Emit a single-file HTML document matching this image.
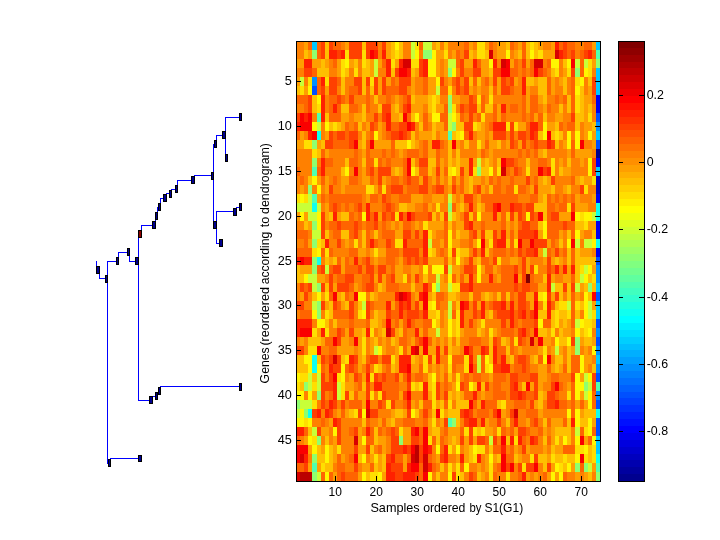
<!DOCTYPE html>
<html><head><meta charset="utf-8"><title>figure</title>
<style>
html,body{margin:0;padding:0;background:#fff}
body{width:720px;height:540px;overflow:hidden}
svg{display:block}
text{font-family:"Liberation Sans",sans-serif;font-size:13.33px;fill:#000;filter:brightness(1)}
.c0{fill:#00008f}
.c1{fill:#0000ef}
.c2{fill:#0050ff}
.c3{fill:#0090ff}
.c4{fill:#00c8ff}
.c5{fill:#10ffef}
.c6{fill:#50ffaf}
.c7{fill:#8fff6f}
.c8{fill:#c8ff38}
.c9{fill:#fff700}
.ca{fill:#ffdf00}
.cb{fill:#ffbf00}
.cc{fill:#ff9f00}
.cd{fill:#ff8000}
.ce{fill:#ff6400}
.cf{fill:#ff4000}
.cg{fill:#ff2000}
.ch{fill:#fa0000}
.ci{fill:#d70000}
.cj{fill:#bb0000}
.ck{fill:#800000}
.cz{fill:#0000bf}
.ln{fill:#0000ff}
.mk{fill:#00008f;stroke:#000;stroke-width:1}
.mr{fill:#8f0000;stroke:#000;stroke-width:1}
.k{fill:#000}
</style></head><body>
<svg width="720" height="540" viewBox="0 0 720 540" shape-rendering="crispEdges">
<rect x="0" y="0" width="720" height="540" fill="#fff"/>
<g id="heat">
<rect class="cd" x="296" y="41" width="8" height="9"/>
<rect class="cc" x="304" y="41" width="4" height="9"/>
<rect class="ce" x="308" y="41" width="4" height="9"/>
<rect class="c4" x="312" y="41" width="5" height="9"/>
<rect class="ce" x="317" y="41" width="4" height="9"/>
<rect class="cf" x="321" y="41" width="4" height="9"/>
<rect class="cb" x="325" y="41" width="4" height="9"/>
<rect class="cf" x="329" y="41" width="4" height="9"/>
<rect class="ce" x="333" y="41" width="8" height="9"/>
<rect class="cd" x="341" y="41" width="4" height="9"/>
<rect class="cc" x="345" y="41" width="4" height="9"/>
<rect class="cf" x="349" y="41" width="13" height="9"/>
<rect class="cb" x="362" y="41" width="4" height="9"/>
<rect class="cf" x="366" y="41" width="12" height="9"/>
<rect class="cd" x="378" y="41" width="4" height="9"/>
<rect class="cf" x="382" y="41" width="4" height="9"/>
<rect class="cc" x="386" y="41" width="5" height="9"/>
<rect class="cb" x="391" y="41" width="4" height="9"/>
<rect class="c9" x="395" y="41" width="4" height="9"/>
<rect class="cb" x="399" y="41" width="4" height="9"/>
<rect class="cd" x="403" y="41" width="8" height="9"/>
<rect class="c8" x="411" y="41" width="4" height="9"/>
<rect class="ca" x="415" y="41" width="4" height="9"/>
<rect class="ce" x="419" y="41" width="4" height="9"/>
<rect class="c8" x="423" y="41" width="9" height="9"/>
<rect class="cc" x="432" y="41" width="4" height="9"/>
<rect class="cb" x="436" y="41" width="4" height="9"/>
<rect class="cd" x="440" y="41" width="4" height="9"/>
<rect class="cb" x="444" y="41" width="4" height="9"/>
<rect class="cd" x="448" y="41" width="16" height="9"/>
<rect class="ce" x="464" y="41" width="5" height="9"/>
<rect class="cc" x="469" y="41" width="4" height="9"/>
<rect class="cd" x="473" y="41" width="4" height="9"/>
<rect class="ca" x="477" y="41" width="8" height="9"/>
<rect class="cc" x="485" y="41" width="4" height="9"/>
<rect class="ce" x="489" y="41" width="4" height="9"/>
<rect class="cd" x="493" y="41" width="4" height="9"/>
<rect class="cc" x="497" y="41" width="9" height="9"/>
<rect class="cb" x="506" y="41" width="4" height="9"/>
<rect class="ce" x="510" y="41" width="4" height="9"/>
<rect class="cd" x="514" y="41" width="4" height="9"/>
<rect class="cc" x="518" y="41" width="4" height="9"/>
<rect class="ce" x="522" y="41" width="4" height="9"/>
<rect class="cb" x="526" y="41" width="4" height="9"/>
<rect class="ca" x="530" y="41" width="4" height="9"/>
<rect class="cb" x="534" y="41" width="4" height="9"/>
<rect class="cc" x="538" y="41" width="5" height="9"/>
<rect class="cd" x="543" y="41" width="8" height="9"/>
<rect class="cc" x="551" y="41" width="4" height="9"/>
<rect class="cg" x="555" y="41" width="4" height="9"/>
<rect class="ce" x="559" y="41" width="4" height="9"/>
<rect class="cf" x="563" y="41" width="4" height="9"/>
<rect class="ce" x="567" y="41" width="8" height="9"/>
<rect class="cd" x="575" y="41" width="9" height="9"/>
<rect class="ce" x="584" y="41" width="8" height="9"/>
<rect class="cc" x="592" y="41" width="4" height="9"/>
<rect class="c4" x="596" y="41" width="4" height="9"/>
<rect class="cd" x="296" y="50" width="8" height="9"/>
<rect class="cb" x="304" y="50" width="4" height="9"/>
<rect class="cc" x="308" y="50" width="4" height="9"/>
<rect class="c7" x="312" y="50" width="5" height="9"/>
<rect class="ce" x="317" y="50" width="4" height="9"/>
<rect class="cf" x="321" y="50" width="4" height="9"/>
<rect class="cb" x="325" y="50" width="4" height="9"/>
<rect class="cg" x="329" y="50" width="8" height="9"/>
<rect class="cf" x="337" y="50" width="4" height="9"/>
<rect class="cg" x="341" y="50" width="4" height="9"/>
<rect class="ca" x="345" y="50" width="4" height="9"/>
<rect class="cf" x="349" y="50" width="13" height="9"/>
<rect class="ca" x="362" y="50" width="4" height="9"/>
<rect class="cf" x="366" y="50" width="4" height="9"/>
<rect class="ch" x="370" y="50" width="4" height="9"/>
<rect class="cg" x="374" y="50" width="4" height="9"/>
<rect class="cd" x="378" y="50" width="4" height="9"/>
<rect class="cg" x="382" y="50" width="4" height="9"/>
<rect class="cc" x="386" y="50" width="5" height="9"/>
<rect class="cb" x="391" y="50" width="4" height="9"/>
<rect class="ca" x="395" y="50" width="4" height="9"/>
<rect class="cb" x="399" y="50" width="4" height="9"/>
<rect class="cd" x="403" y="50" width="8" height="9"/>
<rect class="c8" x="411" y="50" width="4" height="9"/>
<rect class="c9" x="415" y="50" width="4" height="9"/>
<rect class="cd" x="419" y="50" width="4" height="9"/>
<rect class="c7" x="423" y="50" width="9" height="9"/>
<rect class="c9" x="432" y="50" width="4" height="9"/>
<rect class="cc" x="436" y="50" width="8" height="9"/>
<rect class="ca" x="444" y="50" width="4" height="9"/>
<rect class="cd" x="448" y="50" width="4" height="9"/>
<rect class="cc" x="452" y="50" width="4" height="9"/>
<rect class="ce" x="456" y="50" width="4" height="9"/>
<rect class="cd" x="460" y="50" width="4" height="9"/>
<rect class="cf" x="464" y="50" width="5" height="9"/>
<rect class="cb" x="469" y="50" width="4" height="9"/>
<rect class="cc" x="473" y="50" width="4" height="9"/>
<rect class="ca" x="477" y="50" width="8" height="9"/>
<rect class="cb" x="485" y="50" width="4" height="9"/>
<rect class="ci" x="489" y="50" width="4" height="9"/>
<rect class="cd" x="493" y="50" width="4" height="9"/>
<rect class="cc" x="497" y="50" width="9" height="9"/>
<rect class="c9" x="506" y="50" width="4" height="9"/>
<rect class="cd" x="510" y="50" width="4" height="9"/>
<rect class="cc" x="514" y="50" width="4" height="9"/>
<rect class="cb" x="518" y="50" width="4" height="9"/>
<rect class="ce" x="522" y="50" width="4" height="9"/>
<rect class="cb" x="526" y="50" width="4" height="9"/>
<rect class="c9" x="530" y="50" width="4" height="9"/>
<rect class="cb" x="534" y="50" width="4" height="9"/>
<rect class="ca" x="538" y="50" width="5" height="9"/>
<rect class="cc" x="543" y="50" width="12" height="9"/>
<rect class="ci" x="555" y="50" width="4" height="9"/>
<rect class="cg" x="559" y="50" width="4" height="9"/>
<rect class="cf" x="563" y="50" width="4" height="9"/>
<rect class="ce" x="567" y="50" width="4" height="9"/>
<rect class="cf" x="571" y="50" width="4" height="9"/>
<rect class="cd" x="575" y="50" width="5" height="9"/>
<rect class="ce" x="580" y="50" width="4" height="9"/>
<rect class="cf" x="584" y="50" width="4" height="9"/>
<rect class="cg" x="588" y="50" width="4" height="9"/>
<rect class="ce" x="592" y="50" width="4" height="9"/>
<rect class="c6" x="596" y="50" width="4" height="9"/>
<rect class="cc" x="296" y="59" width="8" height="9"/>
<rect class="cg" x="304" y="59" width="8" height="9"/>
<rect class="cc" x="312" y="59" width="9" height="9"/>
<rect class="cb" x="321" y="59" width="4" height="9"/>
<rect class="cc" x="325" y="59" width="4" height="9"/>
<rect class="cd" x="329" y="59" width="4" height="9"/>
<rect class="ce" x="333" y="59" width="4" height="9"/>
<rect class="cc" x="337" y="59" width="4" height="9"/>
<rect class="ca" x="341" y="59" width="4" height="9"/>
<rect class="c9" x="345" y="59" width="4" height="9"/>
<rect class="cc" x="349" y="59" width="5" height="9"/>
<rect class="cb" x="354" y="59" width="4" height="9"/>
<rect class="cd" x="358" y="59" width="4" height="9"/>
<rect class="ca" x="362" y="59" width="4" height="9"/>
<rect class="cb" x="366" y="59" width="4" height="9"/>
<rect class="cc" x="370" y="59" width="4" height="9"/>
<rect class="c8" x="374" y="59" width="4" height="9"/>
<rect class="cc" x="378" y="59" width="4" height="9"/>
<rect class="ce" x="382" y="59" width="4" height="9"/>
<rect class="cg" x="386" y="59" width="5" height="9"/>
<rect class="ca" x="391" y="59" width="4" height="9"/>
<rect class="cc" x="395" y="59" width="4" height="9"/>
<rect class="cg" x="399" y="59" width="4" height="9"/>
<rect class="ci" x="403" y="59" width="8" height="9"/>
<rect class="ca" x="411" y="59" width="8" height="9"/>
<rect class="cf" x="419" y="59" width="4" height="9"/>
<rect class="cg" x="423" y="59" width="5" height="9"/>
<rect class="c9" x="428" y="59" width="8" height="9"/>
<rect class="cc" x="436" y="59" width="4" height="9"/>
<rect class="cd" x="440" y="59" width="4" height="9"/>
<rect class="cc" x="444" y="59" width="4" height="9"/>
<rect class="c8" x="448" y="59" width="8" height="9"/>
<rect class="ce" x="456" y="59" width="4" height="9"/>
<rect class="cf" x="460" y="59" width="4" height="9"/>
<rect class="cc" x="464" y="59" width="9" height="9"/>
<rect class="cg" x="473" y="59" width="4" height="9"/>
<rect class="ce" x="477" y="59" width="4" height="9"/>
<rect class="cc" x="481" y="59" width="8" height="9"/>
<rect class="c9" x="489" y="59" width="4" height="9"/>
<rect class="cg" x="493" y="59" width="4" height="9"/>
<rect class="cd" x="497" y="59" width="4" height="9"/>
<rect class="ci" x="501" y="59" width="5" height="9"/>
<rect class="ch" x="506" y="59" width="4" height="9"/>
<rect class="cc" x="510" y="59" width="4" height="9"/>
<rect class="ce" x="514" y="59" width="4" height="9"/>
<rect class="cd" x="518" y="59" width="4" height="9"/>
<rect class="cf" x="522" y="59" width="4" height="9"/>
<rect class="cc" x="526" y="59" width="4" height="9"/>
<rect class="ce" x="530" y="59" width="4" height="9"/>
<rect class="ci" x="534" y="59" width="9" height="9"/>
<rect class="cd" x="543" y="59" width="4" height="9"/>
<rect class="ce" x="547" y="59" width="4" height="9"/>
<rect class="c9" x="551" y="59" width="8" height="9"/>
<rect class="cd" x="559" y="59" width="4" height="9"/>
<rect class="cb" x="563" y="59" width="4" height="9"/>
<rect class="c9" x="567" y="59" width="4" height="9"/>
<rect class="ch" x="571" y="59" width="4" height="9"/>
<rect class="c8" x="575" y="59" width="5" height="9"/>
<rect class="ce" x="580" y="59" width="4" height="9"/>
<rect class="c8" x="584" y="59" width="4" height="9"/>
<rect class="ca" x="588" y="59" width="4" height="9"/>
<rect class="cc" x="592" y="59" width="4" height="9"/>
<rect class="c7" x="596" y="59" width="4" height="9"/>
<rect class="cd" x="296" y="68" width="8" height="9"/>
<rect class="cf" x="304" y="68" width="8" height="9"/>
<rect class="ce" x="312" y="68" width="5" height="9"/>
<rect class="cb" x="317" y="68" width="12" height="9"/>
<rect class="cd" x="329" y="68" width="8" height="9"/>
<rect class="cc" x="337" y="68" width="4" height="9"/>
<rect class="ca" x="341" y="68" width="4" height="9"/>
<rect class="cb" x="345" y="68" width="4" height="9"/>
<rect class="cd" x="349" y="68" width="5" height="9"/>
<rect class="ca" x="354" y="68" width="4" height="9"/>
<rect class="cd" x="358" y="68" width="4" height="9"/>
<rect class="cb" x="362" y="68" width="8" height="9"/>
<rect class="cc" x="370" y="68" width="4" height="9"/>
<rect class="c8" x="374" y="68" width="4" height="9"/>
<rect class="cd" x="378" y="68" width="8" height="9"/>
<rect class="cg" x="386" y="68" width="5" height="9"/>
<rect class="cb" x="391" y="68" width="4" height="9"/>
<rect class="cf" x="395" y="68" width="4" height="9"/>
<rect class="ch" x="399" y="68" width="8" height="9"/>
<rect class="cg" x="407" y="68" width="4" height="9"/>
<rect class="cb" x="411" y="68" width="4" height="9"/>
<rect class="cc" x="415" y="68" width="4" height="9"/>
<rect class="cf" x="419" y="68" width="4" height="9"/>
<rect class="cg" x="423" y="68" width="5" height="9"/>
<rect class="c9" x="428" y="68" width="8" height="9"/>
<rect class="cc" x="436" y="68" width="4" height="9"/>
<rect class="cd" x="440" y="68" width="4" height="9"/>
<rect class="cc" x="444" y="68" width="4" height="9"/>
<rect class="c7" x="448" y="68" width="4" height="9"/>
<rect class="c9" x="452" y="68" width="4" height="9"/>
<rect class="cd" x="456" y="68" width="4" height="9"/>
<rect class="cf" x="460" y="68" width="4" height="9"/>
<rect class="cd" x="464" y="68" width="9" height="9"/>
<rect class="cf" x="473" y="68" width="8" height="9"/>
<rect class="cc" x="481" y="68" width="8" height="9"/>
<rect class="cb" x="489" y="68" width="4" height="9"/>
<rect class="cf" x="493" y="68" width="8" height="9"/>
<rect class="ch" x="501" y="68" width="9" height="9"/>
<rect class="ce" x="510" y="68" width="8" height="9"/>
<rect class="cd" x="518" y="68" width="4" height="9"/>
<rect class="ce" x="522" y="68" width="4" height="9"/>
<rect class="cd" x="526" y="68" width="4" height="9"/>
<rect class="ce" x="530" y="68" width="4" height="9"/>
<rect class="ch" x="534" y="68" width="4" height="9"/>
<rect class="cf" x="538" y="68" width="5" height="9"/>
<rect class="ce" x="543" y="68" width="4" height="9"/>
<rect class="cd" x="547" y="68" width="4" height="9"/>
<rect class="cb" x="551" y="68" width="4" height="9"/>
<rect class="ca" x="555" y="68" width="4" height="9"/>
<rect class="cd" x="559" y="68" width="4" height="9"/>
<rect class="cc" x="563" y="68" width="4" height="9"/>
<rect class="ca" x="567" y="68" width="4" height="9"/>
<rect class="cf" x="571" y="68" width="4" height="9"/>
<rect class="c7" x="575" y="68" width="5" height="9"/>
<rect class="ce" x="580" y="68" width="4" height="9"/>
<rect class="c9" x="584" y="68" width="4" height="9"/>
<rect class="ca" x="588" y="68" width="4" height="9"/>
<rect class="cd" x="592" y="68" width="4" height="9"/>
<rect class="c4" x="596" y="68" width="4" height="9"/>
<rect class="cc" x="296" y="77" width="4" height="9"/>
<rect class="c8" x="300" y="77" width="4" height="9"/>
<rect class="cd" x="304" y="77" width="4" height="9"/>
<rect class="ca" x="308" y="77" width="4" height="9"/>
<rect class="c3" x="312" y="77" width="5" height="9"/>
<rect class="ce" x="317" y="77" width="4" height="9"/>
<rect class="cg" x="321" y="77" width="4" height="9"/>
<rect class="ca" x="325" y="77" width="4" height="9"/>
<rect class="cf" x="329" y="77" width="8" height="9"/>
<rect class="ce" x="337" y="77" width="4" height="9"/>
<rect class="cb" x="341" y="77" width="4" height="9"/>
<rect class="cd" x="345" y="77" width="9" height="9"/>
<rect class="cf" x="354" y="77" width="8" height="9"/>
<rect class="cb" x="362" y="77" width="4" height="9"/>
<rect class="cf" x="366" y="77" width="4" height="9"/>
<rect class="ca" x="370" y="77" width="4" height="9"/>
<rect class="cf" x="374" y="77" width="4" height="9"/>
<rect class="cc" x="378" y="77" width="4" height="9"/>
<rect class="cf" x="382" y="77" width="4" height="9"/>
<rect class="cc" x="386" y="77" width="5" height="9"/>
<rect class="ce" x="391" y="77" width="4" height="9"/>
<rect class="cd" x="395" y="77" width="4" height="9"/>
<rect class="cf" x="399" y="77" width="12" height="9"/>
<rect class="cc" x="411" y="77" width="4" height="9"/>
<rect class="cd" x="415" y="77" width="8" height="9"/>
<rect class="ce" x="423" y="77" width="5" height="9"/>
<rect class="cc" x="428" y="77" width="8" height="9"/>
<rect class="c9" x="436" y="77" width="4" height="9"/>
<rect class="cf" x="440" y="77" width="4" height="9"/>
<rect class="cd" x="444" y="77" width="4" height="9"/>
<rect class="cc" x="448" y="77" width="4" height="9"/>
<rect class="ce" x="452" y="77" width="4" height="9"/>
<rect class="cf" x="456" y="77" width="4" height="9"/>
<rect class="cd" x="460" y="77" width="4" height="9"/>
<rect class="cf" x="464" y="77" width="5" height="9"/>
<rect class="cb" x="469" y="77" width="4" height="9"/>
<rect class="ce" x="473" y="77" width="4" height="9"/>
<rect class="cb" x="477" y="77" width="4" height="9"/>
<rect class="cd" x="481" y="77" width="4" height="9"/>
<rect class="ce" x="485" y="77" width="4" height="9"/>
<rect class="cc" x="489" y="77" width="4" height="9"/>
<rect class="cf" x="493" y="77" width="4" height="9"/>
<rect class="cc" x="497" y="77" width="4" height="9"/>
<rect class="cf" x="501" y="77" width="5" height="9"/>
<rect class="ce" x="506" y="77" width="4" height="9"/>
<rect class="cf" x="510" y="77" width="4" height="9"/>
<rect class="cc" x="514" y="77" width="4" height="9"/>
<rect class="cd" x="518" y="77" width="4" height="9"/>
<rect class="cg" x="522" y="77" width="4" height="9"/>
<rect class="cb" x="526" y="77" width="8" height="9"/>
<rect class="cc" x="534" y="77" width="4" height="9"/>
<rect class="cb" x="538" y="77" width="9" height="9"/>
<rect class="ce" x="547" y="77" width="4" height="9"/>
<rect class="cc" x="551" y="77" width="4" height="9"/>
<rect class="cd" x="555" y="77" width="4" height="9"/>
<rect class="cc" x="559" y="77" width="4" height="9"/>
<rect class="cb" x="563" y="77" width="4" height="9"/>
<rect class="cd" x="567" y="77" width="4" height="9"/>
<rect class="ce" x="571" y="77" width="4" height="9"/>
<rect class="ca" x="575" y="77" width="5" height="9"/>
<rect class="c9" x="580" y="77" width="4" height="9"/>
<rect class="cd" x="584" y="77" width="4" height="9"/>
<rect class="cb" x="588" y="77" width="4" height="9"/>
<rect class="cf" x="592" y="77" width="4" height="9"/>
<rect class="c4" x="596" y="77" width="4" height="9"/>
<rect class="cb" x="296" y="86" width="4" height="9"/>
<rect class="ca" x="300" y="86" width="4" height="9"/>
<rect class="cc" x="304" y="86" width="4" height="9"/>
<rect class="c9" x="308" y="86" width="4" height="9"/>
<rect class="c2" x="312" y="86" width="5" height="9"/>
<rect class="ce" x="317" y="86" width="4" height="9"/>
<rect class="cf" x="321" y="86" width="4" height="9"/>
<rect class="cc" x="325" y="86" width="4" height="9"/>
<rect class="cf" x="329" y="86" width="8" height="9"/>
<rect class="cd" x="337" y="86" width="4" height="9"/>
<rect class="cb" x="341" y="86" width="4" height="9"/>
<rect class="cd" x="345" y="86" width="4" height="9"/>
<rect class="ce" x="349" y="86" width="9" height="9"/>
<rect class="cf" x="358" y="86" width="4" height="9"/>
<rect class="cb" x="362" y="86" width="4" height="9"/>
<rect class="ce" x="366" y="86" width="4" height="9"/>
<rect class="cb" x="370" y="86" width="4" height="9"/>
<rect class="cf" x="374" y="86" width="4" height="9"/>
<rect class="cc" x="378" y="86" width="4" height="9"/>
<rect class="cf" x="382" y="86" width="4" height="9"/>
<rect class="ce" x="386" y="86" width="13" height="9"/>
<rect class="cf" x="399" y="86" width="8" height="9"/>
<rect class="cd" x="407" y="86" width="4" height="9"/>
<rect class="cc" x="411" y="86" width="4" height="9"/>
<rect class="cd" x="415" y="86" width="8" height="9"/>
<rect class="ce" x="423" y="86" width="5" height="9"/>
<rect class="cc" x="428" y="86" width="8" height="9"/>
<rect class="c8" x="436" y="86" width="4" height="9"/>
<rect class="ce" x="440" y="86" width="8" height="9"/>
<rect class="ca" x="448" y="86" width="4" height="9"/>
<rect class="cd" x="452" y="86" width="4" height="9"/>
<rect class="cf" x="456" y="86" width="4" height="9"/>
<rect class="ce" x="460" y="86" width="4" height="9"/>
<rect class="cf" x="464" y="86" width="5" height="9"/>
<rect class="cc" x="469" y="86" width="4" height="9"/>
<rect class="cd" x="473" y="86" width="4" height="9"/>
<rect class="cc" x="477" y="86" width="4" height="9"/>
<rect class="cd" x="481" y="86" width="8" height="9"/>
<rect class="cb" x="489" y="86" width="4" height="9"/>
<rect class="ce" x="493" y="86" width="4" height="9"/>
<rect class="cc" x="497" y="86" width="4" height="9"/>
<rect class="cf" x="501" y="86" width="9" height="9"/>
<rect class="ce" x="510" y="86" width="4" height="9"/>
<rect class="cd" x="514" y="86" width="8" height="9"/>
<rect class="cg" x="522" y="86" width="4" height="9"/>
<rect class="cc" x="526" y="86" width="4" height="9"/>
<rect class="cd" x="530" y="86" width="8" height="9"/>
<rect class="cb" x="538" y="86" width="9" height="9"/>
<rect class="ce" x="547" y="86" width="4" height="9"/>
<rect class="cc" x="551" y="86" width="4" height="9"/>
<rect class="cd" x="555" y="86" width="8" height="9"/>
<rect class="cb" x="563" y="86" width="4" height="9"/>
<rect class="cd" x="567" y="86" width="4" height="9"/>
<rect class="ce" x="571" y="86" width="4" height="9"/>
<rect class="c9" x="575" y="86" width="5" height="9"/>
<rect class="cb" x="580" y="86" width="4" height="9"/>
<rect class="cd" x="584" y="86" width="4" height="9"/>
<rect class="cc" x="588" y="86" width="4" height="9"/>
<rect class="cf" x="592" y="86" width="4" height="9"/>
<rect class="c4" x="596" y="86" width="4" height="9"/>
<rect class="ce" x="296" y="95" width="12" height="9"/>
<rect class="cf" x="308" y="95" width="4" height="9"/>
<rect class="cb" x="312" y="95" width="5" height="9"/>
<rect class="c9" x="317" y="95" width="4" height="9"/>
<rect class="cg" x="321" y="95" width="4" height="9"/>
<rect class="cd" x="325" y="95" width="4" height="9"/>
<rect class="ce" x="329" y="95" width="8" height="9"/>
<rect class="cf" x="337" y="95" width="4" height="9"/>
<rect class="ce" x="341" y="95" width="4" height="9"/>
<rect class="cd" x="345" y="95" width="4" height="9"/>
<rect class="cf" x="349" y="95" width="5" height="9"/>
<rect class="cd" x="354" y="95" width="12" height="9"/>
<rect class="ce" x="366" y="95" width="4" height="9"/>
<rect class="cd" x="370" y="95" width="4" height="9"/>
<rect class="cb" x="374" y="95" width="4" height="9"/>
<rect class="cd" x="378" y="95" width="8" height="9"/>
<rect class="ce" x="386" y="95" width="5" height="9"/>
<rect class="cd" x="391" y="95" width="4" height="9"/>
<rect class="cc" x="395" y="95" width="4" height="9"/>
<rect class="cd" x="399" y="95" width="4" height="9"/>
<rect class="ce" x="403" y="95" width="4" height="9"/>
<rect class="cf" x="407" y="95" width="4" height="9"/>
<rect class="cb" x="411" y="95" width="4" height="9"/>
<rect class="cc" x="415" y="95" width="13" height="9"/>
<rect class="cb" x="428" y="95" width="4" height="9"/>
<rect class="ca" x="432" y="95" width="4" height="9"/>
<rect class="cb" x="436" y="95" width="4" height="9"/>
<rect class="cd" x="440" y="95" width="8" height="9"/>
<rect class="c7" x="448" y="95" width="4" height="9"/>
<rect class="cc" x="452" y="95" width="8" height="9"/>
<rect class="cd" x="460" y="95" width="9" height="9"/>
<rect class="cf" x="469" y="95" width="4" height="9"/>
<rect class="ce" x="473" y="95" width="4" height="9"/>
<rect class="ca" x="477" y="95" width="4" height="9"/>
<rect class="ce" x="481" y="95" width="4" height="9"/>
<rect class="cd" x="485" y="95" width="4" height="9"/>
<rect class="ca" x="489" y="95" width="4" height="9"/>
<rect class="cd" x="493" y="95" width="29" height="9"/>
<rect class="ce" x="522" y="95" width="4" height="9"/>
<rect class="cc" x="526" y="95" width="4" height="9"/>
<rect class="ce" x="530" y="95" width="8" height="9"/>
<rect class="cc" x="538" y="95" width="5" height="9"/>
<rect class="cb" x="543" y="95" width="4" height="9"/>
<rect class="cd" x="547" y="95" width="8" height="9"/>
<rect class="ce" x="555" y="95" width="4" height="9"/>
<rect class="cd" x="559" y="95" width="4" height="9"/>
<rect class="ce" x="563" y="95" width="4" height="9"/>
<rect class="cb" x="567" y="95" width="4" height="9"/>
<rect class="ce" x="571" y="95" width="4" height="9"/>
<rect class="ca" x="575" y="95" width="5" height="9"/>
<rect class="cb" x="580" y="95" width="4" height="9"/>
<rect class="cc" x="584" y="95" width="8" height="9"/>
<rect class="ce" x="592" y="95" width="4" height="9"/>
<rect class="c1" x="596" y="95" width="4" height="9"/>
<rect class="cd" x="296" y="104" width="8" height="9"/>
<rect class="ce" x="304" y="104" width="4" height="9"/>
<rect class="cf" x="308" y="104" width="4" height="9"/>
<rect class="cb" x="312" y="104" width="5" height="9"/>
<rect class="ca" x="317" y="104" width="4" height="9"/>
<rect class="cg" x="321" y="104" width="4" height="9"/>
<rect class="cd" x="325" y="104" width="4" height="9"/>
<rect class="ce" x="329" y="104" width="4" height="9"/>
<rect class="cg" x="333" y="104" width="4" height="9"/>
<rect class="ce" x="337" y="104" width="4" height="9"/>
<rect class="cb" x="341" y="104" width="8" height="9"/>
<rect class="ce" x="349" y="104" width="9" height="9"/>
<rect class="cd" x="358" y="104" width="4" height="9"/>
<rect class="cb" x="362" y="104" width="4" height="9"/>
<rect class="ce" x="366" y="104" width="4" height="9"/>
<rect class="cd" x="370" y="104" width="8" height="9"/>
<rect class="cb" x="378" y="104" width="4" height="9"/>
<rect class="cf" x="382" y="104" width="9" height="9"/>
<rect class="cc" x="391" y="104" width="4" height="9"/>
<rect class="cb" x="395" y="104" width="4" height="9"/>
<rect class="cd" x="399" y="104" width="4" height="9"/>
<rect class="cf" x="403" y="104" width="4" height="9"/>
<rect class="cg" x="407" y="104" width="4" height="9"/>
<rect class="cc" x="411" y="104" width="12" height="9"/>
<rect class="cd" x="423" y="104" width="5" height="9"/>
<rect class="cb" x="428" y="104" width="4" height="9"/>
<rect class="ca" x="432" y="104" width="4" height="9"/>
<rect class="cc" x="436" y="104" width="8" height="9"/>
<rect class="ce" x="444" y="104" width="4" height="9"/>
<rect class="c7" x="448" y="104" width="4" height="9"/>
<rect class="ca" x="452" y="104" width="4" height="9"/>
<rect class="cd" x="456" y="104" width="4" height="9"/>
<rect class="cf" x="460" y="104" width="4" height="9"/>
<rect class="ce" x="464" y="104" width="5" height="9"/>
<rect class="cf" x="469" y="104" width="8" height="9"/>
<rect class="cb" x="477" y="104" width="4" height="9"/>
<rect class="ce" x="481" y="104" width="4" height="9"/>
<rect class="cb" x="485" y="104" width="8" height="9"/>
<rect class="ce" x="493" y="104" width="4" height="9"/>
<rect class="cc" x="497" y="104" width="4" height="9"/>
<rect class="cg" x="501" y="104" width="5" height="9"/>
<rect class="cd" x="506" y="104" width="4" height="9"/>
<rect class="ce" x="510" y="104" width="8" height="9"/>
<rect class="cd" x="518" y="104" width="4" height="9"/>
<rect class="ce" x="522" y="104" width="4" height="9"/>
<rect class="cc" x="526" y="104" width="4" height="9"/>
<rect class="ce" x="530" y="104" width="8" height="9"/>
<rect class="cd" x="538" y="104" width="5" height="9"/>
<rect class="cc" x="543" y="104" width="4" height="9"/>
<rect class="ce" x="547" y="104" width="4" height="9"/>
<rect class="cd" x="551" y="104" width="8" height="9"/>
<rect class="cb" x="559" y="104" width="4" height="9"/>
<rect class="cd" x="563" y="104" width="4" height="9"/>
<rect class="cb" x="567" y="104" width="4" height="9"/>
<rect class="ce" x="571" y="104" width="4" height="9"/>
<rect class="ca" x="575" y="104" width="5" height="9"/>
<rect class="cb" x="580" y="104" width="4" height="9"/>
<rect class="cc" x="584" y="104" width="4" height="9"/>
<rect class="cb" x="588" y="104" width="4" height="9"/>
<rect class="cd" x="592" y="104" width="4" height="9"/>
<rect class="c1" x="596" y="104" width="4" height="9"/>
<rect class="cf" x="296" y="113" width="4" height="9"/>
<rect class="ch" x="300" y="113" width="4" height="9"/>
<rect class="cg" x="304" y="113" width="4" height="9"/>
<rect class="ch" x="308" y="113" width="4" height="9"/>
<rect class="cd" x="312" y="113" width="5" height="9"/>
<rect class="c6" x="317" y="113" width="4" height="9"/>
<rect class="cg" x="321" y="113" width="4" height="9"/>
<rect class="cb" x="325" y="113" width="4" height="9"/>
<rect class="ce" x="329" y="113" width="12" height="9"/>
<rect class="cc" x="341" y="113" width="8" height="9"/>
<rect class="cd" x="349" y="113" width="5" height="9"/>
<rect class="cc" x="354" y="113" width="8" height="9"/>
<rect class="cb" x="362" y="113" width="4" height="9"/>
<rect class="cd" x="366" y="113" width="8" height="9"/>
<rect class="cf" x="374" y="113" width="4" height="9"/>
<rect class="cd" x="378" y="113" width="4" height="9"/>
<rect class="cf" x="382" y="113" width="4" height="9"/>
<rect class="cg" x="386" y="113" width="5" height="9"/>
<rect class="cc" x="391" y="113" width="8" height="9"/>
<rect class="cb" x="399" y="113" width="4" height="9"/>
<rect class="ch" x="403" y="113" width="4" height="9"/>
<rect class="ce" x="407" y="113" width="4" height="9"/>
<rect class="cb" x="411" y="113" width="4" height="9"/>
<rect class="c9" x="415" y="113" width="4" height="9"/>
<rect class="cc" x="419" y="113" width="4" height="9"/>
<rect class="ce" x="423" y="113" width="5" height="9"/>
<rect class="cc" x="428" y="113" width="4" height="9"/>
<rect class="c9" x="432" y="113" width="8" height="9"/>
<rect class="ce" x="440" y="113" width="8" height="9"/>
<rect class="c8" x="448" y="113" width="4" height="9"/>
<rect class="c9" x="452" y="113" width="4" height="9"/>
<rect class="cb" x="456" y="113" width="4" height="9"/>
<rect class="ce" x="460" y="113" width="4" height="9"/>
<rect class="cd" x="464" y="113" width="5" height="9"/>
<rect class="cf" x="469" y="113" width="4" height="9"/>
<rect class="cd" x="473" y="113" width="4" height="9"/>
<rect class="ce" x="477" y="113" width="4" height="9"/>
<rect class="ca" x="481" y="113" width="4" height="9"/>
<rect class="cd" x="485" y="113" width="8" height="9"/>
<rect class="ce" x="493" y="113" width="4" height="9"/>
<rect class="cc" x="497" y="113" width="4" height="9"/>
<rect class="ce" x="501" y="113" width="5" height="9"/>
<rect class="cd" x="506" y="113" width="16" height="9"/>
<rect class="ce" x="522" y="113" width="4" height="9"/>
<rect class="cd" x="526" y="113" width="4" height="9"/>
<rect class="ce" x="530" y="113" width="4" height="9"/>
<rect class="cc" x="534" y="113" width="4" height="9"/>
<rect class="ce" x="538" y="113" width="5" height="9"/>
<rect class="cb" x="543" y="113" width="4" height="9"/>
<rect class="cd" x="547" y="113" width="8" height="9"/>
<rect class="cc" x="555" y="113" width="8" height="9"/>
<rect class="cd" x="563" y="113" width="8" height="9"/>
<rect class="cf" x="571" y="113" width="4" height="9"/>
<rect class="cb" x="575" y="113" width="9" height="9"/>
<rect class="cc" x="584" y="113" width="4" height="9"/>
<rect class="ca" x="588" y="113" width="4" height="9"/>
<rect class="cd" x="592" y="113" width="4" height="9"/>
<rect class="c2" x="596" y="113" width="4" height="9"/>
<rect class="cg" x="296" y="122" width="4" height="9"/>
<rect class="ch" x="300" y="122" width="12" height="9"/>
<rect class="c9" x="312" y="122" width="5" height="9"/>
<rect class="c8" x="317" y="122" width="4" height="9"/>
<rect class="cd" x="321" y="122" width="4" height="9"/>
<rect class="c9" x="325" y="122" width="4" height="9"/>
<rect class="cb" x="329" y="122" width="4" height="9"/>
<rect class="ca" x="333" y="122" width="4" height="9"/>
<rect class="cb" x="337" y="122" width="4" height="9"/>
<rect class="cc" x="341" y="122" width="4" height="9"/>
<rect class="ce" x="345" y="122" width="4" height="9"/>
<rect class="cd" x="349" y="122" width="5" height="9"/>
<rect class="ce" x="354" y="122" width="4" height="9"/>
<rect class="cb" x="358" y="122" width="4" height="9"/>
<rect class="cd" x="362" y="122" width="4" height="9"/>
<rect class="cc" x="366" y="122" width="4" height="9"/>
<rect class="cf" x="370" y="122" width="4" height="9"/>
<rect class="ce" x="374" y="122" width="4" height="9"/>
<rect class="cc" x="378" y="122" width="4" height="9"/>
<rect class="cd" x="382" y="122" width="4" height="9"/>
<rect class="cg" x="386" y="122" width="5" height="9"/>
<rect class="ce" x="391" y="122" width="8" height="9"/>
<rect class="cf" x="399" y="122" width="8" height="9"/>
<rect class="ch" x="407" y="122" width="4" height="9"/>
<rect class="cg" x="411" y="122" width="4" height="9"/>
<rect class="cd" x="415" y="122" width="4" height="9"/>
<rect class="cb" x="419" y="122" width="4" height="9"/>
<rect class="ce" x="423" y="122" width="5" height="9"/>
<rect class="cd" x="428" y="122" width="4" height="9"/>
<rect class="cb" x="432" y="122" width="4" height="9"/>
<rect class="cc" x="436" y="122" width="8" height="9"/>
<rect class="ce" x="444" y="122" width="4" height="9"/>
<rect class="c8" x="448" y="122" width="4" height="9"/>
<rect class="c7" x="452" y="122" width="4" height="9"/>
<rect class="cb" x="456" y="122" width="8" height="9"/>
<rect class="cf" x="464" y="122" width="9" height="9"/>
<rect class="ca" x="473" y="122" width="4" height="9"/>
<rect class="cb" x="477" y="122" width="4" height="9"/>
<rect class="cc" x="481" y="122" width="4" height="9"/>
<rect class="cd" x="485" y="122" width="4" height="9"/>
<rect class="ce" x="489" y="122" width="4" height="9"/>
<rect class="cg" x="493" y="122" width="13" height="9"/>
<rect class="ca" x="506" y="122" width="4" height="9"/>
<rect class="cf" x="510" y="122" width="4" height="9"/>
<rect class="ca" x="514" y="122" width="4" height="9"/>
<rect class="cc" x="518" y="122" width="8" height="9"/>
<rect class="ce" x="526" y="122" width="4" height="9"/>
<rect class="cg" x="530" y="122" width="8" height="9"/>
<rect class="ce" x="538" y="122" width="5" height="9"/>
<rect class="c9" x="543" y="122" width="4" height="9"/>
<rect class="cc" x="547" y="122" width="8" height="9"/>
<rect class="cb" x="555" y="122" width="4" height="9"/>
<rect class="ce" x="559" y="122" width="4" height="9"/>
<rect class="cd" x="563" y="122" width="4" height="9"/>
<rect class="ce" x="567" y="122" width="8" height="9"/>
<rect class="cb" x="575" y="122" width="5" height="9"/>
<rect class="cd" x="580" y="122" width="4" height="9"/>
<rect class="cc" x="584" y="122" width="8" height="9"/>
<rect class="cb" x="592" y="122" width="4" height="9"/>
<rect class="c3" x="596" y="122" width="4" height="9"/>
<rect class="ce" x="296" y="131" width="4" height="9"/>
<rect class="cc" x="300" y="131" width="4" height="9"/>
<rect class="cd" x="304" y="131" width="4" height="9"/>
<rect class="cg" x="308" y="131" width="4" height="9"/>
<rect class="ch" x="312" y="131" width="5" height="9"/>
<rect class="c5" x="317" y="131" width="4" height="9"/>
<rect class="cd" x="321" y="131" width="4" height="9"/>
<rect class="cc" x="325" y="131" width="4" height="9"/>
<rect class="cf" x="329" y="131" width="4" height="9"/>
<rect class="ce" x="333" y="131" width="4" height="9"/>
<rect class="cf" x="337" y="131" width="8" height="9"/>
<rect class="ce" x="345" y="131" width="4" height="9"/>
<rect class="cf" x="349" y="131" width="9" height="9"/>
<rect class="cd" x="358" y="131" width="4" height="9"/>
<rect class="cb" x="362" y="131" width="4" height="9"/>
<rect class="cd" x="366" y="131" width="4" height="9"/>
<rect class="ce" x="370" y="131" width="4" height="9"/>
<rect class="c9" x="374" y="131" width="4" height="9"/>
<rect class="cc" x="378" y="131" width="4" height="9"/>
<rect class="cd" x="382" y="131" width="4" height="9"/>
<rect class="ce" x="386" y="131" width="5" height="9"/>
<rect class="cf" x="391" y="131" width="8" height="9"/>
<rect class="cg" x="399" y="131" width="4" height="9"/>
<rect class="cf" x="403" y="131" width="4" height="9"/>
<rect class="ce" x="407" y="131" width="4" height="9"/>
<rect class="cb" x="411" y="131" width="4" height="9"/>
<rect class="cd" x="415" y="131" width="4" height="9"/>
<rect class="cc" x="419" y="131" width="13" height="9"/>
<rect class="cb" x="432" y="131" width="4" height="9"/>
<rect class="cd" x="436" y="131" width="4" height="9"/>
<rect class="cc" x="440" y="131" width="8" height="9"/>
<rect class="c6" x="448" y="131" width="4" height="9"/>
<rect class="cb" x="452" y="131" width="4" height="9"/>
<rect class="ca" x="456" y="131" width="4" height="9"/>
<rect class="c9" x="460" y="131" width="4" height="9"/>
<rect class="ce" x="464" y="131" width="5" height="9"/>
<rect class="cg" x="469" y="131" width="4" height="9"/>
<rect class="cd" x="473" y="131" width="4" height="9"/>
<rect class="cc" x="477" y="131" width="8" height="9"/>
<rect class="cd" x="485" y="131" width="4" height="9"/>
<rect class="cc" x="489" y="131" width="4" height="9"/>
<rect class="cf" x="493" y="131" width="13" height="9"/>
<rect class="cd" x="506" y="131" width="4" height="9"/>
<rect class="cf" x="510" y="131" width="4" height="9"/>
<rect class="cd" x="514" y="131" width="4" height="9"/>
<rect class="cf" x="518" y="131" width="8" height="9"/>
<rect class="ce" x="526" y="131" width="4" height="9"/>
<rect class="cg" x="530" y="131" width="4" height="9"/>
<rect class="cf" x="534" y="131" width="4" height="9"/>
<rect class="cb" x="538" y="131" width="5" height="9"/>
<rect class="c9" x="543" y="131" width="4" height="9"/>
<rect class="ch" x="547" y="131" width="4" height="9"/>
<rect class="cb" x="551" y="131" width="4" height="9"/>
<rect class="ca" x="555" y="131" width="4" height="9"/>
<rect class="cb" x="559" y="131" width="4" height="9"/>
<rect class="cd" x="563" y="131" width="4" height="9"/>
<rect class="c9" x="567" y="131" width="4" height="9"/>
<rect class="cd" x="571" y="131" width="4" height="9"/>
<rect class="c9" x="575" y="131" width="5" height="9"/>
<rect class="cd" x="580" y="131" width="4" height="9"/>
<rect class="cc" x="584" y="131" width="4" height="9"/>
<rect class="c9" x="588" y="131" width="4" height="9"/>
<rect class="cc" x="592" y="131" width="4" height="9"/>
<rect class="c4" x="596" y="131" width="4" height="9"/>
<rect class="cc" x="296" y="140" width="8" height="9"/>
<rect class="ca" x="304" y="140" width="8" height="9"/>
<rect class="c7" x="312" y="140" width="5" height="9"/>
<rect class="cc" x="317" y="140" width="4" height="9"/>
<rect class="cb" x="321" y="140" width="4" height="9"/>
<rect class="cf" x="325" y="140" width="8" height="9"/>
<rect class="ce" x="333" y="140" width="16" height="9"/>
<rect class="cf" x="349" y="140" width="5" height="9"/>
<rect class="ch" x="354" y="140" width="4" height="9"/>
<rect class="cc" x="358" y="140" width="4" height="9"/>
<rect class="cb" x="362" y="140" width="4" height="9"/>
<rect class="ce" x="366" y="140" width="4" height="9"/>
<rect class="ch" x="370" y="140" width="4" height="9"/>
<rect class="cc" x="374" y="140" width="17" height="9"/>
<rect class="ce" x="391" y="140" width="4" height="9"/>
<rect class="cb" x="395" y="140" width="12" height="9"/>
<rect class="c9" x="407" y="140" width="4" height="9"/>
<rect class="cb" x="411" y="140" width="4" height="9"/>
<rect class="cc" x="415" y="140" width="4" height="9"/>
<rect class="cd" x="419" y="140" width="4" height="9"/>
<rect class="ce" x="423" y="140" width="5" height="9"/>
<rect class="cc" x="428" y="140" width="4" height="9"/>
<rect class="cg" x="432" y="140" width="8" height="9"/>
<rect class="ce" x="440" y="140" width="4" height="9"/>
<rect class="cd" x="444" y="140" width="4" height="9"/>
<rect class="cb" x="448" y="140" width="4" height="9"/>
<rect class="ch" x="452" y="140" width="4" height="9"/>
<rect class="cc" x="456" y="140" width="4" height="9"/>
<rect class="cd" x="460" y="140" width="4" height="9"/>
<rect class="cb" x="464" y="140" width="5" height="9"/>
<rect class="cd" x="469" y="140" width="8" height="9"/>
<rect class="ca" x="477" y="140" width="4" height="9"/>
<rect class="cc" x="481" y="140" width="4" height="9"/>
<rect class="ce" x="485" y="140" width="4" height="9"/>
<rect class="cc" x="489" y="140" width="8" height="9"/>
<rect class="cb" x="497" y="140" width="4" height="9"/>
<rect class="cd" x="501" y="140" width="5" height="9"/>
<rect class="cc" x="506" y="140" width="4" height="9"/>
<rect class="cf" x="510" y="140" width="4" height="9"/>
<rect class="ce" x="514" y="140" width="4" height="9"/>
<rect class="cc" x="518" y="140" width="4" height="9"/>
<rect class="cf" x="522" y="140" width="4" height="9"/>
<rect class="cd" x="526" y="140" width="4" height="9"/>
<rect class="ce" x="530" y="140" width="4" height="9"/>
<rect class="cf" x="534" y="140" width="4" height="9"/>
<rect class="ce" x="538" y="140" width="9" height="9"/>
<rect class="cg" x="547" y="140" width="4" height="9"/>
<rect class="cf" x="551" y="140" width="4" height="9"/>
<rect class="cb" x="555" y="140" width="4" height="9"/>
<rect class="cd" x="559" y="140" width="4" height="9"/>
<rect class="cc" x="563" y="140" width="4" height="9"/>
<rect class="c9" x="567" y="140" width="4" height="9"/>
<rect class="ce" x="571" y="140" width="4" height="9"/>
<rect class="c9" x="575" y="140" width="5" height="9"/>
<rect class="ch" x="580" y="140" width="4" height="9"/>
<rect class="cd" x="584" y="140" width="8" height="9"/>
<rect class="cc" x="592" y="140" width="4" height="9"/>
<rect class="c2" x="596" y="140" width="4" height="9"/>
<rect class="cd" x="296" y="149" width="16" height="9"/>
<rect class="ca" x="312" y="149" width="5" height="9"/>
<rect class="cb" x="317" y="149" width="4" height="9"/>
<rect class="ce" x="321" y="149" width="4" height="9"/>
<rect class="cc" x="325" y="149" width="4" height="9"/>
<rect class="cd" x="329" y="149" width="25" height="9"/>
<rect class="ce" x="354" y="149" width="4" height="9"/>
<rect class="cd" x="358" y="149" width="4" height="9"/>
<rect class="cc" x="362" y="149" width="4" height="9"/>
<rect class="ce" x="366" y="149" width="4" height="9"/>
<rect class="cd" x="370" y="149" width="12" height="9"/>
<rect class="ce" x="382" y="149" width="4" height="9"/>
<rect class="cd" x="386" y="149" width="5" height="9"/>
<rect class="ce" x="391" y="149" width="4" height="9"/>
<rect class="cd" x="395" y="149" width="4" height="9"/>
<rect class="cc" x="399" y="149" width="4" height="9"/>
<rect class="cd" x="403" y="149" width="4" height="9"/>
<rect class="ce" x="407" y="149" width="12" height="9"/>
<rect class="cd" x="419" y="149" width="4" height="9"/>
<rect class="ce" x="423" y="149" width="5" height="9"/>
<rect class="cc" x="428" y="149" width="8" height="9"/>
<rect class="ce" x="436" y="149" width="4" height="9"/>
<rect class="cd" x="440" y="149" width="8" height="9"/>
<rect class="cb" x="448" y="149" width="4" height="9"/>
<rect class="cd" x="452" y="149" width="4" height="9"/>
<rect class="cb" x="456" y="149" width="4" height="9"/>
<rect class="cd" x="460" y="149" width="17" height="9"/>
<rect class="cc" x="477" y="149" width="4" height="9"/>
<rect class="ce" x="481" y="149" width="4" height="9"/>
<rect class="cd" x="485" y="149" width="4" height="9"/>
<rect class="cc" x="489" y="149" width="4" height="9"/>
<rect class="cd" x="493" y="149" width="25" height="9"/>
<rect class="ce" x="518" y="149" width="4" height="9"/>
<rect class="cd" x="522" y="149" width="4" height="9"/>
<rect class="ce" x="526" y="149" width="4" height="9"/>
<rect class="cd" x="530" y="149" width="4" height="9"/>
<rect class="ce" x="534" y="149" width="4" height="9"/>
<rect class="cc" x="538" y="149" width="5" height="9"/>
<rect class="cb" x="543" y="149" width="4" height="9"/>
<rect class="cd" x="547" y="149" width="20" height="9"/>
<rect class="cc" x="567" y="149" width="4" height="9"/>
<rect class="ce" x="571" y="149" width="4" height="9"/>
<rect class="cc" x="575" y="149" width="17" height="9"/>
<rect class="cd" x="592" y="149" width="4" height="9"/>
<rect class="c0" x="596" y="149" width="4" height="9"/>
<rect class="cd" x="296" y="158" width="16" height="9"/>
<rect class="c7" x="312" y="158" width="5" height="9"/>
<rect class="cd" x="317" y="158" width="4" height="9"/>
<rect class="cg" x="321" y="158" width="4" height="9"/>
<rect class="ce" x="325" y="158" width="8" height="9"/>
<rect class="cd" x="333" y="158" width="12" height="9"/>
<rect class="cb" x="345" y="158" width="4" height="9"/>
<rect class="ce" x="349" y="158" width="9" height="9"/>
<rect class="cd" x="358" y="158" width="4" height="9"/>
<rect class="cb" x="362" y="158" width="4" height="9"/>
<rect class="ce" x="366" y="158" width="8" height="9"/>
<rect class="ca" x="374" y="158" width="4" height="9"/>
<rect class="ce" x="378" y="158" width="4" height="9"/>
<rect class="cd" x="382" y="158" width="4" height="9"/>
<rect class="ce" x="386" y="158" width="5" height="9"/>
<rect class="cd" x="391" y="158" width="12" height="9"/>
<rect class="ce" x="403" y="158" width="4" height="9"/>
<rect class="ch" x="407" y="158" width="4" height="9"/>
<rect class="cb" x="411" y="158" width="4" height="9"/>
<rect class="cd" x="415" y="158" width="4" height="9"/>
<rect class="cf" x="419" y="158" width="9" height="9"/>
<rect class="cb" x="428" y="158" width="8" height="9"/>
<rect class="ce" x="436" y="158" width="4" height="9"/>
<rect class="cc" x="440" y="158" width="4" height="9"/>
<rect class="cd" x="444" y="158" width="4" height="9"/>
<rect class="cb" x="448" y="158" width="4" height="9"/>
<rect class="cc" x="452" y="158" width="4" height="9"/>
<rect class="cb" x="456" y="158" width="4" height="9"/>
<rect class="cc" x="460" y="158" width="9" height="9"/>
<rect class="cg" x="469" y="158" width="4" height="9"/>
<rect class="cc" x="473" y="158" width="4" height="9"/>
<rect class="c8" x="477" y="158" width="4" height="9"/>
<rect class="cc" x="481" y="158" width="4" height="9"/>
<rect class="cb" x="485" y="158" width="4" height="9"/>
<rect class="cc" x="489" y="158" width="4" height="9"/>
<rect class="cd" x="493" y="158" width="4" height="9"/>
<rect class="cb" x="497" y="158" width="4" height="9"/>
<rect class="ch" x="501" y="158" width="5" height="9"/>
<rect class="cf" x="506" y="158" width="8" height="9"/>
<rect class="ce" x="514" y="158" width="4" height="9"/>
<rect class="cd" x="518" y="158" width="8" height="9"/>
<rect class="cb" x="526" y="158" width="4" height="9"/>
<rect class="cd" x="530" y="158" width="8" height="9"/>
<rect class="ce" x="538" y="158" width="9" height="9"/>
<rect class="cd" x="547" y="158" width="4" height="9"/>
<rect class="ca" x="551" y="158" width="4" height="9"/>
<rect class="cd" x="555" y="158" width="4" height="9"/>
<rect class="cc" x="559" y="158" width="4" height="9"/>
<rect class="cd" x="563" y="158" width="4" height="9"/>
<rect class="cb" x="567" y="158" width="4" height="9"/>
<rect class="cd" x="571" y="158" width="9" height="9"/>
<rect class="cc" x="580" y="158" width="4" height="9"/>
<rect class="cd" x="584" y="158" width="4" height="9"/>
<rect class="c9" x="588" y="158" width="4" height="9"/>
<rect class="cf" x="592" y="158" width="4" height="9"/>
<rect class="c1" x="596" y="158" width="4" height="9"/>
<rect class="ce" x="296" y="167" width="4" height="9"/>
<rect class="cd" x="300" y="167" width="12" height="9"/>
<rect class="c6" x="312" y="167" width="5" height="9"/>
<rect class="ce" x="317" y="167" width="4" height="9"/>
<rect class="cg" x="321" y="167" width="4" height="9"/>
<rect class="cd" x="325" y="167" width="16" height="9"/>
<rect class="cb" x="341" y="167" width="4" height="9"/>
<rect class="c9" x="345" y="167" width="4" height="9"/>
<rect class="cd" x="349" y="167" width="5" height="9"/>
<rect class="ch" x="354" y="167" width="4" height="9"/>
<rect class="cd" x="358" y="167" width="4" height="9"/>
<rect class="cc" x="362" y="167" width="4" height="9"/>
<rect class="ce" x="366" y="167" width="4" height="9"/>
<rect class="cf" x="370" y="167" width="4" height="9"/>
<rect class="cd" x="374" y="167" width="4" height="9"/>
<rect class="cf" x="378" y="167" width="13" height="9"/>
<rect class="cc" x="391" y="167" width="4" height="9"/>
<rect class="cb" x="395" y="167" width="4" height="9"/>
<rect class="cc" x="399" y="167" width="4" height="9"/>
<rect class="ce" x="403" y="167" width="4" height="9"/>
<rect class="ch" x="407" y="167" width="4" height="9"/>
<rect class="c9" x="411" y="167" width="4" height="9"/>
<rect class="cb" x="415" y="167" width="4" height="9"/>
<rect class="ce" x="419" y="167" width="9" height="9"/>
<rect class="cb" x="428" y="167" width="4" height="9"/>
<rect class="cc" x="432" y="167" width="4" height="9"/>
<rect class="cf" x="436" y="167" width="4" height="9"/>
<rect class="cc" x="440" y="167" width="4" height="9"/>
<rect class="ce" x="444" y="167" width="4" height="9"/>
<rect class="ca" x="448" y="167" width="4" height="9"/>
<rect class="c9" x="452" y="167" width="4" height="9"/>
<rect class="cb" x="456" y="167" width="4" height="9"/>
<rect class="cf" x="460" y="167" width="4" height="9"/>
<rect class="cc" x="464" y="167" width="5" height="9"/>
<rect class="cg" x="469" y="167" width="4" height="9"/>
<rect class="ca" x="473" y="167" width="4" height="9"/>
<rect class="c7" x="477" y="167" width="4" height="9"/>
<rect class="cb" x="481" y="167" width="8" height="9"/>
<rect class="c9" x="489" y="167" width="4" height="9"/>
<rect class="cd" x="493" y="167" width="4" height="9"/>
<rect class="ca" x="497" y="167" width="4" height="9"/>
<rect class="ci" x="501" y="167" width="5" height="9"/>
<rect class="ce" x="506" y="167" width="4" height="9"/>
<rect class="cd" x="510" y="167" width="4" height="9"/>
<rect class="cf" x="514" y="167" width="4" height="9"/>
<rect class="ce" x="518" y="167" width="4" height="9"/>
<rect class="cd" x="522" y="167" width="4" height="9"/>
<rect class="ca" x="526" y="167" width="4" height="9"/>
<rect class="cd" x="530" y="167" width="8" height="9"/>
<rect class="ch" x="538" y="167" width="5" height="9"/>
<rect class="cf" x="543" y="167" width="4" height="9"/>
<rect class="cg" x="547" y="167" width="4" height="9"/>
<rect class="ca" x="551" y="167" width="4" height="9"/>
<rect class="cd" x="555" y="167" width="4" height="9"/>
<rect class="cb" x="559" y="167" width="4" height="9"/>
<rect class="cc" x="563" y="167" width="8" height="9"/>
<rect class="cd" x="571" y="167" width="17" height="9"/>
<rect class="c9" x="588" y="167" width="4" height="9"/>
<rect class="cf" x="592" y="167" width="4" height="9"/>
<rect class="c4" x="596" y="167" width="4" height="9"/>
<rect class="cd" x="296" y="176" width="4" height="9"/>
<rect class="ce" x="300" y="176" width="4" height="9"/>
<rect class="cd" x="304" y="176" width="4" height="9"/>
<rect class="cb" x="308" y="176" width="4" height="9"/>
<rect class="c9" x="312" y="176" width="5" height="9"/>
<rect class="cc" x="317" y="176" width="4" height="9"/>
<rect class="ce" x="321" y="176" width="4" height="9"/>
<rect class="cc" x="325" y="176" width="4" height="9"/>
<rect class="cd" x="329" y="176" width="4" height="9"/>
<rect class="ce" x="333" y="176" width="4" height="9"/>
<rect class="cd" x="337" y="176" width="4" height="9"/>
<rect class="cc" x="341" y="176" width="8" height="9"/>
<rect class="ce" x="349" y="176" width="9" height="9"/>
<rect class="cd" x="358" y="176" width="4" height="9"/>
<rect class="cc" x="362" y="176" width="8" height="9"/>
<rect class="ce" x="370" y="176" width="4" height="9"/>
<rect class="cd" x="374" y="176" width="4" height="9"/>
<rect class="cf" x="378" y="176" width="4" height="9"/>
<rect class="cc" x="382" y="176" width="4" height="9"/>
<rect class="cd" x="386" y="176" width="5" height="9"/>
<rect class="ce" x="391" y="176" width="8" height="9"/>
<rect class="cd" x="399" y="176" width="4" height="9"/>
<rect class="ce" x="403" y="176" width="4" height="9"/>
<rect class="cf" x="407" y="176" width="4" height="9"/>
<rect class="ce" x="411" y="176" width="8" height="9"/>
<rect class="cc" x="419" y="176" width="4" height="9"/>
<rect class="cf" x="423" y="176" width="5" height="9"/>
<rect class="cd" x="428" y="176" width="4" height="9"/>
<rect class="cc" x="432" y="176" width="4" height="9"/>
<rect class="ce" x="436" y="176" width="4" height="9"/>
<rect class="cc" x="440" y="176" width="4" height="9"/>
<rect class="cd" x="444" y="176" width="4" height="9"/>
<rect class="cb" x="448" y="176" width="4" height="9"/>
<rect class="ce" x="452" y="176" width="4" height="9"/>
<rect class="cc" x="456" y="176" width="4" height="9"/>
<rect class="ce" x="460" y="176" width="4" height="9"/>
<rect class="cc" x="464" y="176" width="5" height="9"/>
<rect class="cb" x="469" y="176" width="4" height="9"/>
<rect class="cc" x="473" y="176" width="8" height="9"/>
<rect class="cd" x="481" y="176" width="4" height="9"/>
<rect class="cc" x="485" y="176" width="4" height="9"/>
<rect class="ce" x="489" y="176" width="4" height="9"/>
<rect class="cd" x="493" y="176" width="4" height="9"/>
<rect class="ce" x="497" y="176" width="4" height="9"/>
<rect class="cd" x="501" y="176" width="9" height="9"/>
<rect class="ce" x="510" y="176" width="4" height="9"/>
<rect class="cd" x="514" y="176" width="12" height="9"/>
<rect class="cf" x="526" y="176" width="4" height="9"/>
<rect class="cd" x="530" y="176" width="4" height="9"/>
<rect class="ce" x="534" y="176" width="4" height="9"/>
<rect class="cc" x="538" y="176" width="5" height="9"/>
<rect class="cb" x="543" y="176" width="4" height="9"/>
<rect class="cc" x="547" y="176" width="4" height="9"/>
<rect class="cf" x="551" y="176" width="4" height="9"/>
<rect class="cd" x="555" y="176" width="16" height="9"/>
<rect class="ce" x="571" y="176" width="4" height="9"/>
<rect class="cc" x="575" y="176" width="5" height="9"/>
<rect class="cb" x="580" y="176" width="4" height="9"/>
<rect class="cc" x="584" y="176" width="8" height="9"/>
<rect class="ca" x="592" y="176" width="4" height="9"/>
<rect class="cz" x="596" y="176" width="4" height="9"/>
<rect class="cd" x="296" y="185" width="4" height="9"/>
<rect class="cc" x="300" y="185" width="4" height="9"/>
<rect class="cd" x="304" y="185" width="4" height="9"/>
<rect class="c7" x="308" y="185" width="4" height="9"/>
<rect class="cd" x="312" y="185" width="5" height="9"/>
<rect class="c9" x="317" y="185" width="4" height="9"/>
<rect class="cd" x="321" y="185" width="4" height="9"/>
<rect class="cc" x="325" y="185" width="4" height="9"/>
<rect class="cf" x="329" y="185" width="4" height="9"/>
<rect class="cd" x="333" y="185" width="8" height="9"/>
<rect class="cc" x="341" y="185" width="4" height="9"/>
<rect class="cd" x="345" y="185" width="21" height="9"/>
<rect class="ca" x="366" y="185" width="8" height="9"/>
<rect class="cc" x="374" y="185" width="4" height="9"/>
<rect class="ce" x="378" y="185" width="4" height="9"/>
<rect class="ca" x="382" y="185" width="4" height="9"/>
<rect class="ce" x="386" y="185" width="5" height="9"/>
<rect class="cf" x="391" y="185" width="12" height="9"/>
<rect class="cd" x="403" y="185" width="4" height="9"/>
<rect class="ce" x="407" y="185" width="12" height="9"/>
<rect class="cf" x="419" y="185" width="9" height="9"/>
<rect class="cd" x="428" y="185" width="4" height="9"/>
<rect class="ce" x="432" y="185" width="4" height="9"/>
<rect class="cf" x="436" y="185" width="8" height="9"/>
<rect class="cd" x="444" y="185" width="4" height="9"/>
<rect class="cc" x="448" y="185" width="4" height="9"/>
<rect class="cf" x="452" y="185" width="4" height="9"/>
<rect class="cd" x="456" y="185" width="4" height="9"/>
<rect class="ce" x="460" y="185" width="4" height="9"/>
<rect class="cc" x="464" y="185" width="5" height="9"/>
<rect class="cb" x="469" y="185" width="4" height="9"/>
<rect class="ce" x="473" y="185" width="4" height="9"/>
<rect class="cf" x="477" y="185" width="4" height="9"/>
<rect class="cc" x="481" y="185" width="4" height="9"/>
<rect class="cd" x="485" y="185" width="4" height="9"/>
<rect class="cb" x="489" y="185" width="4" height="9"/>
<rect class="ce" x="493" y="185" width="8" height="9"/>
<rect class="cd" x="501" y="185" width="5" height="9"/>
<rect class="ce" x="506" y="185" width="8" height="9"/>
<rect class="ca" x="514" y="185" width="4" height="9"/>
<rect class="ce" x="518" y="185" width="8" height="9"/>
<rect class="cd" x="526" y="185" width="4" height="9"/>
<rect class="cc" x="530" y="185" width="4" height="9"/>
<rect class="cf" x="534" y="185" width="4" height="9"/>
<rect class="cc" x="538" y="185" width="13" height="9"/>
<rect class="cb" x="551" y="185" width="4" height="9"/>
<rect class="cd" x="555" y="185" width="8" height="9"/>
<rect class="cc" x="563" y="185" width="4" height="9"/>
<rect class="cb" x="567" y="185" width="4" height="9"/>
<rect class="cd" x="571" y="185" width="9" height="9"/>
<rect class="cf" x="580" y="185" width="4" height="9"/>
<rect class="ca" x="584" y="185" width="4" height="9"/>
<rect class="cd" x="588" y="185" width="8" height="9"/>
<rect class="cz" x="596" y="185" width="4" height="9"/>
<rect class="ca" x="296" y="194" width="4" height="9"/>
<rect class="c9" x="300" y="194" width="4" height="9"/>
<rect class="ca" x="304" y="194" width="4" height="9"/>
<rect class="c8" x="308" y="194" width="4" height="9"/>
<rect class="c6" x="312" y="194" width="5" height="9"/>
<rect class="cc" x="317" y="194" width="4" height="9"/>
<rect class="ce" x="321" y="194" width="4" height="9"/>
<rect class="cd" x="325" y="194" width="4" height="9"/>
<rect class="ce" x="329" y="194" width="33" height="9"/>
<rect class="cd" x="362" y="194" width="4" height="9"/>
<rect class="cc" x="366" y="194" width="4" height="9"/>
<rect class="ce" x="370" y="194" width="8" height="9"/>
<rect class="cd" x="378" y="194" width="4" height="9"/>
<rect class="cf" x="382" y="194" width="4" height="9"/>
<rect class="ce" x="386" y="194" width="5" height="9"/>
<rect class="cd" x="391" y="194" width="8" height="9"/>
<rect class="ce" x="399" y="194" width="12" height="9"/>
<rect class="cc" x="411" y="194" width="12" height="9"/>
<rect class="cd" x="423" y="194" width="9" height="9"/>
<rect class="cc" x="432" y="194" width="12" height="9"/>
<rect class="cd" x="444" y="194" width="4" height="9"/>
<rect class="c8" x="448" y="194" width="4" height="9"/>
<rect class="cc" x="452" y="194" width="4" height="9"/>
<rect class="cd" x="456" y="194" width="4" height="9"/>
<rect class="cc" x="460" y="194" width="4" height="9"/>
<rect class="cf" x="464" y="194" width="9" height="9"/>
<rect class="cd" x="473" y="194" width="4" height="9"/>
<rect class="cc" x="477" y="194" width="4" height="9"/>
<rect class="ce" x="481" y="194" width="37" height="9"/>
<rect class="cd" x="518" y="194" width="12" height="9"/>
<rect class="ce" x="530" y="194" width="8" height="9"/>
<rect class="cc" x="538" y="194" width="5" height="9"/>
<rect class="cb" x="543" y="194" width="4" height="9"/>
<rect class="ce" x="547" y="194" width="4" height="9"/>
<rect class="cd" x="551" y="194" width="4" height="9"/>
<rect class="ce" x="555" y="194" width="4" height="9"/>
<rect class="cd" x="559" y="194" width="4" height="9"/>
<rect class="ce" x="563" y="194" width="4" height="9"/>
<rect class="cd" x="567" y="194" width="4" height="9"/>
<rect class="ce" x="571" y="194" width="4" height="9"/>
<rect class="cc" x="575" y="194" width="5" height="9"/>
<rect class="cd" x="580" y="194" width="12" height="9"/>
<rect class="cc" x="592" y="194" width="4" height="9"/>
<rect class="c1" x="596" y="194" width="4" height="9"/>
<rect class="c8" x="296" y="203" width="16" height="9"/>
<rect class="c5" x="312" y="203" width="5" height="9"/>
<rect class="c8" x="317" y="203" width="4" height="9"/>
<rect class="cd" x="321" y="203" width="4" height="9"/>
<rect class="cc" x="325" y="203" width="4" height="9"/>
<rect class="ce" x="329" y="203" width="4" height="9"/>
<rect class="cf" x="333" y="203" width="4" height="9"/>
<rect class="ce" x="337" y="203" width="4" height="9"/>
<rect class="cd" x="341" y="203" width="4" height="9"/>
<rect class="ce" x="345" y="203" width="4" height="9"/>
<rect class="cd" x="349" y="203" width="5" height="9"/>
<rect class="ce" x="354" y="203" width="4" height="9"/>
<rect class="cf" x="358" y="203" width="4" height="9"/>
<rect class="cd" x="362" y="203" width="4" height="9"/>
<rect class="cg" x="366" y="203" width="4" height="9"/>
<rect class="cd" x="370" y="203" width="12" height="9"/>
<rect class="ce" x="382" y="203" width="4" height="9"/>
<rect class="cf" x="386" y="203" width="5" height="9"/>
<rect class="ce" x="391" y="203" width="4" height="9"/>
<rect class="cd" x="395" y="203" width="4" height="9"/>
<rect class="cb" x="399" y="203" width="8" height="9"/>
<rect class="cc" x="407" y="203" width="8" height="9"/>
<rect class="cd" x="415" y="203" width="8" height="9"/>
<rect class="ce" x="423" y="203" width="5" height="9"/>
<rect class="cc" x="428" y="203" width="4" height="9"/>
<rect class="cd" x="432" y="203" width="4" height="9"/>
<rect class="ca" x="436" y="203" width="4" height="9"/>
<rect class="cd" x="440" y="203" width="8" height="9"/>
<rect class="c7" x="448" y="203" width="4" height="9"/>
<rect class="ce" x="452" y="203" width="4" height="9"/>
<rect class="cc" x="456" y="203" width="4" height="9"/>
<rect class="cb" x="460" y="203" width="4" height="9"/>
<rect class="cd" x="464" y="203" width="5" height="9"/>
<rect class="cg" x="469" y="203" width="4" height="9"/>
<rect class="cd" x="473" y="203" width="4" height="9"/>
<rect class="cb" x="477" y="203" width="4" height="9"/>
<rect class="cc" x="481" y="203" width="4" height="9"/>
<rect class="ce" x="485" y="203" width="8" height="9"/>
<rect class="cg" x="493" y="203" width="4" height="9"/>
<rect class="ch" x="497" y="203" width="4" height="9"/>
<rect class="ce" x="501" y="203" width="9" height="9"/>
<rect class="cg" x="510" y="203" width="4" height="9"/>
<rect class="cf" x="514" y="203" width="8" height="9"/>
<rect class="ce" x="522" y="203" width="4" height="9"/>
<rect class="cf" x="526" y="203" width="8" height="9"/>
<rect class="cb" x="534" y="203" width="13" height="9"/>
<rect class="ce" x="547" y="203" width="8" height="9"/>
<rect class="cd" x="555" y="203" width="4" height="9"/>
<rect class="ce" x="559" y="203" width="8" height="9"/>
<rect class="ca" x="567" y="203" width="4" height="9"/>
<rect class="cf" x="571" y="203" width="4" height="9"/>
<rect class="cc" x="575" y="203" width="13" height="9"/>
<rect class="cd" x="588" y="203" width="8" height="9"/>
<rect class="c5" x="596" y="203" width="4" height="9"/>
<rect class="cc" x="296" y="212" width="4" height="9"/>
<rect class="c9" x="300" y="212" width="4" height="9"/>
<rect class="cc" x="304" y="212" width="4" height="9"/>
<rect class="c8" x="308" y="212" width="9" height="9"/>
<rect class="c9" x="317" y="212" width="4" height="9"/>
<rect class="cf" x="321" y="212" width="4" height="9"/>
<rect class="cc" x="325" y="212" width="4" height="9"/>
<rect class="cb" x="329" y="212" width="4" height="9"/>
<rect class="cg" x="333" y="212" width="4" height="9"/>
<rect class="cc" x="337" y="212" width="4" height="9"/>
<rect class="cb" x="341" y="212" width="8" height="9"/>
<rect class="ce" x="349" y="212" width="5" height="9"/>
<rect class="cd" x="354" y="212" width="4" height="9"/>
<rect class="ce" x="358" y="212" width="4" height="9"/>
<rect class="c9" x="362" y="212" width="4" height="9"/>
<rect class="cg" x="366" y="212" width="4" height="9"/>
<rect class="ce" x="370" y="212" width="4" height="9"/>
<rect class="cg" x="374" y="212" width="4" height="9"/>
<rect class="cc" x="378" y="212" width="4" height="9"/>
<rect class="cf" x="382" y="212" width="4" height="9"/>
<rect class="ce" x="386" y="212" width="5" height="9"/>
<rect class="cf" x="391" y="212" width="4" height="9"/>
<rect class="ca" x="395" y="212" width="4" height="9"/>
<rect class="cg" x="399" y="212" width="4" height="9"/>
<rect class="ce" x="403" y="212" width="4" height="9"/>
<rect class="ch" x="407" y="212" width="4" height="9"/>
<rect class="cf" x="411" y="212" width="4" height="9"/>
<rect class="ce" x="415" y="212" width="13" height="9"/>
<rect class="cf" x="428" y="212" width="4" height="9"/>
<rect class="cb" x="432" y="212" width="4" height="9"/>
<rect class="cd" x="436" y="212" width="4" height="9"/>
<rect class="cb" x="440" y="212" width="4" height="9"/>
<rect class="cf" x="444" y="212" width="4" height="9"/>
<rect class="c8" x="448" y="212" width="4" height="9"/>
<rect class="cb" x="452" y="212" width="4" height="9"/>
<rect class="cc" x="456" y="212" width="4" height="9"/>
<rect class="cd" x="460" y="212" width="4" height="9"/>
<rect class="cf" x="464" y="212" width="5" height="9"/>
<rect class="cb" x="469" y="212" width="4" height="9"/>
<rect class="ce" x="473" y="212" width="4" height="9"/>
<rect class="c9" x="477" y="212" width="4" height="9"/>
<rect class="cd" x="481" y="212" width="12" height="9"/>
<rect class="cg" x="493" y="212" width="4" height="9"/>
<rect class="cc" x="497" y="212" width="4" height="9"/>
<rect class="ce" x="501" y="212" width="5" height="9"/>
<rect class="cb" x="506" y="212" width="4" height="9"/>
<rect class="cf" x="510" y="212" width="4" height="9"/>
<rect class="cc" x="514" y="212" width="4" height="9"/>
<rect class="cf" x="518" y="212" width="4" height="9"/>
<rect class="ce" x="522" y="212" width="4" height="9"/>
<rect class="c9" x="526" y="212" width="4" height="9"/>
<rect class="cf" x="530" y="212" width="4" height="9"/>
<rect class="ce" x="534" y="212" width="4" height="9"/>
<rect class="ch" x="538" y="212" width="5" height="9"/>
<rect class="cb" x="543" y="212" width="4" height="9"/>
<rect class="ce" x="547" y="212" width="4" height="9"/>
<rect class="cf" x="551" y="212" width="8" height="9"/>
<rect class="cc" x="559" y="212" width="12" height="9"/>
<rect class="ch" x="571" y="212" width="4" height="9"/>
<rect class="c9" x="575" y="212" width="5" height="9"/>
<rect class="ca" x="580" y="212" width="4" height="9"/>
<rect class="c9" x="584" y="212" width="8" height="9"/>
<rect class="c8" x="592" y="212" width="4" height="9"/>
<rect class="c5" x="596" y="212" width="4" height="9"/>
<rect class="cd" x="296" y="221" width="8" height="9"/>
<rect class="cb" x="304" y="221" width="4" height="9"/>
<rect class="cc" x="308" y="221" width="4" height="9"/>
<rect class="c7" x="312" y="221" width="5" height="9"/>
<rect class="c9" x="317" y="221" width="4" height="9"/>
<rect class="cf" x="321" y="221" width="4" height="9"/>
<rect class="cd" x="325" y="221" width="4" height="9"/>
<rect class="ce" x="329" y="221" width="8" height="9"/>
<rect class="cf" x="337" y="221" width="4" height="9"/>
<rect class="ce" x="341" y="221" width="13" height="9"/>
<rect class="cf" x="354" y="221" width="4" height="9"/>
<rect class="ce" x="358" y="221" width="4" height="9"/>
<rect class="cd" x="362" y="221" width="4" height="9"/>
<rect class="ce" x="366" y="221" width="8" height="9"/>
<rect class="cf" x="374" y="221" width="4" height="9"/>
<rect class="cd" x="378" y="221" width="4" height="9"/>
<rect class="ce" x="382" y="221" width="4" height="9"/>
<rect class="cd" x="386" y="221" width="5" height="9"/>
<rect class="cc" x="391" y="221" width="4" height="9"/>
<rect class="cd" x="395" y="221" width="4" height="9"/>
<rect class="cc" x="399" y="221" width="4" height="9"/>
<rect class="ce" x="403" y="221" width="8" height="9"/>
<rect class="cd" x="411" y="221" width="4" height="9"/>
<rect class="cc" x="415" y="221" width="4" height="9"/>
<rect class="cd" x="419" y="221" width="4" height="9"/>
<rect class="ca" x="423" y="221" width="5" height="9"/>
<rect class="cc" x="428" y="221" width="16" height="9"/>
<rect class="ce" x="444" y="221" width="4" height="9"/>
<rect class="cb" x="448" y="221" width="4" height="9"/>
<rect class="cd" x="452" y="221" width="4" height="9"/>
<rect class="cc" x="456" y="221" width="8" height="9"/>
<rect class="cf" x="464" y="221" width="5" height="9"/>
<rect class="cg" x="469" y="221" width="4" height="9"/>
<rect class="cd" x="473" y="221" width="8" height="9"/>
<rect class="ce" x="481" y="221" width="4" height="9"/>
<rect class="cd" x="485" y="221" width="16" height="9"/>
<rect class="ce" x="501" y="221" width="5" height="9"/>
<rect class="cc" x="506" y="221" width="4" height="9"/>
<rect class="cd" x="510" y="221" width="4" height="9"/>
<rect class="cc" x="514" y="221" width="4" height="9"/>
<rect class="ce" x="518" y="221" width="4" height="9"/>
<rect class="cf" x="522" y="221" width="8" height="9"/>
<rect class="ce" x="530" y="221" width="8" height="9"/>
<rect class="cb" x="538" y="221" width="5" height="9"/>
<rect class="c9" x="543" y="221" width="4" height="9"/>
<rect class="ce" x="547" y="221" width="16" height="9"/>
<rect class="cf" x="563" y="221" width="4" height="9"/>
<rect class="ce" x="567" y="221" width="8" height="9"/>
<rect class="cb" x="575" y="221" width="9" height="9"/>
<rect class="ca" x="584" y="221" width="4" height="9"/>
<rect class="cc" x="588" y="221" width="8" height="9"/>
<rect class="c1" x="596" y="221" width="4" height="9"/>
<rect class="ce" x="296" y="230" width="12" height="9"/>
<rect class="cd" x="308" y="230" width="4" height="9"/>
<rect class="c8" x="312" y="230" width="9" height="9"/>
<rect class="cf" x="321" y="230" width="4" height="9"/>
<rect class="cb" x="325" y="230" width="4" height="9"/>
<rect class="cd" x="329" y="230" width="4" height="9"/>
<rect class="ce" x="333" y="230" width="8" height="9"/>
<rect class="cb" x="341" y="230" width="8" height="9"/>
<rect class="ce" x="349" y="230" width="5" height="9"/>
<rect class="cf" x="354" y="230" width="4" height="9"/>
<rect class="cd" x="358" y="230" width="4" height="9"/>
<rect class="cb" x="362" y="230" width="4" height="9"/>
<rect class="ce" x="366" y="230" width="4" height="9"/>
<rect class="cd" x="370" y="230" width="4" height="9"/>
<rect class="cb" x="374" y="230" width="4" height="9"/>
<rect class="cd" x="378" y="230" width="4" height="9"/>
<rect class="ce" x="382" y="230" width="13" height="9"/>
<rect class="cc" x="395" y="230" width="8" height="9"/>
<rect class="cf" x="403" y="230" width="8" height="9"/>
<rect class="cd" x="411" y="230" width="4" height="9"/>
<rect class="cf" x="415" y="230" width="4" height="9"/>
<rect class="cd" x="419" y="230" width="4" height="9"/>
<rect class="cg" x="423" y="230" width="5" height="9"/>
<rect class="ca" x="428" y="230" width="4" height="9"/>
<rect class="cc" x="432" y="230" width="4" height="9"/>
<rect class="cd" x="436" y="230" width="8" height="9"/>
<rect class="ce" x="444" y="230" width="4" height="9"/>
<rect class="c9" x="448" y="230" width="4" height="9"/>
<rect class="cd" x="452" y="230" width="4" height="9"/>
<rect class="cb" x="456" y="230" width="4" height="9"/>
<rect class="cc" x="460" y="230" width="9" height="9"/>
<rect class="ce" x="469" y="230" width="4" height="9"/>
<rect class="cf" x="473" y="230" width="4" height="9"/>
<rect class="cc" x="477" y="230" width="4" height="9"/>
<rect class="cf" x="481" y="230" width="4" height="9"/>
<rect class="cb" x="485" y="230" width="8" height="9"/>
<rect class="cf" x="493" y="230" width="4" height="9"/>
<rect class="cd" x="497" y="230" width="4" height="9"/>
<rect class="cg" x="501" y="230" width="5" height="9"/>
<rect class="cc" x="506" y="230" width="4" height="9"/>
<rect class="ce" x="510" y="230" width="4" height="9"/>
<rect class="cc" x="514" y="230" width="4" height="9"/>
<rect class="cf" x="518" y="230" width="16" height="9"/>
<rect class="cg" x="534" y="230" width="4" height="9"/>
<rect class="cc" x="538" y="230" width="5" height="9"/>
<rect class="c9" x="543" y="230" width="4" height="9"/>
<rect class="ce" x="547" y="230" width="12" height="9"/>
<rect class="cc" x="559" y="230" width="4" height="9"/>
<rect class="cd" x="563" y="230" width="4" height="9"/>
<rect class="cb" x="567" y="230" width="4" height="9"/>
<rect class="ce" x="571" y="230" width="4" height="9"/>
<rect class="c9" x="575" y="230" width="5" height="9"/>
<rect class="cc" x="580" y="230" width="4" height="9"/>
<rect class="cd" x="584" y="230" width="8" height="9"/>
<rect class="cb" x="592" y="230" width="4" height="9"/>
<rect class="c1" x="596" y="230" width="4" height="9"/>
<rect class="cd" x="296" y="239" width="8" height="9"/>
<rect class="ce" x="304" y="239" width="4" height="9"/>
<rect class="cc" x="308" y="239" width="4" height="9"/>
<rect class="c7" x="312" y="239" width="5" height="9"/>
<rect class="ca" x="317" y="239" width="4" height="9"/>
<rect class="cb" x="321" y="239" width="4" height="9"/>
<rect class="cg" x="325" y="239" width="4" height="9"/>
<rect class="cd" x="329" y="239" width="8" height="9"/>
<rect class="cf" x="337" y="239" width="4" height="9"/>
<rect class="cd" x="341" y="239" width="4" height="9"/>
<rect class="cc" x="345" y="239" width="4" height="9"/>
<rect class="cd" x="349" y="239" width="5" height="9"/>
<rect class="ca" x="354" y="239" width="4" height="9"/>
<rect class="cd" x="358" y="239" width="4" height="9"/>
<rect class="cb" x="362" y="239" width="4" height="9"/>
<rect class="ce" x="366" y="239" width="4" height="9"/>
<rect class="cg" x="370" y="239" width="4" height="9"/>
<rect class="ce" x="374" y="239" width="4" height="9"/>
<rect class="cd" x="378" y="239" width="8" height="9"/>
<rect class="cf" x="386" y="239" width="5" height="9"/>
<rect class="ce" x="391" y="239" width="4" height="9"/>
<rect class="ca" x="395" y="239" width="8" height="9"/>
<rect class="cg" x="403" y="239" width="4" height="9"/>
<rect class="ce" x="407" y="239" width="16" height="9"/>
<rect class="cg" x="423" y="239" width="5" height="9"/>
<rect class="c8" x="428" y="239" width="4" height="9"/>
<rect class="cd" x="432" y="239" width="8" height="9"/>
<rect class="cc" x="440" y="239" width="4" height="9"/>
<rect class="ce" x="444" y="239" width="4" height="9"/>
<rect class="c9" x="448" y="239" width="4" height="9"/>
<rect class="cc" x="452" y="239" width="8" height="9"/>
<rect class="cd" x="460" y="239" width="9" height="9"/>
<rect class="ce" x="469" y="239" width="4" height="9"/>
<rect class="cc" x="473" y="239" width="4" height="9"/>
<rect class="c9" x="477" y="239" width="4" height="9"/>
<rect class="ch" x="481" y="239" width="4" height="9"/>
<rect class="cc" x="485" y="239" width="4" height="9"/>
<rect class="ca" x="489" y="239" width="4" height="9"/>
<rect class="cf" x="493" y="239" width="4" height="9"/>
<rect class="cg" x="497" y="239" width="9" height="9"/>
<rect class="cb" x="506" y="239" width="4" height="9"/>
<rect class="ce" x="510" y="239" width="4" height="9"/>
<rect class="ca" x="514" y="239" width="4" height="9"/>
<rect class="ch" x="518" y="239" width="4" height="9"/>
<rect class="ce" x="522" y="239" width="8" height="9"/>
<rect class="ch" x="530" y="239" width="4" height="9"/>
<rect class="cf" x="534" y="239" width="13" height="9"/>
<rect class="cc" x="547" y="239" width="4" height="9"/>
<rect class="ce" x="551" y="239" width="4" height="9"/>
<rect class="cd" x="555" y="239" width="4" height="9"/>
<rect class="cb" x="559" y="239" width="4" height="9"/>
<rect class="cd" x="563" y="239" width="4" height="9"/>
<rect class="c9" x="567" y="239" width="4" height="9"/>
<rect class="ch" x="571" y="239" width="4" height="9"/>
<rect class="c8" x="575" y="239" width="5" height="9"/>
<rect class="cd" x="580" y="239" width="4" height="9"/>
<rect class="c8" x="584" y="239" width="8" height="9"/>
<rect class="c9" x="592" y="239" width="4" height="9"/>
<rect class="c5" x="596" y="239" width="4" height="9"/>
<rect class="ce" x="296" y="248" width="16" height="9"/>
<rect class="ca" x="312" y="248" width="5" height="9"/>
<rect class="c9" x="317" y="248" width="4" height="9"/>
<rect class="ce" x="321" y="248" width="4" height="9"/>
<rect class="ca" x="325" y="248" width="4" height="9"/>
<rect class="ce" x="329" y="248" width="4" height="9"/>
<rect class="cd" x="333" y="248" width="16" height="9"/>
<rect class="ce" x="349" y="248" width="9" height="9"/>
<rect class="cc" x="358" y="248" width="8" height="9"/>
<rect class="cd" x="366" y="248" width="4" height="9"/>
<rect class="cc" x="370" y="248" width="4" height="9"/>
<rect class="ca" x="374" y="248" width="4" height="9"/>
<rect class="cc" x="378" y="248" width="8" height="9"/>
<rect class="ce" x="386" y="248" width="13" height="9"/>
<rect class="cd" x="399" y="248" width="4" height="9"/>
<rect class="cf" x="403" y="248" width="16" height="9"/>
<rect class="cd" x="419" y="248" width="4" height="9"/>
<rect class="cg" x="423" y="248" width="5" height="9"/>
<rect class="ca" x="428" y="248" width="4" height="9"/>
<rect class="cb" x="432" y="248" width="4" height="9"/>
<rect class="cd" x="436" y="248" width="4" height="9"/>
<rect class="ce" x="440" y="248" width="4" height="9"/>
<rect class="cd" x="444" y="248" width="4" height="9"/>
<rect class="ca" x="448" y="248" width="4" height="9"/>
<rect class="cf" x="452" y="248" width="4" height="9"/>
<rect class="ca" x="456" y="248" width="4" height="9"/>
<rect class="cb" x="460" y="248" width="9" height="9"/>
<rect class="cd" x="469" y="248" width="4" height="9"/>
<rect class="cf" x="473" y="248" width="4" height="9"/>
<rect class="cd" x="477" y="248" width="4" height="9"/>
<rect class="cg" x="481" y="248" width="4" height="9"/>
<rect class="cb" x="485" y="248" width="4" height="9"/>
<rect class="cd" x="489" y="248" width="4" height="9"/>
<rect class="ce" x="493" y="248" width="13" height="9"/>
<rect class="cd" x="506" y="248" width="4" height="9"/>
<rect class="ce" x="510" y="248" width="4" height="9"/>
<rect class="cd" x="514" y="248" width="4" height="9"/>
<rect class="cf" x="518" y="248" width="4" height="9"/>
<rect class="ce" x="522" y="248" width="4" height="9"/>
<rect class="cf" x="526" y="248" width="8" height="9"/>
<rect class="cg" x="534" y="248" width="4" height="9"/>
<rect class="cc" x="538" y="248" width="5" height="9"/>
<rect class="c8" x="543" y="248" width="4" height="9"/>
<rect class="ce" x="547" y="248" width="4" height="9"/>
<rect class="cd" x="551" y="248" width="4" height="9"/>
<rect class="cf" x="555" y="248" width="4" height="9"/>
<rect class="cd" x="559" y="248" width="4" height="9"/>
<rect class="ce" x="563" y="248" width="4" height="9"/>
<rect class="cb" x="567" y="248" width="4" height="9"/>
<rect class="ce" x="571" y="248" width="4" height="9"/>
<rect class="cb" x="575" y="248" width="5" height="9"/>
<rect class="cc" x="580" y="248" width="12" height="9"/>
<rect class="cd" x="592" y="248" width="4" height="9"/>
<rect class="c1" x="596" y="248" width="4" height="9"/>
<rect class="cg" x="296" y="257" width="4" height="8"/>
<rect class="ch" x="300" y="257" width="4" height="8"/>
<rect class="cg" x="304" y="257" width="8" height="8"/>
<rect class="c7" x="312" y="257" width="5" height="8"/>
<rect class="c5" x="317" y="257" width="4" height="8"/>
<rect class="cd" x="321" y="257" width="4" height="8"/>
<rect class="cb" x="325" y="257" width="4" height="8"/>
<rect class="cc" x="329" y="257" width="4" height="8"/>
<rect class="cb" x="333" y="257" width="4" height="8"/>
<rect class="ce" x="337" y="257" width="4" height="8"/>
<rect class="cc" x="341" y="257" width="4" height="8"/>
<rect class="ce" x="345" y="257" width="4" height="8"/>
<rect class="cd" x="349" y="257" width="5" height="8"/>
<rect class="cg" x="354" y="257" width="4" height="8"/>
<rect class="cd" x="358" y="257" width="4" height="8"/>
<rect class="ce" x="362" y="257" width="4" height="8"/>
<rect class="cf" x="366" y="257" width="4" height="8"/>
<rect class="cd" x="370" y="257" width="4" height="8"/>
<rect class="cc" x="374" y="257" width="4" height="8"/>
<rect class="cd" x="378" y="257" width="8" height="8"/>
<rect class="ce" x="386" y="257" width="9" height="8"/>
<rect class="cd" x="395" y="257" width="4" height="8"/>
<rect class="cc" x="399" y="257" width="4" height="8"/>
<rect class="ce" x="403" y="257" width="4" height="8"/>
<rect class="cf" x="407" y="257" width="4" height="8"/>
<rect class="ce" x="411" y="257" width="4" height="8"/>
<rect class="cf" x="415" y="257" width="4" height="8"/>
<rect class="ce" x="419" y="257" width="4" height="8"/>
<rect class="cf" x="423" y="257" width="5" height="8"/>
<rect class="cc" x="428" y="257" width="16" height="8"/>
<rect class="ce" x="444" y="257" width="4" height="8"/>
<rect class="cb" x="448" y="257" width="4" height="8"/>
<rect class="cd" x="452" y="257" width="4" height="8"/>
<rect class="c9" x="456" y="257" width="4" height="8"/>
<rect class="cc" x="460" y="257" width="4" height="8"/>
<rect class="cd" x="464" y="257" width="5" height="8"/>
<rect class="cf" x="469" y="257" width="4" height="8"/>
<rect class="cc" x="473" y="257" width="4" height="8"/>
<rect class="cb" x="477" y="257" width="4" height="8"/>
<rect class="ce" x="481" y="257" width="8" height="8"/>
<rect class="cd" x="489" y="257" width="4" height="8"/>
<rect class="cf" x="493" y="257" width="4" height="8"/>
<rect class="ca" x="497" y="257" width="4" height="8"/>
<rect class="cd" x="501" y="257" width="9" height="8"/>
<rect class="cc" x="510" y="257" width="8" height="8"/>
<rect class="cd" x="518" y="257" width="4" height="8"/>
<rect class="cf" x="522" y="257" width="4" height="8"/>
<rect class="cc" x="526" y="257" width="4" height="8"/>
<rect class="cd" x="530" y="257" width="13" height="8"/>
<rect class="cc" x="543" y="257" width="4" height="8"/>
<rect class="cf" x="547" y="257" width="4" height="8"/>
<rect class="cc" x="551" y="257" width="4" height="8"/>
<rect class="cb" x="555" y="257" width="4" height="8"/>
<rect class="cc" x="559" y="257" width="4" height="8"/>
<rect class="cd" x="563" y="257" width="4" height="8"/>
<rect class="cb" x="567" y="257" width="4" height="8"/>
<rect class="ce" x="571" y="257" width="4" height="8"/>
<rect class="cb" x="575" y="257" width="21" height="8"/>
<rect class="c2" x="596" y="257" width="4" height="8"/>
<rect class="cb" x="296" y="265" width="4" height="9"/>
<rect class="cc" x="300" y="265" width="12" height="9"/>
<rect class="c7" x="312" y="265" width="5" height="9"/>
<rect class="ce" x="317" y="265" width="4" height="9"/>
<rect class="cf" x="321" y="265" width="4" height="9"/>
<rect class="c8" x="325" y="265" width="4" height="9"/>
<rect class="ce" x="329" y="265" width="4" height="9"/>
<rect class="cf" x="333" y="265" width="8" height="9"/>
<rect class="cc" x="341" y="265" width="4" height="9"/>
<rect class="ce" x="345" y="265" width="13" height="9"/>
<rect class="cf" x="358" y="265" width="4" height="9"/>
<rect class="cd" x="362" y="265" width="4" height="9"/>
<rect class="cf" x="366" y="265" width="8" height="9"/>
<rect class="cd" x="374" y="265" width="4" height="9"/>
<rect class="cf" x="378" y="265" width="8" height="9"/>
<rect class="cd" x="386" y="265" width="5" height="9"/>
<rect class="ce" x="391" y="265" width="4" height="9"/>
<rect class="cc" x="395" y="265" width="8" height="9"/>
<rect class="cd" x="403" y="265" width="8" height="9"/>
<rect class="cc" x="411" y="265" width="8" height="9"/>
<rect class="cd" x="419" y="265" width="4" height="9"/>
<rect class="c9" x="423" y="265" width="5" height="9"/>
<rect class="cd" x="428" y="265" width="4" height="9"/>
<rect class="c9" x="432" y="265" width="12" height="9"/>
<rect class="cf" x="444" y="265" width="4" height="9"/>
<rect class="c8" x="448" y="265" width="4" height="9"/>
<rect class="cc" x="452" y="265" width="8" height="9"/>
<rect class="cd" x="460" y="265" width="4" height="9"/>
<rect class="cf" x="464" y="265" width="9" height="9"/>
<rect class="ce" x="473" y="265" width="4" height="9"/>
<rect class="c9" x="477" y="265" width="4" height="9"/>
<rect class="cc" x="481" y="265" width="4" height="9"/>
<rect class="ce" x="485" y="265" width="8" height="9"/>
<rect class="cc" x="493" y="265" width="4" height="9"/>
<rect class="cd" x="497" y="265" width="4" height="9"/>
<rect class="ce" x="501" y="265" width="13" height="9"/>
<rect class="cf" x="514" y="265" width="4" height="9"/>
<rect class="cd" x="518" y="265" width="4" height="9"/>
<rect class="cf" x="522" y="265" width="4" height="9"/>
<rect class="cc" x="526" y="265" width="4" height="9"/>
<rect class="cf" x="530" y="265" width="4" height="9"/>
<rect class="ca" x="534" y="265" width="4" height="9"/>
<rect class="cd" x="538" y="265" width="9" height="9"/>
<rect class="cf" x="547" y="265" width="4" height="9"/>
<rect class="ce" x="551" y="265" width="4" height="9"/>
<rect class="cg" x="555" y="265" width="4" height="9"/>
<rect class="cd" x="559" y="265" width="4" height="9"/>
<rect class="cg" x="563" y="265" width="4" height="9"/>
<rect class="cc" x="567" y="265" width="4" height="9"/>
<rect class="cg" x="571" y="265" width="4" height="9"/>
<rect class="cb" x="575" y="265" width="5" height="9"/>
<rect class="ca" x="580" y="265" width="4" height="9"/>
<rect class="c8" x="584" y="265" width="4" height="9"/>
<rect class="c9" x="588" y="265" width="4" height="9"/>
<rect class="cc" x="592" y="265" width="4" height="9"/>
<rect class="c3" x="596" y="265" width="4" height="9"/>
<rect class="cb" x="296" y="274" width="8" height="9"/>
<rect class="c9" x="304" y="274" width="4" height="9"/>
<rect class="c8" x="308" y="274" width="9" height="9"/>
<rect class="cc" x="317" y="274" width="8" height="9"/>
<rect class="cd" x="325" y="274" width="4" height="9"/>
<rect class="cf" x="329" y="274" width="4" height="9"/>
<rect class="cd" x="333" y="274" width="4" height="9"/>
<rect class="ce" x="337" y="274" width="8" height="9"/>
<rect class="cf" x="345" y="274" width="9" height="9"/>
<rect class="cd" x="354" y="274" width="8" height="9"/>
<rect class="ce" x="362" y="274" width="8" height="9"/>
<rect class="cf" x="370" y="274" width="4" height="9"/>
<rect class="cc" x="374" y="274" width="4" height="9"/>
<rect class="cf" x="378" y="274" width="4" height="9"/>
<rect class="cc" x="382" y="274" width="4" height="9"/>
<rect class="ce" x="386" y="274" width="5" height="9"/>
<rect class="cf" x="391" y="274" width="4" height="9"/>
<rect class="cc" x="395" y="274" width="8" height="9"/>
<rect class="ca" x="403" y="274" width="4" height="9"/>
<rect class="ce" x="407" y="274" width="4" height="9"/>
<rect class="cc" x="411" y="274" width="4" height="9"/>
<rect class="cf" x="415" y="274" width="4" height="9"/>
<rect class="cd" x="419" y="274" width="4" height="9"/>
<rect class="cb" x="423" y="274" width="5" height="9"/>
<rect class="cd" x="428" y="274" width="8" height="9"/>
<rect class="c8" x="436" y="274" width="4" height="9"/>
<rect class="cc" x="440" y="274" width="4" height="9"/>
<rect class="cd" x="444" y="274" width="4" height="9"/>
<rect class="c9" x="448" y="274" width="4" height="9"/>
<rect class="ce" x="452" y="274" width="4" height="9"/>
<rect class="cc" x="456" y="274" width="4" height="9"/>
<rect class="ce" x="460" y="274" width="4" height="9"/>
<rect class="cc" x="464" y="274" width="5" height="9"/>
<rect class="cg" x="469" y="274" width="4" height="9"/>
<rect class="cd" x="473" y="274" width="4" height="9"/>
<rect class="c9" x="477" y="274" width="4" height="9"/>
<rect class="cd" x="481" y="274" width="8" height="9"/>
<rect class="cg" x="489" y="274" width="4" height="9"/>
<rect class="cd" x="493" y="274" width="4" height="9"/>
<rect class="cc" x="497" y="274" width="4" height="9"/>
<rect class="ce" x="501" y="274" width="13" height="9"/>
<rect class="ch" x="514" y="274" width="4" height="9"/>
<rect class="cc" x="518" y="274" width="4" height="9"/>
<rect class="cf" x="522" y="274" width="4" height="9"/>
<rect class="ck" x="526" y="274" width="4" height="9"/>
<rect class="ce" x="530" y="274" width="4" height="9"/>
<rect class="cd" x="534" y="274" width="9" height="9"/>
<rect class="cb" x="543" y="274" width="4" height="9"/>
<rect class="cg" x="547" y="274" width="4" height="9"/>
<rect class="cc" x="551" y="274" width="4" height="9"/>
<rect class="cd" x="555" y="274" width="8" height="9"/>
<rect class="cc" x="563" y="274" width="8" height="9"/>
<rect class="ce" x="571" y="274" width="4" height="9"/>
<rect class="cb" x="575" y="274" width="5" height="9"/>
<rect class="c8" x="580" y="274" width="4" height="9"/>
<rect class="c9" x="584" y="274" width="4" height="9"/>
<rect class="cb" x="588" y="274" width="4" height="9"/>
<rect class="ca" x="592" y="274" width="4" height="9"/>
<rect class="c3" x="596" y="274" width="4" height="9"/>
<rect class="cd" x="296" y="283" width="4" height="9"/>
<rect class="cf" x="300" y="283" width="4" height="9"/>
<rect class="ce" x="304" y="283" width="4" height="9"/>
<rect class="cf" x="308" y="283" width="4" height="9"/>
<rect class="c8" x="312" y="283" width="5" height="9"/>
<rect class="c7" x="317" y="283" width="4" height="9"/>
<rect class="cf" x="321" y="283" width="4" height="9"/>
<rect class="cb" x="325" y="283" width="4" height="9"/>
<rect class="cf" x="329" y="283" width="4" height="9"/>
<rect class="cc" x="333" y="283" width="4" height="9"/>
<rect class="cf" x="337" y="283" width="12" height="9"/>
<rect class="ce" x="349" y="283" width="5" height="9"/>
<rect class="cc" x="354" y="283" width="4" height="9"/>
<rect class="cd" x="358" y="283" width="4" height="9"/>
<rect class="ce" x="362" y="283" width="4" height="9"/>
<rect class="cf" x="366" y="283" width="8" height="9"/>
<rect class="cd" x="374" y="283" width="4" height="9"/>
<rect class="cb" x="378" y="283" width="4" height="9"/>
<rect class="cc" x="382" y="283" width="4" height="9"/>
<rect class="ce" x="386" y="283" width="13" height="9"/>
<rect class="cd" x="399" y="283" width="12" height="9"/>
<rect class="cb" x="411" y="283" width="4" height="9"/>
<rect class="cd" x="415" y="283" width="8" height="9"/>
<rect class="cg" x="423" y="283" width="5" height="9"/>
<rect class="ce" x="428" y="283" width="4" height="9"/>
<rect class="c9" x="432" y="283" width="4" height="9"/>
<rect class="c7" x="436" y="283" width="4" height="9"/>
<rect class="cc" x="440" y="283" width="8" height="9"/>
<rect class="c8" x="448" y="283" width="4" height="9"/>
<rect class="ca" x="452" y="283" width="8" height="9"/>
<rect class="cf" x="460" y="283" width="9" height="9"/>
<rect class="cg" x="469" y="283" width="4" height="9"/>
<rect class="ce" x="473" y="283" width="41" height="9"/>
<rect class="cf" x="514" y="283" width="4" height="9"/>
<rect class="ce" x="518" y="283" width="4" height="9"/>
<rect class="cf" x="522" y="283" width="8" height="9"/>
<rect class="ce" x="530" y="283" width="8" height="9"/>
<rect class="cc" x="538" y="283" width="9" height="9"/>
<rect class="cg" x="547" y="283" width="4" height="9"/>
<rect class="c8" x="551" y="283" width="4" height="9"/>
<rect class="cb" x="555" y="283" width="8" height="9"/>
<rect class="cf" x="563" y="283" width="4" height="9"/>
<rect class="cb" x="567" y="283" width="4" height="9"/>
<rect class="cf" x="571" y="283" width="4" height="9"/>
<rect class="c8" x="575" y="283" width="5" height="9"/>
<rect class="cc" x="580" y="283" width="4" height="9"/>
<rect class="cb" x="584" y="283" width="4" height="9"/>
<rect class="c7" x="588" y="283" width="4" height="9"/>
<rect class="cb" x="592" y="283" width="4" height="9"/>
<rect class="c4" x="596" y="283" width="4" height="9"/>
<rect class="cd" x="296" y="292" width="4" height="9"/>
<rect class="cc" x="300" y="292" width="4" height="9"/>
<rect class="cf" x="304" y="292" width="4" height="9"/>
<rect class="cd" x="308" y="292" width="4" height="9"/>
<rect class="cb" x="312" y="292" width="5" height="9"/>
<rect class="c9" x="317" y="292" width="4" height="9"/>
<rect class="cc" x="321" y="292" width="4" height="9"/>
<rect class="ca" x="325" y="292" width="4" height="9"/>
<rect class="ce" x="329" y="292" width="4" height="9"/>
<rect class="ch" x="333" y="292" width="4" height="9"/>
<rect class="cc" x="337" y="292" width="4" height="9"/>
<rect class="cb" x="341" y="292" width="4" height="9"/>
<rect class="ce" x="345" y="292" width="4" height="9"/>
<rect class="cd" x="349" y="292" width="5" height="9"/>
<rect class="ch" x="354" y="292" width="4" height="9"/>
<rect class="c9" x="358" y="292" width="8" height="9"/>
<rect class="cd" x="366" y="292" width="4" height="9"/>
<rect class="cb" x="370" y="292" width="4" height="9"/>
<rect class="cc" x="374" y="292" width="4" height="9"/>
<rect class="cd" x="378" y="292" width="17" height="9"/>
<rect class="cg" x="395" y="292" width="4" height="9"/>
<rect class="ci" x="399" y="292" width="4" height="9"/>
<rect class="ch" x="403" y="292" width="4" height="9"/>
<rect class="cg" x="407" y="292" width="4" height="9"/>
<rect class="cd" x="411" y="292" width="4" height="9"/>
<rect class="cc" x="415" y="292" width="4" height="9"/>
<rect class="cg" x="419" y="292" width="4" height="9"/>
<rect class="ch" x="423" y="292" width="5" height="9"/>
<rect class="cc" x="428" y="292" width="4" height="9"/>
<rect class="cb" x="432" y="292" width="4" height="9"/>
<rect class="ce" x="436" y="292" width="8" height="9"/>
<rect class="cd" x="444" y="292" width="4" height="9"/>
<rect class="cb" x="448" y="292" width="8" height="9"/>
<rect class="cc" x="456" y="292" width="4" height="9"/>
<rect class="cd" x="460" y="292" width="9" height="9"/>
<rect class="cb" x="469" y="292" width="4" height="9"/>
<rect class="ce" x="473" y="292" width="8" height="9"/>
<rect class="cc" x="481" y="292" width="4" height="9"/>
<rect class="cb" x="485" y="292" width="4" height="9"/>
<rect class="cc" x="489" y="292" width="4" height="9"/>
<rect class="cd" x="493" y="292" width="4" height="9"/>
<rect class="cb" x="497" y="292" width="4" height="9"/>
<rect class="ce" x="501" y="292" width="5" height="9"/>
<rect class="cb" x="506" y="292" width="4" height="9"/>
<rect class="ce" x="510" y="292" width="4" height="9"/>
<rect class="cd" x="514" y="292" width="4" height="9"/>
<rect class="cf" x="518" y="292" width="8" height="9"/>
<rect class="cc" x="526" y="292" width="8" height="9"/>
<rect class="cg" x="534" y="292" width="4" height="9"/>
<rect class="ca" x="538" y="292" width="5" height="9"/>
<rect class="c9" x="543" y="292" width="4" height="9"/>
<rect class="cf" x="547" y="292" width="4" height="9"/>
<rect class="cc" x="551" y="292" width="4" height="9"/>
<rect class="cf" x="555" y="292" width="4" height="9"/>
<rect class="cb" x="559" y="292" width="4" height="9"/>
<rect class="cd" x="563" y="292" width="4" height="9"/>
<rect class="cb" x="567" y="292" width="4" height="9"/>
<rect class="ce" x="571" y="292" width="4" height="9"/>
<rect class="cc" x="575" y="292" width="5" height="9"/>
<rect class="cd" x="580" y="292" width="4" height="9"/>
<rect class="c9" x="584" y="292" width="4" height="9"/>
<rect class="cb" x="588" y="292" width="4" height="9"/>
<rect class="ch" x="592" y="292" width="4" height="9"/>
<rect class="c2" x="596" y="292" width="4" height="9"/>
<rect class="cf" x="296" y="301" width="8" height="9"/>
<rect class="cd" x="304" y="301" width="8" height="9"/>
<rect class="c8" x="312" y="301" width="5" height="9"/>
<rect class="c7" x="317" y="301" width="4" height="9"/>
<rect class="cf" x="321" y="301" width="4" height="9"/>
<rect class="cc" x="325" y="301" width="4" height="9"/>
<rect class="cb" x="329" y="301" width="4" height="9"/>
<rect class="cf" x="333" y="301" width="4" height="9"/>
<rect class="ce" x="337" y="301" width="4" height="9"/>
<rect class="cc" x="341" y="301" width="4" height="9"/>
<rect class="cb" x="345" y="301" width="4" height="9"/>
<rect class="cf" x="349" y="301" width="5" height="9"/>
<rect class="cd" x="354" y="301" width="4" height="9"/>
<rect class="cb" x="358" y="301" width="4" height="9"/>
<rect class="c8" x="362" y="301" width="4" height="9"/>
<rect class="cf" x="366" y="301" width="4" height="9"/>
<rect class="ce" x="370" y="301" width="4" height="9"/>
<rect class="cd" x="374" y="301" width="12" height="9"/>
<rect class="cg" x="386" y="301" width="5" height="9"/>
<rect class="cc" x="391" y="301" width="4" height="9"/>
<rect class="ce" x="395" y="301" width="4" height="9"/>
<rect class="cg" x="399" y="301" width="4" height="9"/>
<rect class="cf" x="403" y="301" width="4" height="9"/>
<rect class="cg" x="407" y="301" width="4" height="9"/>
<rect class="cd" x="411" y="301" width="4" height="9"/>
<rect class="cf" x="415" y="301" width="4" height="9"/>
<rect class="cc" x="419" y="301" width="4" height="9"/>
<rect class="ch" x="423" y="301" width="5" height="9"/>
<rect class="ca" x="428" y="301" width="4" height="9"/>
<rect class="c9" x="432" y="301" width="4" height="9"/>
<rect class="ce" x="436" y="301" width="4" height="9"/>
<rect class="cd" x="440" y="301" width="8" height="9"/>
<rect class="c8" x="448" y="301" width="4" height="9"/>
<rect class="cd" x="452" y="301" width="4" height="9"/>
<rect class="cb" x="456" y="301" width="4" height="9"/>
<rect class="ch" x="460" y="301" width="4" height="9"/>
<rect class="cg" x="464" y="301" width="5" height="9"/>
<rect class="cd" x="469" y="301" width="4" height="9"/>
<rect class="cf" x="473" y="301" width="4" height="9"/>
<rect class="cc" x="477" y="301" width="4" height="9"/>
<rect class="cg" x="481" y="301" width="4" height="9"/>
<rect class="cd" x="485" y="301" width="4" height="9"/>
<rect class="ce" x="489" y="301" width="4" height="9"/>
<rect class="cf" x="493" y="301" width="8" height="9"/>
<rect class="cg" x="501" y="301" width="5" height="9"/>
<rect class="cd" x="506" y="301" width="4" height="9"/>
<rect class="cg" x="510" y="301" width="4" height="9"/>
<rect class="cd" x="514" y="301" width="4" height="9"/>
<rect class="cf" x="518" y="301" width="8" height="9"/>
<rect class="ce" x="526" y="301" width="4" height="9"/>
<rect class="cc" x="530" y="301" width="4" height="9"/>
<rect class="ch" x="534" y="301" width="4" height="9"/>
<rect class="cd" x="538" y="301" width="5" height="9"/>
<rect class="ca" x="543" y="301" width="4" height="9"/>
<rect class="cg" x="547" y="301" width="4" height="9"/>
<rect class="ce" x="551" y="301" width="4" height="9"/>
<rect class="cb" x="555" y="301" width="4" height="9"/>
<rect class="ca" x="559" y="301" width="8" height="9"/>
<rect class="c8" x="567" y="301" width="4" height="9"/>
<rect class="ce" x="571" y="301" width="4" height="9"/>
<rect class="ca" x="575" y="301" width="5" height="9"/>
<rect class="cb" x="580" y="301" width="4" height="9"/>
<rect class="c9" x="584" y="301" width="4" height="9"/>
<rect class="c8" x="588" y="301" width="4" height="9"/>
<rect class="cc" x="592" y="301" width="4" height="9"/>
<rect class="c4" x="596" y="301" width="4" height="9"/>
<rect class="cd" x="296" y="310" width="4" height="9"/>
<rect class="ce" x="300" y="310" width="12" height="9"/>
<rect class="c9" x="312" y="310" width="5" height="9"/>
<rect class="c7" x="317" y="310" width="4" height="9"/>
<rect class="cd" x="321" y="310" width="4" height="9"/>
<rect class="ca" x="325" y="310" width="4" height="9"/>
<rect class="cb" x="329" y="310" width="4" height="9"/>
<rect class="ce" x="333" y="310" width="16" height="9"/>
<rect class="cf" x="349" y="310" width="5" height="9"/>
<rect class="cd" x="354" y="310" width="4" height="9"/>
<rect class="ca" x="358" y="310" width="4" height="9"/>
<rect class="c9" x="362" y="310" width="4" height="9"/>
<rect class="cf" x="366" y="310" width="4" height="9"/>
<rect class="cd" x="370" y="310" width="4" height="9"/>
<rect class="cb" x="374" y="310" width="4" height="9"/>
<rect class="cc" x="378" y="310" width="8" height="9"/>
<rect class="cf" x="386" y="310" width="5" height="9"/>
<rect class="ce" x="391" y="310" width="8" height="9"/>
<rect class="cg" x="399" y="310" width="4" height="9"/>
<rect class="ce" x="403" y="310" width="4" height="9"/>
<rect class="cf" x="407" y="310" width="12" height="9"/>
<rect class="ce" x="419" y="310" width="4" height="9"/>
<rect class="cg" x="423" y="310" width="5" height="9"/>
<rect class="cb" x="428" y="310" width="8" height="9"/>
<rect class="ca" x="436" y="310" width="4" height="9"/>
<rect class="cd" x="440" y="310" width="4" height="9"/>
<rect class="cc" x="444" y="310" width="4" height="9"/>
<rect class="c8" x="448" y="310" width="4" height="9"/>
<rect class="ce" x="452" y="310" width="4" height="9"/>
<rect class="ca" x="456" y="310" width="4" height="9"/>
<rect class="cg" x="460" y="310" width="4" height="9"/>
<rect class="cd" x="464" y="310" width="9" height="9"/>
<rect class="cf" x="473" y="310" width="4" height="9"/>
<rect class="ce" x="477" y="310" width="4" height="9"/>
<rect class="cg" x="481" y="310" width="4" height="9"/>
<rect class="cc" x="485" y="310" width="4" height="9"/>
<rect class="cb" x="489" y="310" width="4" height="9"/>
<rect class="ce" x="493" y="310" width="4" height="9"/>
<rect class="cf" x="497" y="310" width="13" height="9"/>
<rect class="cg" x="510" y="310" width="4" height="9"/>
<rect class="ce" x="514" y="310" width="4" height="9"/>
<rect class="cf" x="518" y="310" width="4" height="9"/>
<rect class="cg" x="522" y="310" width="4" height="9"/>
<rect class="ce" x="526" y="310" width="4" height="9"/>
<rect class="cf" x="530" y="310" width="4" height="9"/>
<rect class="ch" x="534" y="310" width="4" height="9"/>
<rect class="cb" x="538" y="310" width="9" height="9"/>
<rect class="cg" x="547" y="310" width="4" height="9"/>
<rect class="cb" x="551" y="310" width="4" height="9"/>
<rect class="ca" x="555" y="310" width="4" height="9"/>
<rect class="cb" x="559" y="310" width="8" height="9"/>
<rect class="ca" x="567" y="310" width="4" height="9"/>
<rect class="ce" x="571" y="310" width="4" height="9"/>
<rect class="cb" x="575" y="310" width="5" height="9"/>
<rect class="cd" x="580" y="310" width="4" height="9"/>
<rect class="c9" x="584" y="310" width="4" height="9"/>
<rect class="c8" x="588" y="310" width="4" height="9"/>
<rect class="ca" x="592" y="310" width="4" height="9"/>
<rect class="c4" x="596" y="310" width="4" height="9"/>
<rect class="cg" x="296" y="319" width="16" height="9"/>
<rect class="cd" x="312" y="319" width="5" height="9"/>
<rect class="c9" x="317" y="319" width="8" height="9"/>
<rect class="cb" x="325" y="319" width="4" height="9"/>
<rect class="cd" x="329" y="319" width="4" height="9"/>
<rect class="cb" x="333" y="319" width="4" height="9"/>
<rect class="cd" x="337" y="319" width="12" height="9"/>
<rect class="ce" x="349" y="319" width="5" height="9"/>
<rect class="cd" x="354" y="319" width="12" height="9"/>
<rect class="ce" x="366" y="319" width="4" height="9"/>
<rect class="cb" x="370" y="319" width="8" height="9"/>
<rect class="cc" x="378" y="319" width="4" height="9"/>
<rect class="cd" x="382" y="319" width="4" height="9"/>
<rect class="ch" x="386" y="319" width="5" height="9"/>
<rect class="cd" x="391" y="319" width="4" height="9"/>
<rect class="ce" x="395" y="319" width="4" height="9"/>
<rect class="cc" x="399" y="319" width="4" height="9"/>
<rect class="ce" x="403" y="319" width="4" height="9"/>
<rect class="cg" x="407" y="319" width="4" height="9"/>
<rect class="ce" x="411" y="319" width="4" height="9"/>
<rect class="cd" x="415" y="319" width="8" height="9"/>
<rect class="ce" x="423" y="319" width="9" height="9"/>
<rect class="c9" x="432" y="319" width="4" height="9"/>
<rect class="cb" x="436" y="319" width="4" height="9"/>
<rect class="cd" x="440" y="319" width="4" height="9"/>
<rect class="cc" x="444" y="319" width="4" height="9"/>
<rect class="c9" x="448" y="319" width="4" height="9"/>
<rect class="cb" x="452" y="319" width="4" height="9"/>
<rect class="ca" x="456" y="319" width="4" height="9"/>
<rect class="cg" x="460" y="319" width="4" height="9"/>
<rect class="cd" x="464" y="319" width="5" height="9"/>
<rect class="cf" x="469" y="319" width="4" height="9"/>
<rect class="cd" x="473" y="319" width="4" height="9"/>
<rect class="cc" x="477" y="319" width="4" height="9"/>
<rect class="ca" x="481" y="319" width="4" height="9"/>
<rect class="cd" x="485" y="319" width="16" height="9"/>
<rect class="cf" x="501" y="319" width="5" height="9"/>
<rect class="cd" x="506" y="319" width="4" height="9"/>
<rect class="cg" x="510" y="319" width="4" height="9"/>
<rect class="ce" x="514" y="319" width="4" height="9"/>
<rect class="cd" x="518" y="319" width="4" height="9"/>
<rect class="ce" x="522" y="319" width="12" height="9"/>
<rect class="cf" x="534" y="319" width="4" height="9"/>
<rect class="c9" x="538" y="319" width="5" height="9"/>
<rect class="ce" x="543" y="319" width="8" height="9"/>
<rect class="cb" x="551" y="319" width="4" height="9"/>
<rect class="ca" x="555" y="319" width="4" height="9"/>
<rect class="cc" x="559" y="319" width="4" height="9"/>
<rect class="cb" x="563" y="319" width="4" height="9"/>
<rect class="cc" x="567" y="319" width="4" height="9"/>
<rect class="ce" x="571" y="319" width="4" height="9"/>
<rect class="c8" x="575" y="319" width="5" height="9"/>
<rect class="c9" x="580" y="319" width="4" height="9"/>
<rect class="ca" x="584" y="319" width="8" height="9"/>
<rect class="cb" x="592" y="319" width="4" height="9"/>
<rect class="c2" x="596" y="319" width="4" height="9"/>
<rect class="cg" x="296" y="328" width="4" height="9"/>
<rect class="ch" x="300" y="328" width="12" height="9"/>
<rect class="ca" x="312" y="328" width="5" height="9"/>
<rect class="cc" x="317" y="328" width="4" height="9"/>
<rect class="cg" x="321" y="328" width="4" height="9"/>
<rect class="ca" x="325" y="328" width="4" height="9"/>
<rect class="cd" x="329" y="328" width="8" height="9"/>
<rect class="cf" x="337" y="328" width="4" height="9"/>
<rect class="ce" x="341" y="328" width="4" height="9"/>
<rect class="cc" x="345" y="328" width="4" height="9"/>
<rect class="cf" x="349" y="328" width="5" height="9"/>
<rect class="cc" x="354" y="328" width="8" height="9"/>
<rect class="cb" x="362" y="328" width="4" height="9"/>
<rect class="cg" x="366" y="328" width="4" height="9"/>
<rect class="ca" x="370" y="328" width="4" height="9"/>
<rect class="cd" x="374" y="328" width="4" height="9"/>
<rect class="cc" x="378" y="328" width="4" height="9"/>
<rect class="cb" x="382" y="328" width="4" height="9"/>
<rect class="ci" x="386" y="328" width="5" height="9"/>
<rect class="cf" x="391" y="328" width="4" height="9"/>
<rect class="cc" x="395" y="328" width="4" height="9"/>
<rect class="cb" x="399" y="328" width="4" height="9"/>
<rect class="ce" x="403" y="328" width="4" height="9"/>
<rect class="cd" x="407" y="328" width="8" height="9"/>
<rect class="cg" x="415" y="328" width="4" height="9"/>
<rect class="cc" x="419" y="328" width="4" height="9"/>
<rect class="ce" x="423" y="328" width="5" height="9"/>
<rect class="cc" x="428" y="328" width="8" height="9"/>
<rect class="c8" x="436" y="328" width="4" height="9"/>
<rect class="cc" x="440" y="328" width="8" height="9"/>
<rect class="c9" x="448" y="328" width="4" height="9"/>
<rect class="cb" x="452" y="328" width="4" height="9"/>
<rect class="ca" x="456" y="328" width="4" height="9"/>
<rect class="cc" x="460" y="328" width="4" height="9"/>
<rect class="cd" x="464" y="328" width="13" height="9"/>
<rect class="cb" x="477" y="328" width="4" height="9"/>
<rect class="cc" x="481" y="328" width="4" height="9"/>
<rect class="cd" x="485" y="328" width="4" height="9"/>
<rect class="ca" x="489" y="328" width="4" height="9"/>
<rect class="cc" x="493" y="328" width="4" height="9"/>
<rect class="cd" x="497" y="328" width="4" height="9"/>
<rect class="ce" x="501" y="328" width="13" height="9"/>
<rect class="cd" x="514" y="328" width="4" height="9"/>
<rect class="cf" x="518" y="328" width="4" height="9"/>
<rect class="cg" x="522" y="328" width="4" height="9"/>
<rect class="ce" x="526" y="328" width="4" height="9"/>
<rect class="cd" x="530" y="328" width="4" height="9"/>
<rect class="ch" x="534" y="328" width="4" height="9"/>
<rect class="cb" x="538" y="328" width="9" height="9"/>
<rect class="cc" x="547" y="328" width="4" height="9"/>
<rect class="ca" x="551" y="328" width="4" height="9"/>
<rect class="cd" x="555" y="328" width="4" height="9"/>
<rect class="cb" x="559" y="328" width="4" height="9"/>
<rect class="cc" x="563" y="328" width="8" height="9"/>
<rect class="cd" x="571" y="328" width="4" height="9"/>
<rect class="c9" x="575" y="328" width="5" height="9"/>
<rect class="cb" x="580" y="328" width="4" height="9"/>
<rect class="ca" x="584" y="328" width="4" height="9"/>
<rect class="c9" x="588" y="328" width="4" height="9"/>
<rect class="cd" x="592" y="328" width="4" height="9"/>
<rect class="c3" x="596" y="328" width="4" height="9"/>
<rect class="cd" x="296" y="337" width="4" height="9"/>
<rect class="cc" x="300" y="337" width="4" height="9"/>
<rect class="cd" x="304" y="337" width="4" height="9"/>
<rect class="cb" x="308" y="337" width="13" height="9"/>
<rect class="cc" x="321" y="337" width="4" height="9"/>
<rect class="ce" x="325" y="337" width="8" height="9"/>
<rect class="ch" x="333" y="337" width="4" height="9"/>
<rect class="cf" x="337" y="337" width="4" height="9"/>
<rect class="cc" x="341" y="337" width="8" height="9"/>
<rect class="cd" x="349" y="337" width="5" height="9"/>
<rect class="ch" x="354" y="337" width="4" height="9"/>
<rect class="cc" x="358" y="337" width="4" height="9"/>
<rect class="ca" x="362" y="337" width="4" height="9"/>
<rect class="cd" x="366" y="337" width="4" height="9"/>
<rect class="cc" x="370" y="337" width="4" height="9"/>
<rect class="cb" x="374" y="337" width="4" height="9"/>
<rect class="cd" x="378" y="337" width="4" height="9"/>
<rect class="cc" x="382" y="337" width="4" height="9"/>
<rect class="cd" x="386" y="337" width="5" height="9"/>
<rect class="cb" x="391" y="337" width="4" height="9"/>
<rect class="cc" x="395" y="337" width="4" height="9"/>
<rect class="ce" x="399" y="337" width="8" height="9"/>
<rect class="cd" x="407" y="337" width="4" height="9"/>
<rect class="cc" x="411" y="337" width="4" height="9"/>
<rect class="ce" x="415" y="337" width="4" height="9"/>
<rect class="cf" x="419" y="337" width="4" height="9"/>
<rect class="ch" x="423" y="337" width="5" height="9"/>
<rect class="ce" x="428" y="337" width="4" height="9"/>
<rect class="cc" x="432" y="337" width="4" height="9"/>
<rect class="cd" x="436" y="337" width="4" height="9"/>
<rect class="cc" x="440" y="337" width="4" height="9"/>
<rect class="cd" x="444" y="337" width="4" height="9"/>
<rect class="cb" x="448" y="337" width="4" height="9"/>
<rect class="cd" x="452" y="337" width="4" height="9"/>
<rect class="cb" x="456" y="337" width="4" height="9"/>
<rect class="cd" x="460" y="337" width="9" height="9"/>
<rect class="ce" x="469" y="337" width="12" height="9"/>
<rect class="cd" x="481" y="337" width="8" height="9"/>
<rect class="cb" x="489" y="337" width="4" height="9"/>
<rect class="cf" x="493" y="337" width="4" height="9"/>
<rect class="ce" x="497" y="337" width="4" height="9"/>
<rect class="cb" x="501" y="337" width="5" height="9"/>
<rect class="cc" x="506" y="337" width="4" height="9"/>
<rect class="ce" x="510" y="337" width="4" height="9"/>
<rect class="ca" x="514" y="337" width="4" height="9"/>
<rect class="cf" x="518" y="337" width="4" height="9"/>
<rect class="ce" x="522" y="337" width="4" height="9"/>
<rect class="cd" x="526" y="337" width="4" height="9"/>
<rect class="ci" x="530" y="337" width="4" height="9"/>
<rect class="cd" x="534" y="337" width="4" height="9"/>
<rect class="ch" x="538" y="337" width="5" height="9"/>
<rect class="cc" x="543" y="337" width="8" height="9"/>
<rect class="cd" x="551" y="337" width="4" height="9"/>
<rect class="c9" x="555" y="337" width="4" height="9"/>
<rect class="cb" x="559" y="337" width="8" height="9"/>
<rect class="c9" x="567" y="337" width="4" height="9"/>
<rect class="cf" x="571" y="337" width="4" height="9"/>
<rect class="c7" x="575" y="337" width="5" height="9"/>
<rect class="cc" x="580" y="337" width="4" height="9"/>
<rect class="cb" x="584" y="337" width="8" height="9"/>
<rect class="cc" x="592" y="337" width="4" height="9"/>
<rect class="c2" x="596" y="337" width="4" height="9"/>
<rect class="cf" x="296" y="346" width="8" height="9"/>
<rect class="cd" x="304" y="346" width="4" height="9"/>
<rect class="ca" x="308" y="346" width="9" height="9"/>
<rect class="ch" x="317" y="346" width="4" height="9"/>
<rect class="cd" x="321" y="346" width="8" height="9"/>
<rect class="ce" x="329" y="346" width="8" height="9"/>
<rect class="cc" x="337" y="346" width="17" height="9"/>
<rect class="cd" x="354" y="346" width="4" height="9"/>
<rect class="cc" x="358" y="346" width="4" height="9"/>
<rect class="ca" x="362" y="346" width="4" height="9"/>
<rect class="cd" x="366" y="346" width="4" height="9"/>
<rect class="cc" x="370" y="346" width="4" height="9"/>
<rect class="c8" x="374" y="346" width="4" height="9"/>
<rect class="c9" x="378" y="346" width="4" height="9"/>
<rect class="cc" x="382" y="346" width="4" height="9"/>
<rect class="cd" x="386" y="346" width="9" height="9"/>
<rect class="cc" x="395" y="346" width="4" height="9"/>
<rect class="ca" x="399" y="346" width="4" height="9"/>
<rect class="ce" x="403" y="346" width="4" height="9"/>
<rect class="cc" x="407" y="346" width="4" height="9"/>
<rect class="ch" x="411" y="346" width="4" height="9"/>
<rect class="ci" x="415" y="346" width="4" height="9"/>
<rect class="cc" x="419" y="346" width="4" height="9"/>
<rect class="ch" x="423" y="346" width="5" height="9"/>
<rect class="cc" x="428" y="346" width="8" height="9"/>
<rect class="cg" x="436" y="346" width="4" height="9"/>
<rect class="cc" x="440" y="346" width="4" height="9"/>
<rect class="cf" x="444" y="346" width="4" height="9"/>
<rect class="cb" x="448" y="346" width="4" height="9"/>
<rect class="cc" x="452" y="346" width="8" height="9"/>
<rect class="cd" x="460" y="346" width="4" height="9"/>
<rect class="ch" x="464" y="346" width="5" height="9"/>
<rect class="cf" x="469" y="346" width="4" height="9"/>
<rect class="cd" x="473" y="346" width="8" height="9"/>
<rect class="cg" x="481" y="346" width="4" height="9"/>
<rect class="cf" x="485" y="346" width="4" height="9"/>
<rect class="cb" x="489" y="346" width="4" height="9"/>
<rect class="cg" x="493" y="346" width="4" height="9"/>
<rect class="ce" x="497" y="346" width="9" height="9"/>
<rect class="cb" x="506" y="346" width="4" height="9"/>
<rect class="ce" x="510" y="346" width="4" height="9"/>
<rect class="cd" x="514" y="346" width="4" height="9"/>
<rect class="cc" x="518" y="346" width="4" height="9"/>
<rect class="cd" x="522" y="346" width="16" height="9"/>
<rect class="cc" x="538" y="346" width="5" height="9"/>
<rect class="ca" x="543" y="346" width="4" height="9"/>
<rect class="cd" x="547" y="346" width="4" height="9"/>
<rect class="cc" x="551" y="346" width="4" height="9"/>
<rect class="c8" x="555" y="346" width="4" height="9"/>
<rect class="cc" x="559" y="346" width="4" height="9"/>
<rect class="cd" x="563" y="346" width="4" height="9"/>
<rect class="cb" x="567" y="346" width="4" height="9"/>
<rect class="cc" x="571" y="346" width="4" height="9"/>
<rect class="c7" x="575" y="346" width="5" height="9"/>
<rect class="cd" x="580" y="346" width="4" height="9"/>
<rect class="cc" x="584" y="346" width="4" height="9"/>
<rect class="cd" x="588" y="346" width="4" height="9"/>
<rect class="c9" x="592" y="346" width="4" height="9"/>
<rect class="c3" x="596" y="346" width="4" height="9"/>
<rect class="cb" x="296" y="355" width="8" height="9"/>
<rect class="c9" x="304" y="355" width="8" height="9"/>
<rect class="c5" x="312" y="355" width="5" height="9"/>
<rect class="cb" x="317" y="355" width="4" height="9"/>
<rect class="cf" x="321" y="355" width="4" height="9"/>
<rect class="ce" x="325" y="355" width="4" height="9"/>
<rect class="cf" x="329" y="355" width="4" height="9"/>
<rect class="ci" x="333" y="355" width="4" height="9"/>
<rect class="cf" x="337" y="355" width="4" height="9"/>
<rect class="cb" x="341" y="355" width="4" height="9"/>
<rect class="ca" x="345" y="355" width="4" height="9"/>
<rect class="cg" x="349" y="355" width="5" height="9"/>
<rect class="cf" x="354" y="355" width="4" height="9"/>
<rect class="cc" x="358" y="355" width="4" height="9"/>
<rect class="cb" x="362" y="355" width="4" height="9"/>
<rect class="ce" x="366" y="355" width="4" height="9"/>
<rect class="cf" x="370" y="355" width="8" height="9"/>
<rect class="cd" x="378" y="355" width="4" height="9"/>
<rect class="cf" x="382" y="355" width="9" height="9"/>
<rect class="ca" x="391" y="355" width="4" height="9"/>
<rect class="cc" x="395" y="355" width="4" height="9"/>
<rect class="cg" x="399" y="355" width="12" height="9"/>
<rect class="cb" x="411" y="355" width="4" height="9"/>
<rect class="cc" x="415" y="355" width="4" height="9"/>
<rect class="cd" x="419" y="355" width="4" height="9"/>
<rect class="ca" x="423" y="355" width="5" height="9"/>
<rect class="cf" x="428" y="355" width="4" height="9"/>
<rect class="cb" x="432" y="355" width="4" height="9"/>
<rect class="cg" x="436" y="355" width="4" height="9"/>
<rect class="cd" x="440" y="355" width="8" height="9"/>
<rect class="c9" x="448" y="355" width="4" height="9"/>
<rect class="ce" x="452" y="355" width="12" height="9"/>
<rect class="ca" x="464" y="355" width="5" height="9"/>
<rect class="cg" x="469" y="355" width="4" height="9"/>
<rect class="cd" x="473" y="355" width="4" height="9"/>
<rect class="c8" x="477" y="355" width="4" height="9"/>
<rect class="ce" x="481" y="355" width="4" height="9"/>
<rect class="c9" x="485" y="355" width="4" height="9"/>
<rect class="cb" x="489" y="355" width="4" height="9"/>
<rect class="cg" x="493" y="355" width="4" height="9"/>
<rect class="ce" x="497" y="355" width="4" height="9"/>
<rect class="cg" x="501" y="355" width="5" height="9"/>
<rect class="cc" x="506" y="355" width="4" height="9"/>
<rect class="cb" x="510" y="355" width="4" height="9"/>
<rect class="ce" x="514" y="355" width="4" height="9"/>
<rect class="cf" x="518" y="355" width="8" height="9"/>
<rect class="ce" x="526" y="355" width="4" height="9"/>
<rect class="cc" x="530" y="355" width="4" height="9"/>
<rect class="cb" x="534" y="355" width="4" height="9"/>
<rect class="ce" x="538" y="355" width="5" height="9"/>
<rect class="c9" x="543" y="355" width="4" height="9"/>
<rect class="ch" x="547" y="355" width="4" height="9"/>
<rect class="cd" x="551" y="355" width="4" height="9"/>
<rect class="cb" x="555" y="355" width="8" height="9"/>
<rect class="cd" x="563" y="355" width="4" height="9"/>
<rect class="cb" x="567" y="355" width="4" height="9"/>
<rect class="ce" x="571" y="355" width="9" height="9"/>
<rect class="c9" x="580" y="355" width="4" height="9"/>
<rect class="cc" x="584" y="355" width="8" height="9"/>
<rect class="cd" x="592" y="355" width="4" height="9"/>
<rect class="c4" x="596" y="355" width="4" height="9"/>
<rect class="cb" x="296" y="364" width="12" height="9"/>
<rect class="c9" x="308" y="364" width="4" height="9"/>
<rect class="c5" x="312" y="364" width="5" height="9"/>
<rect class="c9" x="317" y="364" width="4" height="9"/>
<rect class="ce" x="321" y="364" width="4" height="9"/>
<rect class="cd" x="325" y="364" width="4" height="9"/>
<rect class="cg" x="329" y="364" width="4" height="9"/>
<rect class="cf" x="333" y="364" width="8" height="9"/>
<rect class="c9" x="341" y="364" width="4" height="9"/>
<rect class="ce" x="345" y="364" width="4" height="9"/>
<rect class="cf" x="349" y="364" width="5" height="9"/>
<rect class="ce" x="354" y="364" width="4" height="9"/>
<rect class="cc" x="358" y="364" width="4" height="9"/>
<rect class="cd" x="362" y="364" width="4" height="9"/>
<rect class="cf" x="366" y="364" width="4" height="9"/>
<rect class="cd" x="370" y="364" width="4" height="9"/>
<rect class="ca" x="374" y="364" width="4" height="9"/>
<rect class="cb" x="378" y="364" width="4" height="9"/>
<rect class="cd" x="382" y="364" width="4" height="9"/>
<rect class="ce" x="386" y="364" width="5" height="9"/>
<rect class="cb" x="391" y="364" width="4" height="9"/>
<rect class="cc" x="395" y="364" width="4" height="9"/>
<rect class="cg" x="399" y="364" width="8" height="9"/>
<rect class="ch" x="407" y="364" width="4" height="9"/>
<rect class="cc" x="411" y="364" width="8" height="9"/>
<rect class="ce" x="419" y="364" width="4" height="9"/>
<rect class="ca" x="423" y="364" width="5" height="9"/>
<rect class="cd" x="428" y="364" width="4" height="9"/>
<rect class="cc" x="432" y="364" width="4" height="9"/>
<rect class="cd" x="436" y="364" width="4" height="9"/>
<rect class="cc" x="440" y="364" width="4" height="9"/>
<rect class="cd" x="444" y="364" width="4" height="9"/>
<rect class="ca" x="448" y="364" width="4" height="9"/>
<rect class="ce" x="452" y="364" width="4" height="9"/>
<rect class="cd" x="456" y="364" width="8" height="9"/>
<rect class="ca" x="464" y="364" width="5" height="9"/>
<rect class="ch" x="469" y="364" width="4" height="9"/>
<rect class="ce" x="473" y="364" width="4" height="9"/>
<rect class="c8" x="477" y="364" width="4" height="9"/>
<rect class="ce" x="481" y="364" width="4" height="9"/>
<rect class="ca" x="485" y="364" width="4" height="9"/>
<rect class="c9" x="489" y="364" width="4" height="9"/>
<rect class="cf" x="493" y="364" width="8" height="9"/>
<rect class="cg" x="501" y="364" width="9" height="9"/>
<rect class="cd" x="510" y="364" width="4" height="9"/>
<rect class="ce" x="514" y="364" width="8" height="9"/>
<rect class="cf" x="522" y="364" width="4" height="9"/>
<rect class="ce" x="526" y="364" width="4" height="9"/>
<rect class="cd" x="530" y="364" width="8" height="9"/>
<rect class="cc" x="538" y="364" width="9" height="9"/>
<rect class="ce" x="547" y="364" width="4" height="9"/>
<rect class="cc" x="551" y="364" width="4" height="9"/>
<rect class="cb" x="555" y="364" width="4" height="9"/>
<rect class="cc" x="559" y="364" width="4" height="9"/>
<rect class="ce" x="563" y="364" width="4" height="9"/>
<rect class="cb" x="567" y="364" width="4" height="9"/>
<rect class="ce" x="571" y="364" width="9" height="9"/>
<rect class="c9" x="580" y="364" width="4" height="9"/>
<rect class="cc" x="584" y="364" width="4" height="9"/>
<rect class="cd" x="588" y="364" width="4" height="9"/>
<rect class="cb" x="592" y="364" width="4" height="9"/>
<rect class="c3" x="596" y="364" width="4" height="9"/>
<rect class="c9" x="296" y="373" width="4" height="9"/>
<rect class="ca" x="300" y="373" width="8" height="9"/>
<rect class="c8" x="308" y="373" width="4" height="9"/>
<rect class="cb" x="312" y="373" width="5" height="9"/>
<rect class="c8" x="317" y="373" width="4" height="9"/>
<rect class="cf" x="321" y="373" width="4" height="9"/>
<rect class="cd" x="325" y="373" width="4" height="9"/>
<rect class="cf" x="329" y="373" width="4" height="9"/>
<rect class="ch" x="333" y="373" width="4" height="9"/>
<rect class="ca" x="337" y="373" width="4" height="9"/>
<rect class="c9" x="341" y="373" width="4" height="9"/>
<rect class="cd" x="345" y="373" width="4" height="9"/>
<rect class="cc" x="349" y="373" width="5" height="9"/>
<rect class="cf" x="354" y="373" width="4" height="9"/>
<rect class="ce" x="358" y="373" width="4" height="9"/>
<rect class="cc" x="362" y="373" width="4" height="9"/>
<rect class="cg" x="366" y="373" width="4" height="9"/>
<rect class="ca" x="370" y="373" width="4" height="9"/>
<rect class="cf" x="374" y="373" width="4" height="9"/>
<rect class="ce" x="378" y="373" width="4" height="9"/>
<rect class="cf" x="382" y="373" width="4" height="9"/>
<rect class="ce" x="386" y="373" width="9" height="9"/>
<rect class="cf" x="395" y="373" width="4" height="9"/>
<rect class="cc" x="399" y="373" width="4" height="9"/>
<rect class="ce" x="403" y="373" width="4" height="9"/>
<rect class="cg" x="407" y="373" width="4" height="9"/>
<rect class="cd" x="411" y="373" width="4" height="9"/>
<rect class="ce" x="415" y="373" width="8" height="9"/>
<rect class="cd" x="423" y="373" width="5" height="9"/>
<rect class="cb" x="428" y="373" width="4" height="9"/>
<rect class="c9" x="432" y="373" width="4" height="9"/>
<rect class="cd" x="436" y="373" width="4" height="9"/>
<rect class="cc" x="440" y="373" width="4" height="9"/>
<rect class="ce" x="444" y="373" width="4" height="9"/>
<rect class="cb" x="448" y="373" width="4" height="9"/>
<rect class="cd" x="452" y="373" width="4" height="9"/>
<rect class="ca" x="456" y="373" width="4" height="9"/>
<rect class="cd" x="460" y="373" width="4" height="9"/>
<rect class="ce" x="464" y="373" width="5" height="9"/>
<rect class="cd" x="469" y="373" width="4" height="9"/>
<rect class="ce" x="473" y="373" width="8" height="9"/>
<rect class="cd" x="481" y="373" width="8" height="9"/>
<rect class="cc" x="489" y="373" width="4" height="9"/>
<rect class="ce" x="493" y="373" width="13" height="9"/>
<rect class="cd" x="506" y="373" width="4" height="9"/>
<rect class="cf" x="510" y="373" width="8" height="9"/>
<rect class="ce" x="518" y="373" width="12" height="9"/>
<rect class="cf" x="530" y="373" width="8" height="9"/>
<rect class="cc" x="538" y="373" width="9" height="9"/>
<rect class="cd" x="547" y="373" width="4" height="9"/>
<rect class="ce" x="551" y="373" width="8" height="9"/>
<rect class="cd" x="559" y="373" width="12" height="9"/>
<rect class="cf" x="571" y="373" width="4" height="9"/>
<rect class="c9" x="575" y="373" width="5" height="9"/>
<rect class="cc" x="580" y="373" width="4" height="9"/>
<rect class="c8" x="584" y="373" width="4" height="9"/>
<rect class="c9" x="588" y="373" width="4" height="9"/>
<rect class="cf" x="592" y="373" width="4" height="9"/>
<rect class="c2" x="596" y="373" width="4" height="9"/>
<rect class="ca" x="296" y="382" width="4" height="9"/>
<rect class="cb" x="300" y="382" width="4" height="9"/>
<rect class="c7" x="304" y="382" width="4" height="9"/>
<rect class="c8" x="308" y="382" width="4" height="9"/>
<rect class="ca" x="312" y="382" width="5" height="9"/>
<rect class="c8" x="317" y="382" width="4" height="9"/>
<rect class="cf" x="321" y="382" width="12" height="9"/>
<rect class="cg" x="333" y="382" width="4" height="9"/>
<rect class="c8" x="337" y="382" width="4" height="9"/>
<rect class="ca" x="341" y="382" width="4" height="9"/>
<rect class="cc" x="345" y="382" width="9" height="9"/>
<rect class="cd" x="354" y="382" width="4" height="9"/>
<rect class="ce" x="358" y="382" width="4" height="9"/>
<rect class="cb" x="362" y="382" width="4" height="9"/>
<rect class="cf" x="366" y="382" width="4" height="9"/>
<rect class="cd" x="370" y="382" width="4" height="9"/>
<rect class="cg" x="374" y="382" width="8" height="9"/>
<rect class="ce" x="382" y="382" width="17" height="9"/>
<rect class="cd" x="399" y="382" width="8" height="9"/>
<rect class="cf" x="407" y="382" width="4" height="9"/>
<rect class="ca" x="411" y="382" width="4" height="9"/>
<rect class="cb" x="415" y="382" width="4" height="9"/>
<rect class="ca" x="419" y="382" width="4" height="9"/>
<rect class="cg" x="423" y="382" width="5" height="9"/>
<rect class="cb" x="428" y="382" width="4" height="9"/>
<rect class="ca" x="432" y="382" width="4" height="9"/>
<rect class="cf" x="436" y="382" width="4" height="9"/>
<rect class="cd" x="440" y="382" width="4" height="9"/>
<rect class="ce" x="444" y="382" width="4" height="9"/>
<rect class="cd" x="448" y="382" width="4" height="9"/>
<rect class="cc" x="452" y="382" width="4" height="9"/>
<rect class="c9" x="456" y="382" width="4" height="9"/>
<rect class="cf" x="460" y="382" width="4" height="9"/>
<rect class="ce" x="464" y="382" width="5" height="9"/>
<rect class="c9" x="469" y="382" width="4" height="9"/>
<rect class="cb" x="473" y="382" width="4" height="9"/>
<rect class="cg" x="477" y="382" width="4" height="9"/>
<rect class="cb" x="481" y="382" width="4" height="9"/>
<rect class="cf" x="485" y="382" width="4" height="9"/>
<rect class="cd" x="489" y="382" width="4" height="9"/>
<rect class="ce" x="493" y="382" width="8" height="9"/>
<rect class="cd" x="501" y="382" width="9" height="9"/>
<rect class="cf" x="510" y="382" width="4" height="9"/>
<rect class="cg" x="514" y="382" width="4" height="9"/>
<rect class="cd" x="518" y="382" width="4" height="9"/>
<rect class="cb" x="522" y="382" width="4" height="9"/>
<rect class="ch" x="526" y="382" width="4" height="9"/>
<rect class="cc" x="530" y="382" width="4" height="9"/>
<rect class="cf" x="534" y="382" width="4" height="9"/>
<rect class="cc" x="538" y="382" width="5" height="9"/>
<rect class="cd" x="543" y="382" width="8" height="9"/>
<rect class="cf" x="551" y="382" width="4" height="9"/>
<rect class="ch" x="555" y="382" width="4" height="9"/>
<rect class="ce" x="559" y="382" width="4" height="9"/>
<rect class="cd" x="563" y="382" width="4" height="9"/>
<rect class="cc" x="567" y="382" width="4" height="9"/>
<rect class="ce" x="571" y="382" width="4" height="9"/>
<rect class="c9" x="575" y="382" width="9" height="9"/>
<rect class="c7" x="584" y="382" width="4" height="9"/>
<rect class="c8" x="588" y="382" width="4" height="9"/>
<rect class="cf" x="592" y="382" width="4" height="9"/>
<rect class="c6" x="596" y="382" width="4" height="9"/>
<rect class="c9" x="296" y="391" width="8" height="9"/>
<rect class="cd" x="304" y="391" width="4" height="9"/>
<rect class="c9" x="308" y="391" width="4" height="9"/>
<rect class="cc" x="312" y="391" width="5" height="9"/>
<rect class="c7" x="317" y="391" width="4" height="9"/>
<rect class="cf" x="321" y="391" width="4" height="9"/>
<rect class="cd" x="325" y="391" width="4" height="9"/>
<rect class="ce" x="329" y="391" width="4" height="9"/>
<rect class="cg" x="333" y="391" width="4" height="9"/>
<rect class="c8" x="337" y="391" width="4" height="9"/>
<rect class="ca" x="341" y="391" width="4" height="9"/>
<rect class="cf" x="345" y="391" width="4" height="9"/>
<rect class="cb" x="349" y="391" width="5" height="9"/>
<rect class="ce" x="354" y="391" width="4" height="9"/>
<rect class="cc" x="358" y="391" width="8" height="9"/>
<rect class="cf" x="366" y="391" width="4" height="9"/>
<rect class="ca" x="370" y="391" width="4" height="9"/>
<rect class="cd" x="374" y="391" width="4" height="9"/>
<rect class="ca" x="378" y="391" width="4" height="9"/>
<rect class="cf" x="382" y="391" width="4" height="9"/>
<rect class="ce" x="386" y="391" width="13" height="9"/>
<rect class="cc" x="399" y="391" width="4" height="9"/>
<rect class="cf" x="403" y="391" width="4" height="9"/>
<rect class="ch" x="407" y="391" width="4" height="9"/>
<rect class="cd" x="411" y="391" width="12" height="9"/>
<rect class="cg" x="423" y="391" width="5" height="9"/>
<rect class="cc" x="428" y="391" width="4" height="9"/>
<rect class="ca" x="432" y="391" width="4" height="9"/>
<rect class="cf" x="436" y="391" width="4" height="9"/>
<rect class="cd" x="440" y="391" width="4" height="9"/>
<rect class="cf" x="444" y="391" width="4" height="9"/>
<rect class="cb" x="448" y="391" width="4" height="9"/>
<rect class="cc" x="452" y="391" width="4" height="9"/>
<rect class="cb" x="456" y="391" width="4" height="9"/>
<rect class="cc" x="460" y="391" width="4" height="9"/>
<rect class="ce" x="464" y="391" width="9" height="9"/>
<rect class="cg" x="473" y="391" width="4" height="9"/>
<rect class="cd" x="477" y="391" width="4" height="9"/>
<rect class="cc" x="481" y="391" width="4" height="9"/>
<rect class="cd" x="485" y="391" width="8" height="9"/>
<rect class="ce" x="493" y="391" width="13" height="9"/>
<rect class="cd" x="506" y="391" width="4" height="9"/>
<rect class="cf" x="510" y="391" width="8" height="9"/>
<rect class="cg" x="518" y="391" width="4" height="9"/>
<rect class="cf" x="522" y="391" width="4" height="9"/>
<rect class="ce" x="526" y="391" width="8" height="9"/>
<rect class="cf" x="534" y="391" width="4" height="9"/>
<rect class="cb" x="538" y="391" width="5" height="9"/>
<rect class="cc" x="543" y="391" width="4" height="9"/>
<rect class="cf" x="547" y="391" width="8" height="9"/>
<rect class="ce" x="555" y="391" width="4" height="9"/>
<rect class="cd" x="559" y="391" width="8" height="9"/>
<rect class="ca" x="567" y="391" width="4" height="9"/>
<rect class="ce" x="571" y="391" width="4" height="9"/>
<rect class="c9" x="575" y="391" width="5" height="9"/>
<rect class="cc" x="580" y="391" width="4" height="9"/>
<rect class="c8" x="584" y="391" width="4" height="9"/>
<rect class="c9" x="588" y="391" width="4" height="9"/>
<rect class="ce" x="592" y="391" width="4" height="9"/>
<rect class="c3" x="596" y="391" width="4" height="9"/>
<rect class="c7" x="296" y="400" width="4" height="9"/>
<rect class="c8" x="300" y="400" width="12" height="9"/>
<rect class="ca" x="312" y="400" width="5" height="9"/>
<rect class="cd" x="317" y="400" width="4" height="9"/>
<rect class="cf" x="321" y="400" width="4" height="9"/>
<rect class="ce" x="325" y="400" width="4" height="9"/>
<rect class="cg" x="329" y="400" width="4" height="9"/>
<rect class="cf" x="333" y="400" width="4" height="9"/>
<rect class="cd" x="337" y="400" width="4" height="9"/>
<rect class="cf" x="341" y="400" width="4" height="9"/>
<rect class="cd" x="345" y="400" width="4" height="9"/>
<rect class="ce" x="349" y="400" width="13" height="9"/>
<rect class="cc" x="362" y="400" width="4" height="9"/>
<rect class="ch" x="366" y="400" width="4" height="9"/>
<rect class="cd" x="370" y="400" width="8" height="9"/>
<rect class="cf" x="378" y="400" width="4" height="9"/>
<rect class="ce" x="382" y="400" width="4" height="9"/>
<rect class="ca" x="386" y="400" width="5" height="9"/>
<rect class="cf" x="391" y="400" width="4" height="9"/>
<rect class="cd" x="395" y="400" width="8" height="9"/>
<rect class="ce" x="403" y="400" width="4" height="9"/>
<rect class="cg" x="407" y="400" width="4" height="9"/>
<rect class="cc" x="411" y="400" width="4" height="9"/>
<rect class="cd" x="415" y="400" width="4" height="9"/>
<rect class="cb" x="419" y="400" width="4" height="9"/>
<rect class="ce" x="423" y="400" width="9" height="9"/>
<rect class="ca" x="432" y="400" width="4" height="9"/>
<rect class="cc" x="436" y="400" width="4" height="9"/>
<rect class="cb" x="440" y="400" width="4" height="9"/>
<rect class="ce" x="444" y="400" width="4" height="9"/>
<rect class="ca" x="448" y="400" width="4" height="9"/>
<rect class="cd" x="452" y="400" width="4" height="9"/>
<rect class="cb" x="456" y="400" width="13" height="9"/>
<rect class="ch" x="469" y="400" width="4" height="9"/>
<rect class="ce" x="473" y="400" width="4" height="9"/>
<rect class="cc" x="477" y="400" width="4" height="9"/>
<rect class="cg" x="481" y="400" width="4" height="9"/>
<rect class="ce" x="485" y="400" width="12" height="9"/>
<rect class="cb" x="497" y="400" width="4" height="9"/>
<rect class="ca" x="501" y="400" width="5" height="9"/>
<rect class="cd" x="506" y="400" width="8" height="9"/>
<rect class="ce" x="514" y="400" width="12" height="9"/>
<rect class="cd" x="526" y="400" width="4" height="9"/>
<rect class="cf" x="530" y="400" width="4" height="9"/>
<rect class="cc" x="534" y="400" width="4" height="9"/>
<rect class="cb" x="538" y="400" width="5" height="9"/>
<rect class="cd" x="543" y="400" width="4" height="9"/>
<rect class="cf" x="547" y="400" width="8" height="9"/>
<rect class="cg" x="555" y="400" width="4" height="9"/>
<rect class="ce" x="559" y="400" width="8" height="9"/>
<rect class="cd" x="567" y="400" width="4" height="9"/>
<rect class="ce" x="571" y="400" width="4" height="9"/>
<rect class="cc" x="575" y="400" width="5" height="9"/>
<rect class="ce" x="580" y="400" width="4" height="9"/>
<rect class="cc" x="584" y="400" width="4" height="9"/>
<rect class="c9" x="588" y="400" width="4" height="9"/>
<rect class="ce" x="592" y="400" width="4" height="9"/>
<rect class="c2" x="596" y="400" width="4" height="9"/>
<rect class="c8" x="296" y="409" width="4" height="9"/>
<rect class="c9" x="300" y="409" width="4" height="9"/>
<rect class="c7" x="304" y="409" width="4" height="9"/>
<rect class="c5" x="308" y="409" width="4" height="9"/>
<rect class="cf" x="312" y="409" width="5" height="9"/>
<rect class="cg" x="317" y="409" width="4" height="9"/>
<rect class="cd" x="321" y="409" width="4" height="9"/>
<rect class="cg" x="325" y="409" width="4" height="9"/>
<rect class="cf" x="329" y="409" width="4" height="9"/>
<rect class="cd" x="333" y="409" width="4" height="9"/>
<rect class="cc" x="337" y="409" width="4" height="9"/>
<rect class="ce" x="341" y="409" width="4" height="9"/>
<rect class="cc" x="345" y="409" width="4" height="9"/>
<rect class="cb" x="349" y="409" width="5" height="9"/>
<rect class="ca" x="354" y="409" width="4" height="9"/>
<rect class="cf" x="358" y="409" width="4" height="9"/>
<rect class="c9" x="362" y="409" width="4" height="9"/>
<rect class="ci" x="366" y="409" width="4" height="9"/>
<rect class="cf" x="370" y="409" width="8" height="9"/>
<rect class="cd" x="378" y="409" width="13" height="9"/>
<rect class="cc" x="391" y="409" width="4" height="9"/>
<rect class="cb" x="395" y="409" width="8" height="9"/>
<rect class="cc" x="403" y="409" width="4" height="9"/>
<rect class="cf" x="407" y="409" width="4" height="9"/>
<rect class="c9" x="411" y="409" width="4" height="9"/>
<rect class="cb" x="415" y="409" width="4" height="9"/>
<rect class="cd" x="419" y="409" width="4" height="9"/>
<rect class="cf" x="423" y="409" width="5" height="9"/>
<rect class="cd" x="428" y="409" width="4" height="9"/>
<rect class="cb" x="432" y="409" width="4" height="9"/>
<rect class="ch" x="436" y="409" width="4" height="9"/>
<rect class="ca" x="440" y="409" width="4" height="9"/>
<rect class="cc" x="444" y="409" width="4" height="9"/>
<rect class="cb" x="448" y="409" width="12" height="9"/>
<rect class="cf" x="460" y="409" width="4" height="9"/>
<rect class="cg" x="464" y="409" width="5" height="9"/>
<rect class="cf" x="469" y="409" width="4" height="9"/>
<rect class="cd" x="473" y="409" width="4" height="9"/>
<rect class="ce" x="477" y="409" width="12" height="9"/>
<rect class="cd" x="489" y="409" width="4" height="9"/>
<rect class="cf" x="493" y="409" width="4" height="9"/>
<rect class="ch" x="497" y="409" width="4" height="9"/>
<rect class="cc" x="501" y="409" width="5" height="9"/>
<rect class="cd" x="506" y="409" width="4" height="9"/>
<rect class="cf" x="510" y="409" width="4" height="9"/>
<rect class="ci" x="514" y="409" width="4" height="9"/>
<rect class="cd" x="518" y="409" width="8" height="9"/>
<rect class="ce" x="526" y="409" width="12" height="9"/>
<rect class="cc" x="538" y="409" width="5" height="9"/>
<rect class="cd" x="543" y="409" width="24" height="9"/>
<rect class="c9" x="567" y="409" width="4" height="9"/>
<rect class="ce" x="571" y="409" width="4" height="9"/>
<rect class="c9" x="575" y="409" width="5" height="9"/>
<rect class="cc" x="580" y="409" width="4" height="9"/>
<rect class="cb" x="584" y="409" width="12" height="9"/>
<rect class="c5" x="596" y="409" width="4" height="9"/>
<rect class="c9" x="296" y="418" width="8" height="9"/>
<rect class="ca" x="304" y="418" width="4" height="9"/>
<rect class="c9" x="308" y="418" width="4" height="9"/>
<rect class="cd" x="312" y="418" width="9" height="9"/>
<rect class="ce" x="321" y="418" width="4" height="9"/>
<rect class="cd" x="325" y="418" width="4" height="9"/>
<rect class="cc" x="329" y="418" width="4" height="9"/>
<rect class="cg" x="333" y="418" width="4" height="9"/>
<rect class="cf" x="337" y="418" width="4" height="9"/>
<rect class="cd" x="341" y="418" width="21" height="9"/>
<rect class="cb" x="362" y="418" width="4" height="9"/>
<rect class="ce" x="366" y="418" width="4" height="9"/>
<rect class="cd" x="370" y="418" width="8" height="9"/>
<rect class="cc" x="378" y="418" width="4" height="9"/>
<rect class="ce" x="382" y="418" width="4" height="9"/>
<rect class="cc" x="386" y="418" width="5" height="9"/>
<rect class="cb" x="391" y="418" width="4" height="9"/>
<rect class="cd" x="395" y="418" width="8" height="9"/>
<rect class="ce" x="403" y="418" width="12" height="9"/>
<rect class="cd" x="415" y="418" width="8" height="9"/>
<rect class="ce" x="423" y="418" width="5" height="9"/>
<rect class="cc" x="428" y="418" width="4" height="9"/>
<rect class="ca" x="432" y="418" width="4" height="9"/>
<rect class="cd" x="436" y="418" width="4" height="9"/>
<rect class="cc" x="440" y="418" width="4" height="9"/>
<rect class="cf" x="444" y="418" width="4" height="9"/>
<rect class="c6" x="448" y="418" width="4" height="9"/>
<rect class="c7" x="452" y="418" width="4" height="9"/>
<rect class="cb" x="456" y="418" width="4" height="9"/>
<rect class="cd" x="460" y="418" width="4" height="9"/>
<rect class="cf" x="464" y="418" width="5" height="9"/>
<rect class="cg" x="469" y="418" width="8" height="9"/>
<rect class="cd" x="477" y="418" width="4" height="9"/>
<rect class="cg" x="481" y="418" width="4" height="9"/>
<rect class="cc" x="485" y="418" width="4" height="9"/>
<rect class="cd" x="489" y="418" width="8" height="9"/>
<rect class="cf" x="497" y="418" width="4" height="9"/>
<rect class="cd" x="501" y="418" width="5" height="9"/>
<rect class="cb" x="506" y="418" width="4" height="9"/>
<rect class="ce" x="510" y="418" width="4" height="9"/>
<rect class="cg" x="514" y="418" width="4" height="9"/>
<rect class="cd" x="518" y="418" width="8" height="9"/>
<rect class="cc" x="526" y="418" width="4" height="9"/>
<rect class="ce" x="530" y="418" width="4" height="9"/>
<rect class="cf" x="534" y="418" width="4" height="9"/>
<rect class="cd" x="538" y="418" width="5" height="9"/>
<rect class="cb" x="543" y="418" width="4" height="9"/>
<rect class="ce" x="547" y="418" width="4" height="9"/>
<rect class="cc" x="551" y="418" width="12" height="9"/>
<rect class="ce" x="563" y="418" width="4" height="9"/>
<rect class="cb" x="567" y="418" width="4" height="9"/>
<rect class="cg" x="571" y="418" width="4" height="9"/>
<rect class="c9" x="575" y="418" width="5" height="9"/>
<rect class="cb" x="580" y="418" width="8" height="9"/>
<rect class="c9" x="588" y="418" width="4" height="9"/>
<rect class="cc" x="592" y="418" width="4" height="9"/>
<rect class="c2" x="596" y="418" width="4" height="9"/>
<rect class="cg" x="296" y="427" width="8" height="9"/>
<rect class="ce" x="304" y="427" width="4" height="9"/>
<rect class="cb" x="308" y="427" width="4" height="9"/>
<rect class="c8" x="312" y="427" width="5" height="9"/>
<rect class="cf" x="317" y="427" width="4" height="9"/>
<rect class="cc" x="321" y="427" width="8" height="9"/>
<rect class="cd" x="329" y="427" width="4" height="9"/>
<rect class="c9" x="333" y="427" width="4" height="9"/>
<rect class="cf" x="337" y="427" width="4" height="9"/>
<rect class="cd" x="341" y="427" width="8" height="9"/>
<rect class="ce" x="349" y="427" width="5" height="9"/>
<rect class="cf" x="354" y="427" width="4" height="9"/>
<rect class="cc" x="358" y="427" width="4" height="9"/>
<rect class="cd" x="362" y="427" width="4" height="9"/>
<rect class="cg" x="366" y="427" width="4" height="9"/>
<rect class="ce" x="370" y="427" width="4" height="9"/>
<rect class="cb" x="374" y="427" width="4" height="9"/>
<rect class="ce" x="378" y="427" width="4" height="9"/>
<rect class="cd" x="382" y="427" width="4" height="9"/>
<rect class="ce" x="386" y="427" width="5" height="9"/>
<rect class="cf" x="391" y="427" width="4" height="9"/>
<rect class="ce" x="395" y="427" width="4" height="9"/>
<rect class="ca" x="399" y="427" width="4" height="9"/>
<rect class="cc" x="403" y="427" width="8" height="9"/>
<rect class="cg" x="411" y="427" width="4" height="9"/>
<rect class="ch" x="415" y="427" width="4" height="9"/>
<rect class="ce" x="419" y="427" width="4" height="9"/>
<rect class="ch" x="423" y="427" width="5" height="9"/>
<rect class="cc" x="428" y="427" width="4" height="9"/>
<rect class="cb" x="432" y="427" width="8" height="9"/>
<rect class="cd" x="440" y="427" width="4" height="9"/>
<rect class="ce" x="444" y="427" width="4" height="9"/>
<rect class="cc" x="448" y="427" width="12" height="9"/>
<rect class="ce" x="460" y="427" width="4" height="9"/>
<rect class="ca" x="464" y="427" width="5" height="9"/>
<rect class="cf" x="469" y="427" width="4" height="9"/>
<rect class="ca" x="473" y="427" width="4" height="9"/>
<rect class="cb" x="477" y="427" width="4" height="9"/>
<rect class="ca" x="481" y="427" width="4" height="9"/>
<rect class="cc" x="485" y="427" width="8" height="9"/>
<rect class="cd" x="493" y="427" width="4" height="9"/>
<rect class="ca" x="497" y="427" width="4" height="9"/>
<rect class="ce" x="501" y="427" width="5" height="9"/>
<rect class="cd" x="506" y="427" width="4" height="9"/>
<rect class="ce" x="510" y="427" width="4" height="9"/>
<rect class="cc" x="514" y="427" width="4" height="9"/>
<rect class="cf" x="518" y="427" width="8" height="9"/>
<rect class="ce" x="526" y="427" width="4" height="9"/>
<rect class="cd" x="530" y="427" width="8" height="9"/>
<rect class="ce" x="538" y="427" width="5" height="9"/>
<rect class="cc" x="543" y="427" width="4" height="9"/>
<rect class="cd" x="547" y="427" width="4" height="9"/>
<rect class="cc" x="551" y="427" width="4" height="9"/>
<rect class="cb" x="555" y="427" width="16" height="9"/>
<rect class="cd" x="571" y="427" width="4" height="9"/>
<rect class="c8" x="575" y="427" width="5" height="9"/>
<rect class="ce" x="580" y="427" width="4" height="9"/>
<rect class="ca" x="584" y="427" width="4" height="9"/>
<rect class="c9" x="588" y="427" width="4" height="9"/>
<rect class="ce" x="592" y="427" width="4" height="9"/>
<rect class="c2" x="596" y="427" width="4" height="9"/>
<rect class="ce" x="296" y="436" width="4" height="9"/>
<rect class="cd" x="300" y="436" width="4" height="9"/>
<rect class="cc" x="304" y="436" width="4" height="9"/>
<rect class="c9" x="308" y="436" width="4" height="9"/>
<rect class="ca" x="312" y="436" width="5" height="9"/>
<rect class="c7" x="317" y="436" width="4" height="9"/>
<rect class="cd" x="321" y="436" width="4" height="9"/>
<rect class="cb" x="325" y="436" width="4" height="9"/>
<rect class="cd" x="329" y="436" width="4" height="9"/>
<rect class="cc" x="333" y="436" width="4" height="9"/>
<rect class="cf" x="337" y="436" width="4" height="9"/>
<rect class="cd" x="341" y="436" width="13" height="9"/>
<rect class="ci" x="354" y="436" width="4" height="9"/>
<rect class="cc" x="358" y="436" width="4" height="9"/>
<rect class="c9" x="362" y="436" width="4" height="9"/>
<rect class="ce" x="366" y="436" width="8" height="9"/>
<rect class="cb" x="374" y="436" width="4" height="9"/>
<rect class="cc" x="378" y="436" width="8" height="9"/>
<rect class="cd" x="386" y="436" width="5" height="9"/>
<rect class="cf" x="391" y="436" width="8" height="9"/>
<rect class="c7" x="399" y="436" width="4" height="9"/>
<rect class="cc" x="403" y="436" width="8" height="9"/>
<rect class="cf" x="411" y="436" width="8" height="9"/>
<rect class="ce" x="419" y="436" width="4" height="9"/>
<rect class="ch" x="423" y="436" width="5" height="9"/>
<rect class="ca" x="428" y="436" width="4" height="9"/>
<rect class="ce" x="432" y="436" width="4" height="9"/>
<rect class="cb" x="436" y="436" width="4" height="9"/>
<rect class="ce" x="440" y="436" width="4" height="9"/>
<rect class="cd" x="444" y="436" width="4" height="9"/>
<rect class="cc" x="448" y="436" width="4" height="9"/>
<rect class="cb" x="452" y="436" width="4" height="9"/>
<rect class="cc" x="456" y="436" width="4" height="9"/>
<rect class="cf" x="460" y="436" width="4" height="9"/>
<rect class="cc" x="464" y="436" width="5" height="9"/>
<rect class="cf" x="469" y="436" width="4" height="9"/>
<rect class="cc" x="473" y="436" width="4" height="9"/>
<rect class="cf" x="477" y="436" width="8" height="9"/>
<rect class="ce" x="485" y="436" width="4" height="9"/>
<rect class="c8" x="489" y="436" width="4" height="9"/>
<rect class="cf" x="493" y="436" width="4" height="9"/>
<rect class="cd" x="497" y="436" width="4" height="9"/>
<rect class="ch" x="501" y="436" width="5" height="9"/>
<rect class="cb" x="506" y="436" width="4" height="9"/>
<rect class="cg" x="510" y="436" width="4" height="9"/>
<rect class="ca" x="514" y="436" width="4" height="9"/>
<rect class="cg" x="518" y="436" width="4" height="9"/>
<rect class="ce" x="522" y="436" width="4" height="9"/>
<rect class="cd" x="526" y="436" width="4" height="9"/>
<rect class="cg" x="530" y="436" width="4" height="9"/>
<rect class="cf" x="534" y="436" width="4" height="9"/>
<rect class="cd" x="538" y="436" width="5" height="9"/>
<rect class="cb" x="543" y="436" width="4" height="9"/>
<rect class="ce" x="547" y="436" width="4" height="9"/>
<rect class="cc" x="551" y="436" width="4" height="9"/>
<rect class="ca" x="555" y="436" width="4" height="9"/>
<rect class="cc" x="559" y="436" width="4" height="9"/>
<rect class="c9" x="563" y="436" width="4" height="9"/>
<rect class="cb" x="567" y="436" width="4" height="9"/>
<rect class="cd" x="571" y="436" width="4" height="9"/>
<rect class="c9" x="575" y="436" width="5" height="9"/>
<rect class="ch" x="580" y="436" width="4" height="9"/>
<rect class="cc" x="584" y="436" width="4" height="9"/>
<rect class="ce" x="588" y="436" width="4" height="9"/>
<rect class="c9" x="592" y="436" width="4" height="9"/>
<rect class="c4" x="596" y="436" width="4" height="9"/>
<rect class="ch" x="296" y="445" width="12" height="9"/>
<rect class="cc" x="308" y="445" width="4" height="9"/>
<rect class="c9" x="312" y="445" width="5" height="9"/>
<rect class="cb" x="317" y="445" width="4" height="9"/>
<rect class="cc" x="321" y="445" width="4" height="9"/>
<rect class="c9" x="325" y="445" width="4" height="9"/>
<rect class="cb" x="329" y="445" width="4" height="9"/>
<rect class="cc" x="333" y="445" width="4" height="9"/>
<rect class="ca" x="337" y="445" width="4" height="9"/>
<rect class="cd" x="341" y="445" width="13" height="9"/>
<rect class="cf" x="354" y="445" width="4" height="9"/>
<rect class="cc" x="358" y="445" width="8" height="9"/>
<rect class="cf" x="366" y="445" width="4" height="9"/>
<rect class="cb" x="370" y="445" width="4" height="9"/>
<rect class="cd" x="374" y="445" width="4" height="9"/>
<rect class="ce" x="378" y="445" width="4" height="9"/>
<rect class="cc" x="382" y="445" width="4" height="9"/>
<rect class="cd" x="386" y="445" width="5" height="9"/>
<rect class="cf" x="391" y="445" width="12" height="9"/>
<rect class="cg" x="403" y="445" width="4" height="9"/>
<rect class="cf" x="407" y="445" width="4" height="9"/>
<rect class="ch" x="411" y="445" width="4" height="9"/>
<rect class="cj" x="415" y="445" width="4" height="9"/>
<rect class="cf" x="419" y="445" width="4" height="9"/>
<rect class="ch" x="423" y="445" width="5" height="9"/>
<rect class="cg" x="428" y="445" width="4" height="9"/>
<rect class="cd" x="432" y="445" width="4" height="9"/>
<rect class="c9" x="436" y="445" width="4" height="9"/>
<rect class="ce" x="440" y="445" width="4" height="9"/>
<rect class="cg" x="444" y="445" width="4" height="9"/>
<rect class="ca" x="448" y="445" width="4" height="9"/>
<rect class="cc" x="452" y="445" width="4" height="9"/>
<rect class="c9" x="456" y="445" width="4" height="9"/>
<rect class="cd" x="460" y="445" width="4" height="9"/>
<rect class="cc" x="464" y="445" width="5" height="9"/>
<rect class="cb" x="469" y="445" width="4" height="9"/>
<rect class="c9" x="473" y="445" width="4" height="9"/>
<rect class="ca" x="477" y="445" width="8" height="9"/>
<rect class="cd" x="485" y="445" width="4" height="9"/>
<rect class="cb" x="489" y="445" width="4" height="9"/>
<rect class="ce" x="493" y="445" width="8" height="9"/>
<rect class="cg" x="501" y="445" width="5" height="9"/>
<rect class="cd" x="506" y="445" width="4" height="9"/>
<rect class="ce" x="510" y="445" width="4" height="9"/>
<rect class="cc" x="514" y="445" width="4" height="9"/>
<rect class="cd" x="518" y="445" width="4" height="9"/>
<rect class="cf" x="522" y="445" width="4" height="9"/>
<rect class="cc" x="526" y="445" width="4" height="9"/>
<rect class="cd" x="530" y="445" width="13" height="9"/>
<rect class="cc" x="543" y="445" width="4" height="9"/>
<rect class="cd" x="547" y="445" width="4" height="9"/>
<rect class="cb" x="551" y="445" width="4" height="9"/>
<rect class="cc" x="555" y="445" width="8" height="9"/>
<rect class="ce" x="563" y="445" width="12" height="9"/>
<rect class="ca" x="575" y="445" width="9" height="9"/>
<rect class="c9" x="584" y="445" width="4" height="9"/>
<rect class="cb" x="588" y="445" width="4" height="9"/>
<rect class="ca" x="592" y="445" width="4" height="9"/>
<rect class="c4" x="596" y="445" width="4" height="9"/>
<rect class="ch" x="296" y="454" width="4" height="9"/>
<rect class="ci" x="300" y="454" width="4" height="9"/>
<rect class="cg" x="304" y="454" width="4" height="9"/>
<rect class="cd" x="308" y="454" width="4" height="9"/>
<rect class="c7" x="312" y="454" width="5" height="9"/>
<rect class="cb" x="317" y="454" width="8" height="9"/>
<rect class="c9" x="325" y="454" width="4" height="9"/>
<rect class="cb" x="329" y="454" width="4" height="9"/>
<rect class="cc" x="333" y="454" width="4" height="9"/>
<rect class="ce" x="337" y="454" width="4" height="9"/>
<rect class="cc" x="341" y="454" width="4" height="9"/>
<rect class="cd" x="345" y="454" width="4" height="9"/>
<rect class="ce" x="349" y="454" width="5" height="9"/>
<rect class="ch" x="354" y="454" width="4" height="9"/>
<rect class="cb" x="358" y="454" width="4" height="9"/>
<rect class="c9" x="362" y="454" width="4" height="9"/>
<rect class="cd" x="366" y="454" width="4" height="9"/>
<rect class="cc" x="370" y="454" width="4" height="9"/>
<rect class="ca" x="374" y="454" width="4" height="9"/>
<rect class="cc" x="378" y="454" width="4" height="9"/>
<rect class="cb" x="382" y="454" width="4" height="9"/>
<rect class="cf" x="386" y="454" width="5" height="9"/>
<rect class="cg" x="391" y="454" width="4" height="9"/>
<rect class="ce" x="395" y="454" width="8" height="9"/>
<rect class="cc" x="403" y="454" width="4" height="9"/>
<rect class="ce" x="407" y="454" width="4" height="9"/>
<rect class="ci" x="411" y="454" width="4" height="9"/>
<rect class="cj" x="415" y="454" width="4" height="9"/>
<rect class="cf" x="419" y="454" width="4" height="9"/>
<rect class="ci" x="423" y="454" width="5" height="9"/>
<rect class="ce" x="428" y="454" width="4" height="9"/>
<rect class="cd" x="432" y="454" width="4" height="9"/>
<rect class="cc" x="436" y="454" width="4" height="9"/>
<rect class="cf" x="440" y="454" width="4" height="9"/>
<rect class="cg" x="444" y="454" width="4" height="9"/>
<rect class="cd" x="448" y="454" width="8" height="9"/>
<rect class="cc" x="456" y="454" width="4" height="9"/>
<rect class="cg" x="460" y="454" width="4" height="9"/>
<rect class="cc" x="464" y="454" width="5" height="9"/>
<rect class="cb" x="469" y="454" width="4" height="9"/>
<rect class="ca" x="473" y="454" width="4" height="9"/>
<rect class="cg" x="477" y="454" width="4" height="9"/>
<rect class="cd" x="481" y="454" width="4" height="9"/>
<rect class="cc" x="485" y="454" width="4" height="9"/>
<rect class="c9" x="489" y="454" width="4" height="9"/>
<rect class="cc" x="493" y="454" width="4" height="9"/>
<rect class="cb" x="497" y="454" width="4" height="9"/>
<rect class="ch" x="501" y="454" width="5" height="9"/>
<rect class="ce" x="506" y="454" width="8" height="9"/>
<rect class="cb" x="514" y="454" width="4" height="9"/>
<rect class="cc" x="518" y="454" width="4" height="9"/>
<rect class="cd" x="522" y="454" width="8" height="9"/>
<rect class="ca" x="530" y="454" width="4" height="9"/>
<rect class="cf" x="534" y="454" width="4" height="9"/>
<rect class="cb" x="538" y="454" width="9" height="9"/>
<rect class="cc" x="547" y="454" width="4" height="9"/>
<rect class="ca" x="551" y="454" width="4" height="9"/>
<rect class="cb" x="555" y="454" width="8" height="9"/>
<rect class="ca" x="563" y="454" width="4" height="9"/>
<rect class="cb" x="567" y="454" width="8" height="9"/>
<rect class="c9" x="575" y="454" width="5" height="9"/>
<rect class="ch" x="580" y="454" width="4" height="9"/>
<rect class="ca" x="584" y="454" width="4" height="9"/>
<rect class="cb" x="588" y="454" width="4" height="9"/>
<rect class="ca" x="592" y="454" width="4" height="9"/>
<rect class="c5" x="596" y="454" width="4" height="9"/>
<rect class="ce" x="296" y="463" width="8" height="9"/>
<rect class="cf" x="304" y="463" width="4" height="9"/>
<rect class="cc" x="308" y="463" width="4" height="9"/>
<rect class="c6" x="312" y="463" width="5" height="9"/>
<rect class="cc" x="317" y="463" width="4" height="9"/>
<rect class="ca" x="321" y="463" width="4" height="9"/>
<rect class="cb" x="325" y="463" width="8" height="9"/>
<rect class="cd" x="333" y="463" width="4" height="9"/>
<rect class="ce" x="337" y="463" width="8" height="9"/>
<rect class="cd" x="345" y="463" width="9" height="9"/>
<rect class="cf" x="354" y="463" width="4" height="9"/>
<rect class="cd" x="358" y="463" width="4" height="9"/>
<rect class="cc" x="362" y="463" width="8" height="9"/>
<rect class="ce" x="370" y="463" width="4" height="9"/>
<rect class="cb" x="374" y="463" width="4" height="9"/>
<rect class="cc" x="378" y="463" width="4" height="9"/>
<rect class="cb" x="382" y="463" width="4" height="9"/>
<rect class="cg" x="386" y="463" width="5" height="9"/>
<rect class="cf" x="391" y="463" width="12" height="9"/>
<rect class="cc" x="403" y="463" width="4" height="9"/>
<rect class="cg" x="407" y="463" width="4" height="9"/>
<rect class="ch" x="411" y="463" width="8" height="9"/>
<rect class="ce" x="419" y="463" width="4" height="9"/>
<rect class="ci" x="423" y="463" width="5" height="9"/>
<rect class="cg" x="428" y="463" width="4" height="9"/>
<rect class="ce" x="432" y="463" width="4" height="9"/>
<rect class="cd" x="436" y="463" width="4" height="9"/>
<rect class="cb" x="440" y="463" width="4" height="9"/>
<rect class="cd" x="444" y="463" width="4" height="9"/>
<rect class="ca" x="448" y="463" width="4" height="9"/>
<rect class="cc" x="452" y="463" width="4" height="9"/>
<rect class="ca" x="456" y="463" width="4" height="9"/>
<rect class="ce" x="460" y="463" width="4" height="9"/>
<rect class="c9" x="464" y="463" width="5" height="9"/>
<rect class="cd" x="469" y="463" width="8" height="9"/>
<rect class="cc" x="477" y="463" width="4" height="9"/>
<rect class="cd" x="481" y="463" width="4" height="9"/>
<rect class="cc" x="485" y="463" width="4" height="9"/>
<rect class="ca" x="489" y="463" width="4" height="9"/>
<rect class="cd" x="493" y="463" width="4" height="9"/>
<rect class="ce" x="497" y="463" width="4" height="9"/>
<rect class="ch" x="501" y="463" width="5" height="9"/>
<rect class="cf" x="506" y="463" width="4" height="9"/>
<rect class="ch" x="510" y="463" width="4" height="9"/>
<rect class="cd" x="514" y="463" width="4" height="9"/>
<rect class="cf" x="518" y="463" width="4" height="9"/>
<rect class="ca" x="522" y="463" width="4" height="9"/>
<rect class="cf" x="526" y="463" width="8" height="9"/>
<rect class="ch" x="534" y="463" width="4" height="9"/>
<rect class="cd" x="538" y="463" width="5" height="9"/>
<rect class="cb" x="543" y="463" width="4" height="9"/>
<rect class="cf" x="547" y="463" width="4" height="9"/>
<rect class="cc" x="551" y="463" width="4" height="9"/>
<rect class="c9" x="555" y="463" width="4" height="9"/>
<rect class="ca" x="559" y="463" width="4" height="9"/>
<rect class="cb" x="563" y="463" width="4" height="9"/>
<rect class="c9" x="567" y="463" width="4" height="9"/>
<rect class="cc" x="571" y="463" width="4" height="9"/>
<rect class="c7" x="575" y="463" width="5" height="9"/>
<rect class="ce" x="580" y="463" width="4" height="9"/>
<rect class="c7" x="584" y="463" width="4" height="9"/>
<rect class="c8" x="588" y="463" width="4" height="9"/>
<rect class="cc" x="592" y="463" width="4" height="9"/>
<rect class="c6" x="596" y="463" width="4" height="9"/>
<rect class="ci" x="296" y="472" width="4" height="9"/>
<rect class="cj" x="300" y="472" width="12" height="9"/>
<rect class="c7" x="312" y="472" width="5" height="9"/>
<rect class="c8" x="317" y="472" width="4" height="9"/>
<rect class="ce" x="321" y="472" width="4" height="9"/>
<rect class="c9" x="325" y="472" width="4" height="9"/>
<rect class="ce" x="329" y="472" width="4" height="9"/>
<rect class="cc" x="333" y="472" width="4" height="9"/>
<rect class="ce" x="337" y="472" width="4" height="9"/>
<rect class="cf" x="341" y="472" width="4" height="9"/>
<rect class="ce" x="345" y="472" width="13" height="9"/>
<rect class="cc" x="358" y="472" width="4" height="9"/>
<rect class="c9" x="362" y="472" width="4" height="9"/>
<rect class="cb" x="366" y="472" width="4" height="9"/>
<rect class="ca" x="370" y="472" width="8" height="9"/>
<rect class="c9" x="378" y="472" width="4" height="9"/>
<rect class="cc" x="382" y="472" width="4" height="9"/>
<rect class="cg" x="386" y="472" width="9" height="9"/>
<rect class="cf" x="395" y="472" width="8" height="9"/>
<rect class="cg" x="403" y="472" width="12" height="9"/>
<rect class="cf" x="415" y="472" width="4" height="9"/>
<rect class="ce" x="419" y="472" width="4" height="9"/>
<rect class="ch" x="423" y="472" width="5" height="9"/>
<rect class="c9" x="428" y="472" width="4" height="9"/>
<rect class="cd" x="432" y="472" width="4" height="9"/>
<rect class="cb" x="436" y="472" width="4" height="9"/>
<rect class="cd" x="440" y="472" width="8" height="9"/>
<rect class="c9" x="448" y="472" width="4" height="9"/>
<rect class="cf" x="452" y="472" width="4" height="9"/>
<rect class="ca" x="456" y="472" width="4" height="9"/>
<rect class="cb" x="460" y="472" width="4" height="9"/>
<rect class="cd" x="464" y="472" width="5" height="9"/>
<rect class="cf" x="469" y="472" width="4" height="9"/>
<rect class="ce" x="473" y="472" width="4" height="9"/>
<rect class="cb" x="477" y="472" width="4" height="9"/>
<rect class="cc" x="481" y="472" width="4" height="9"/>
<rect class="cd" x="485" y="472" width="4" height="9"/>
<rect class="ca" x="489" y="472" width="4" height="9"/>
<rect class="ce" x="493" y="472" width="4" height="9"/>
<rect class="cd" x="497" y="472" width="9" height="9"/>
<rect class="ca" x="506" y="472" width="4" height="9"/>
<rect class="cd" x="510" y="472" width="8" height="9"/>
<rect class="ce" x="518" y="472" width="4" height="9"/>
<rect class="cg" x="522" y="472" width="4" height="9"/>
<rect class="cc" x="526" y="472" width="4" height="9"/>
<rect class="cd" x="530" y="472" width="4" height="9"/>
<rect class="cc" x="534" y="472" width="4" height="9"/>
<rect class="cd" x="538" y="472" width="5" height="9"/>
<rect class="ce" x="543" y="472" width="4" height="9"/>
<rect class="cc" x="547" y="472" width="4" height="9"/>
<rect class="c9" x="551" y="472" width="4" height="9"/>
<rect class="cc" x="555" y="472" width="4" height="9"/>
<rect class="c9" x="559" y="472" width="4" height="9"/>
<rect class="ce" x="563" y="472" width="4" height="9"/>
<rect class="cd" x="567" y="472" width="8" height="9"/>
<rect class="cc" x="575" y="472" width="5" height="9"/>
<rect class="cd" x="580" y="472" width="4" height="9"/>
<rect class="cc" x="584" y="472" width="4" height="9"/>
<rect class="cb" x="588" y="472" width="4" height="9"/>
<rect class="cd" x="592" y="472" width="4" height="9"/>
<rect class="c7" x="596" y="472" width="4" height="9"/>
</g>
<g class="k">
<rect x="296" y="41" width="305" height="1"/><rect x="296" y="481" width="305" height="1"/><rect x="296" y="41" width="1" height="441"/><rect x="600" y="41" width="1" height="441"/>
<rect x="335" y="476" width="1" height="5"/><rect x="335" y="42" width="1" height="4"/><rect x="376" y="476" width="1" height="5"/><rect x="376" y="42" width="1" height="4"/><rect x="417" y="476" width="1" height="5"/><rect x="417" y="42" width="1" height="4"/><rect x="458" y="476" width="1" height="5"/><rect x="458" y="42" width="1" height="4"/><rect x="499" y="476" width="1" height="5"/><rect x="499" y="42" width="1" height="4"/><rect x="540" y="476" width="1" height="5"/><rect x="540" y="42" width="1" height="4"/><rect x="581" y="476" width="1" height="5"/><rect x="581" y="42" width="1" height="4"/><rect x="297" y="81" width="4" height="1"/><rect x="595" y="81" width="5" height="1"/><rect x="297" y="126" width="4" height="1"/><rect x="595" y="126" width="5" height="1"/><rect x="297" y="171" width="4" height="1"/><rect x="595" y="171" width="5" height="1"/><rect x="297" y="216" width="4" height="1"/><rect x="595" y="216" width="5" height="1"/><rect x="297" y="261" width="4" height="1"/><rect x="595" y="261" width="5" height="1"/><rect x="297" y="305" width="4" height="1"/><rect x="595" y="305" width="5" height="1"/><rect x="297" y="350" width="4" height="1"/><rect x="595" y="350" width="5" height="1"/><rect x="297" y="395" width="4" height="1"/><rect x="595" y="395" width="5" height="1"/><rect x="297" y="440" width="4" height="1"/><rect x="595" y="440" width="5" height="1"/></g>
<g>
<text transform="translate(335.2,496) scale(0.9,1)" text-anchor="middle">10</text><text transform="translate(376.2,496) scale(0.9,1)" text-anchor="middle">20</text><text transform="translate(417.2,496) scale(0.9,1)" text-anchor="middle">30</text><text transform="translate(458.2,496) scale(0.9,1)" text-anchor="middle">40</text><text transform="translate(499.2,496) scale(0.9,1)" text-anchor="middle">50</text><text transform="translate(540.2,496) scale(0.9,1)" text-anchor="middle">60</text><text transform="translate(581.2,496) scale(0.9,1)" text-anchor="middle">70</text><text transform="translate(291.9,85.0) scale(0.95,1)" text-anchor="end">5</text><text transform="translate(291.9,130.0) scale(0.95,1)" text-anchor="end">10</text><text transform="translate(291.9,175.0) scale(0.95,1)" text-anchor="end">15</text><text transform="translate(291.9,220.0) scale(0.95,1)" text-anchor="end">20</text><text transform="translate(291.9,265.0) scale(0.95,1)" text-anchor="end">25</text><text transform="translate(291.9,309.0) scale(0.95,1)" text-anchor="end">30</text><text transform="translate(291.9,354.0) scale(0.95,1)" text-anchor="end">35</text><text transform="translate(291.9,399.0) scale(0.95,1)" text-anchor="end">40</text><text transform="translate(291.9,444.0) scale(0.95,1)" text-anchor="end">45</text>
<text y="511.5"><tspan x="370.40" textLength="49.30" lengthAdjust="spacingAndGlyphs">Samples</tspan> <tspan x="423.15" textLength="42.30" lengthAdjust="spacingAndGlyphs">ordered</tspan> <tspan x="469.40" textLength="11.90" lengthAdjust="spacingAndGlyphs">by</tspan> <tspan x="484.40" textLength="38.80" lengthAdjust="spacingAndGlyphs">S1(G1)</tspan></text>
<text transform="translate(268.6,383) rotate(-90)"><tspan x="-0.40" textLength="36.10" lengthAdjust="spacingAndGlyphs">Genes</tspan> <tspan x="37.40" textLength="58.50" lengthAdjust="spacingAndGlyphs">(reordered</tspan> <tspan x="98.70" textLength="52.50" lengthAdjust="spacingAndGlyphs">according</tspan> <tspan x="155.70" textLength="10.50" lengthAdjust="spacingAndGlyphs">to</tspan> <tspan x="169.10" textLength="70.90" lengthAdjust="spacingAndGlyphs">dendrogram)</tspan></text>
</g>
<g id="cbar">
<rect x="619" y="474" width="25" height="7" fill="#00008f"/><rect x="619" y="467" width="25" height="7" fill="#00009f"/><rect x="619" y="460" width="25" height="7" fill="#0000af"/><rect x="619" y="454" width="25" height="6" fill="#0000bf"/><rect x="619" y="447" width="25" height="7" fill="#0000cf"/><rect x="619" y="440" width="25" height="7" fill="#0000df"/><rect x="619" y="433" width="25" height="7" fill="#0000ef"/><rect x="619" y="426" width="25" height="7" fill="#0000ff"/><rect x="619" y="419" width="25" height="7" fill="#0010ff"/><rect x="619" y="412" width="25" height="7" fill="#0020ff"/><rect x="619" y="405" width="25" height="7" fill="#0030ff"/><rect x="619" y="398" width="25" height="7" fill="#0040ff"/><rect x="619" y="392" width="25" height="6" fill="#0050ff"/><rect x="619" y="385" width="25" height="7" fill="#0060ff"/><rect x="619" y="378" width="25" height="7" fill="#0070ff"/><rect x="619" y="371" width="25" height="7" fill="#0080ff"/><rect x="619" y="364" width="25" height="7" fill="#008fff"/><rect x="619" y="357" width="25" height="7" fill="#009fff"/><rect x="619" y="350" width="25" height="7" fill="#00afff"/><rect x="619" y="344" width="25" height="6" fill="#00bfff"/><rect x="619" y="337" width="25" height="7" fill="#00cfff"/><rect x="619" y="330" width="25" height="7" fill="#00dfff"/><rect x="619" y="323" width="25" height="7" fill="#00efff"/><rect x="619" y="316" width="25" height="7" fill="#00ffff"/><rect x="619" y="309" width="25" height="7" fill="#10ffef"/><rect x="619" y="302" width="25" height="7" fill="#20ffdf"/><rect x="619" y="295" width="25" height="7" fill="#30ffcf"/><rect x="619" y="288" width="25" height="7" fill="#40ffbf"/><rect x="619" y="282" width="25" height="6" fill="#50ffaf"/><rect x="619" y="275" width="25" height="7" fill="#60ff9f"/><rect x="619" y="268" width="25" height="7" fill="#70ff8f"/><rect x="619" y="261" width="25" height="7" fill="#80ff80"/><rect x="619" y="254" width="25" height="7" fill="#8fff70"/><rect x="619" y="247" width="25" height="7" fill="#9fff60"/><rect x="619" y="240" width="25" height="7" fill="#afff50"/><rect x="619" y="234" width="25" height="6" fill="#bfff40"/><rect x="619" y="227" width="25" height="7" fill="#cfff30"/><rect x="619" y="220" width="25" height="7" fill="#dfff20"/><rect x="619" y="213" width="25" height="7" fill="#efff10"/><rect x="619" y="206" width="25" height="7" fill="#ffff00"/><rect x="619" y="199" width="25" height="7" fill="#ffef00"/><rect x="619" y="192" width="25" height="7" fill="#ffdf00"/><rect x="619" y="185" width="25" height="7" fill="#ffcf00"/><rect x="619" y="178" width="25" height="7" fill="#ffbf00"/><rect x="619" y="172" width="25" height="6" fill="#ffaf00"/><rect x="619" y="165" width="25" height="7" fill="#ff9f00"/><rect x="619" y="158" width="25" height="7" fill="#ff8f00"/><rect x="619" y="151" width="25" height="7" fill="#ff8000"/><rect x="619" y="144" width="25" height="7" fill="#ff7000"/><rect x="619" y="137" width="25" height="7" fill="#ff6000"/><rect x="619" y="130" width="25" height="7" fill="#ff5000"/><rect x="619" y="124" width="25" height="6" fill="#ff4000"/><rect x="619" y="117" width="25" height="7" fill="#ff3000"/><rect x="619" y="110" width="25" height="7" fill="#ff2000"/><rect x="619" y="103" width="25" height="7" fill="#ff1000"/><rect x="619" y="96" width="25" height="7" fill="#ff0000"/><rect x="619" y="89" width="25" height="7" fill="#ef0000"/><rect x="619" y="82" width="25" height="7" fill="#df0000"/><rect x="619" y="75" width="25" height="7" fill="#cf0000"/><rect x="619" y="68" width="25" height="7" fill="#bf0000"/><rect x="619" y="62" width="25" height="6" fill="#af0000"/><rect x="619" y="55" width="25" height="7" fill="#9f0000"/><rect x="619" y="48" width="25" height="7" fill="#8f0000"/><rect x="619" y="41" width="25" height="7" fill="#800000"/>
</g>
<g class="k"><rect x="618" y="41" width="27" height="1"/><rect x="618" y="481" width="27" height="1"/><rect x="618" y="41" width="1" height="441"/><rect x="644" y="41" width="1" height="441"/>
<rect x="619" y="95" width="4" height="1"/><rect x="639" y="95" width="5" height="1"/><rect x="619" y="162" width="4" height="1"/><rect x="639" y="162" width="5" height="1"/><rect x="619" y="229" width="4" height="1"/><rect x="639" y="229" width="5" height="1"/><rect x="619" y="297" width="4" height="1"/><rect x="639" y="297" width="5" height="1"/><rect x="619" y="364" width="4" height="1"/><rect x="639" y="364" width="5" height="1"/><rect x="619" y="431" width="4" height="1"/><rect x="639" y="431" width="5" height="1"/></g>
<g><text transform="translate(646.7,99) scale(0.93,1)">0.2</text><text transform="translate(646.7,166) scale(0.93,1)">0</text><text transform="translate(646.7,233) scale(0.93,1)">-0.2</text><text transform="translate(646.7,301) scale(0.93,1)">-0.4</text><text transform="translate(646.7,368) scale(0.93,1)">-0.6</text><text transform="translate(646.7,435) scale(0.93,1)">-0.8</text></g>
<g class="ln">
<rect x="225" y="117" width="14" height="1"/><rect x="225" y="117" width="1" height="41"/><rect x="216" y="135" width="6" height="1"/><rect x="216" y="135" width="1" height="6"/><rect x="213" y="144" width="1" height="82"/><rect x="194" y="175" width="17" height="1"/><rect x="177" y="180" width="14" height="1"/><rect x="177" y="180" width="1" height="6"/><rect x="171" y="189" width="4" height="1"/><rect x="171" y="189" width="1" height="2"/><rect x="166" y="193" width="3" height="1"/><rect x="160" y="198" width="3" height="1"/><rect x="160" y="198" width="1" height="6"/><rect x="157" y="207" width="1" height="6"/><rect x="155" y="219" width="1" height="3"/><rect x="141" y="225" width="11" height="1"/><rect x="141" y="225" width="1" height="6"/><rect x="138" y="237" width="1" height="164"/><rect x="216" y="211" width="1" height="33"/><rect x="216" y="211" width="17" height="1"/><rect x="216" y="243" width="3" height="1"/><rect x="236" y="207" width="3" height="1"/><rect x="129" y="261" width="6" height="1"/><rect x="129" y="255" width="1" height="7"/><rect x="118" y="252" width="9" height="1"/><rect x="118" y="252" width="1" height="6"/><rect x="107" y="261" width="9" height="1"/><rect x="107" y="261" width="1" height="203"/><rect x="99" y="278" width="6" height="1"/><rect x="99" y="273" width="1" height="6"/><rect x="96" y="261" width="1" height="6"/><rect x="138" y="400" width="11" height="1"/><rect x="152" y="396" width="3" height="1"/><rect x="160" y="386" width="79" height="1"/><rect x="110" y="458" width="28" height="1"/>
</g>
<g>
<rect class="k" x="239" y="113" width="3" height="8"/><rect x="240" y="114" width="1" height="6" fill="#00008f"/><rect class="k" x="222" y="131" width="4" height="8"/><rect x="223" y="132" width="2" height="6" fill="#00008f"/><rect class="k" x="214" y="140" width="3" height="8"/><rect x="215" y="141" width="1" height="6" fill="#00008f"/><rect class="k" x="225" y="154" width="3" height="8"/><rect x="226" y="155" width="1" height="6" fill="#00008f"/><rect class="k" x="211" y="172" width="3" height="8"/><rect x="212" y="173" width="1" height="6" fill="#00008f"/><rect class="k" x="191" y="176" width="4" height="8"/><rect x="192" y="177" width="2" height="6" fill="#00008f"/><rect class="k" x="175" y="185" width="3" height="8"/><rect x="176" y="186" width="1" height="6" fill="#00008f"/><rect class="k" x="169" y="190" width="3" height="8"/><rect x="170" y="191" width="1" height="6" fill="#00008f"/><rect class="k" x="163" y="194" width="4" height="8"/><rect x="164" y="195" width="2" height="6" fill="#00008f"/><rect class="k" x="158" y="203" width="3" height="8"/><rect x="159" y="204" width="1" height="6" fill="#00008f"/><rect class="k" x="155" y="212" width="3" height="8"/><rect x="156" y="213" width="1" height="6" fill="#00008f"/><rect class="k" x="152" y="221" width="4" height="8"/><rect x="153" y="222" width="2" height="6" fill="#00008f"/><rect class="k" x="213" y="221" width="4" height="8"/><rect x="214" y="222" width="2" height="6" fill="#00008f"/><rect class="k" x="233" y="208" width="4" height="8"/><rect x="234" y="209" width="2" height="6" fill="#00008f"/><rect class="k" x="239" y="203" width="3" height="8"/><rect x="240" y="204" width="1" height="6" fill="#00008f"/><rect class="k" x="219" y="239" width="4" height="8"/><rect x="220" y="240" width="2" height="6" fill="#00008f"/><rect class="k" x="135" y="257" width="4" height="8"/><rect x="136" y="258" width="2" height="6" fill="#00008f"/><rect class="k" x="127" y="248" width="3" height="8"/><rect x="128" y="249" width="1" height="6" fill="#00008f"/><rect class="k" x="116" y="257" width="3" height="8"/><rect x="117" y="258" width="1" height="6" fill="#00008f"/><rect class="k" x="105" y="275" width="3" height="8"/><rect x="106" y="276" width="1" height="6" fill="#00008f"/><rect class="k" x="96" y="266" width="4" height="8"/><rect x="97" y="267" width="2" height="6" fill="#00008f"/><rect class="k" x="149" y="396" width="4" height="8"/><rect x="150" y="397" width="2" height="6" fill="#00008f"/><rect class="k" x="155" y="392" width="3" height="8"/><rect x="156" y="393" width="1" height="6" fill="#00008f"/><rect class="k" x="158" y="387" width="3" height="8"/><rect x="159" y="388" width="1" height="6" fill="#00008f"/><rect class="k" x="239" y="383" width="3" height="8"/><rect x="240" y="384" width="1" height="6" fill="#00008f"/><rect class="k" x="108" y="459" width="3" height="8"/><rect x="109" y="460" width="1" height="6" fill="#00008f"/><rect class="k" x="138" y="455" width="4" height="7"/><rect x="139" y="456" width="2" height="5" fill="#00008f"/><rect class="k" x="138" y="230" width="4" height="8"/><rect x="139" y="231" width="2" height="6" fill="#8f0000"/>
</g>
</svg>
</body></html>
